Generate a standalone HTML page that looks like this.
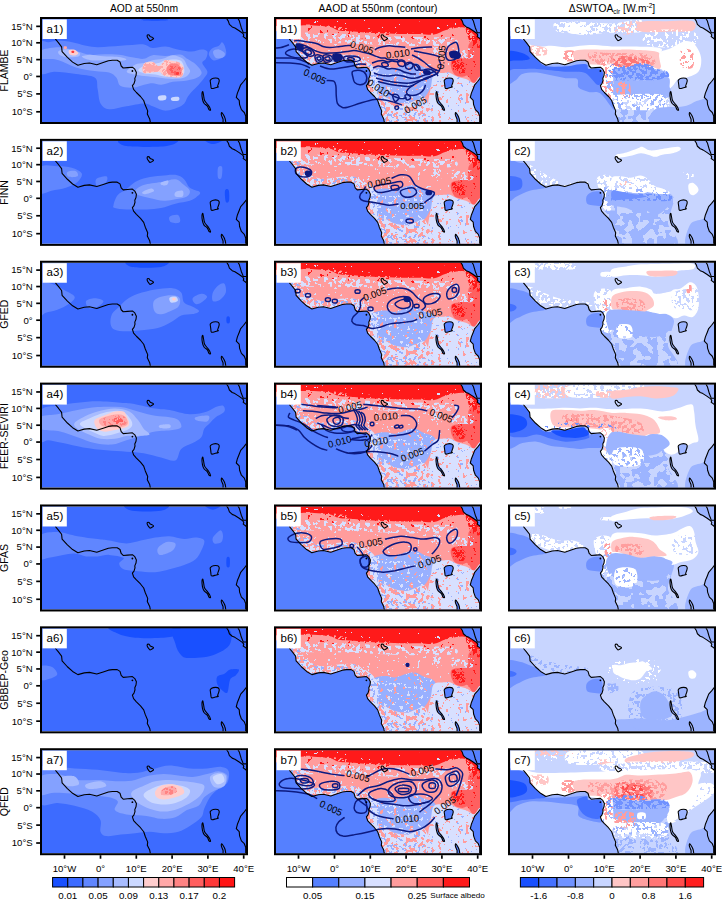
<!DOCTYPE html><html><head><meta charset="utf-8"><style>html,body{margin:0;padding:0;background:#fff;width:722px;height:899px;overflow:hidden}svg{display:block}text{font-family:"Liberation Sans",sans-serif}</style></head><body>
<svg width="722" height="899" viewBox="0 0 722 899">
<defs>
<clipPath id="cp"><rect x="2" y="2" width="204" height="103"/></clipPath>
<g id="coast"><path d="M15.3 21.9 L18.4 25.6 L21.6 29.8 L22.1 34.6 L27.4 40.4 L32.6 45.1 L37.9 48.3 L44.2 46.5 L49.5 46.0 L56.8 47.7 L63.2 45.6 L68.4 43.8 L72.4 43.3 L77.2 43.3 L80.0 45.0 L81.2 49.0 L83.2 51.0 L87.6 50.6 L92.4 50.2 L94.8 52.2 L96.4 55.4 L96.0 58.6 L94.8 61.4 L95.0 63.4 L94.0 66.7 L92.4 68.7 L93.6 72.3 L96.4 75.5 L100.5 79.5 L103.7 83.5 L105.3 88.3 L107.7 93.9 L107.3 97.1 L109.7 101.9 L110.5 106.0" fill="none" stroke="#000" stroke-width="1.1" stroke-linejoin="round"/>
<path d="M186.3 1.0 L188.3 4.1 L189.4 7.4 L192.2 9.9 L194.9 11.0 L198.8 13.5 L202.7 16.3 L203.8 18.0 L203.2 19.6 L205.5 21.3 L207.0 22.6" fill="none" stroke="#000" stroke-width="1.1" stroke-linejoin="round"/>
<path d="M197.7 1.0 L199.4 4.1 L200.2 6.9 L201.3 10.7 L202.7 14.1 L203.2 15.7 L207.0 15.7" fill="none" stroke="#000" stroke-width="1.1" stroke-linejoin="round"/>
<path d="M207.0 60.6 L206.4 60.9 L203.6 64.5 L200.7 67.8 L199.2 71.7 L197.4 76.1 L196.3 80.4 L199.2 83.3 L199.6 87.6 L201.4 92.6 L204.3 95.5 L205.7 99.1 L205.7 106.0" fill="none" stroke="#000" stroke-width="1.1" stroke-linejoin="round"/>
<path d="M170.4 63.1 C170.9 62.5 172.1 61.6 173.3 61.3 C174.5 61.0 176.6 61.0 177.6 61.3 C178.6 61.6 179.0 62.3 179.2 63.1 C179.4 63.9 179.0 65.0 178.7 66.0 C178.4 67.0 177.7 68.5 177.6 69.2 C177.5 69.9 178.7 69.7 178.3 69.9 C178.0 70.2 176.6 70.5 175.5 70.7 C174.4 71.0 172.3 71.8 171.5 71.4 C170.7 71.0 171.0 69.1 170.8 68.1 C170.6 67.1 170.5 66.0 170.4 65.2 C170.3 64.4 169.9 63.8 170.4 63.1 Z" fill="none" stroke="#000" stroke-width="1.1" stroke-linejoin="round"/>
<path d="M162.8 74.6 C163.1 74.9 163.3 77.0 163.6 78.5 C163.9 80.0 163.9 82.0 164.6 83.5 C165.3 85.0 167.1 86.7 167.9 87.8 C168.7 88.9 169.2 89.4 169.6 90.3 C170.0 91.2 170.7 92.6 170.6 93.0 C170.5 93.4 169.5 93.2 169.0 92.6 C168.5 92.0 168.2 90.3 167.4 89.2 C166.6 88.1 164.8 87.4 164.0 86.2 C163.2 85.0 162.7 83.4 162.4 81.8 C162.1 80.2 161.9 77.7 162.0 76.5 C162.1 75.3 162.5 74.3 162.8 74.6 Z" fill="none" stroke="#000" stroke-width="1.1" stroke-linejoin="round"/>
<path d="M181.6 95.5 C181.9 95.5 182.9 96.9 183.4 97.7 C183.9 98.5 184.5 99.6 184.8 100.6 C185.2 101.5 185.4 102.5 185.5 103.4 C185.6 104.3 186.0 105.6 185.6 106.0 C185.2 106.4 183.6 106.7 183.2 106.0 C182.8 105.3 183.3 103.3 183.0 102.0 C182.7 100.7 181.6 99.1 181.4 98.0 C181.2 96.9 181.3 95.5 181.6 95.5 Z" fill="none" stroke="#000" stroke-width="1.1" stroke-linejoin="round"/>
<path d="M107.2 18.3 C107.4 17.9 108.5 17.8 109.0 18.0 C109.5 18.2 109.7 19.2 110.3 19.6 C110.9 20.0 111.9 20.1 112.4 20.4 C113.0 20.7 113.7 21.2 113.6 21.6 C113.5 22.0 112.2 22.7 111.6 23.0 C111.0 23.3 110.5 23.7 110.0 23.6 C109.5 23.5 109.2 22.7 108.8 22.2 C108.4 21.7 107.9 21.2 107.6 20.6 C107.3 20.0 107.0 18.7 107.2 18.3 Z" fill="none" stroke="#000" stroke-width="1.1" stroke-linejoin="round"/>
<circle cx="92.4" cy="54" r="0.9" fill="#000"/></g>
<path id="land" d="M1.0 1.0 L186.3 1.0 L188.3 4.1 L189.4 7.4 L192.2 9.9 L194.9 11.0 L198.8 13.5 L202.7 16.3 L203.8 18.0 L203.2 19.6 L205.5 21.3 L207.0 22.6 L207.0 60.6 L206.4 60.9 L203.6 64.5 L200.7 67.8 L199.2 71.7 L197.4 76.1 L196.3 80.4 L199.2 83.3 L199.6 87.6 L201.4 92.6 L204.3 95.5 L205.7 99.1 L205.7 106.0 L110.5 106.0 L109.7 101.9 L107.3 97.1 L107.7 93.9 L105.3 88.3 L103.7 83.5 L100.5 79.5 L96.4 75.5 L93.6 72.3 L92.4 68.7 L94.0 66.7 L95.0 63.4 L94.8 61.4 L96.0 58.6 L96.4 55.4 L94.8 52.2 L92.4 50.2 L87.6 50.6 L83.2 51.0 L81.2 49.0 L80.0 45.0 L77.2 43.3 L72.4 43.3 L68.4 43.8 L63.2 45.6 L56.8 47.7 L49.5 46.0 L44.2 46.5 L37.9 48.3 L32.6 45.1 L27.4 40.4 L22.1 34.6 L21.6 29.8 L18.4 25.6 L15.3 21.9 L8.0 16.0 L2.0 14.0 Z"/>
<path id="redsea" d="M186.3 1.0 L188.3 4.1 L189.4 7.4 L192.2 9.9 L194.9 11.0 L198.8 13.5 L202.7 16.3 L203.8 18.0 L203.2 19.6 L205.5 21.3 L207.0 22.6 L207.0 15.7 L207.0 15.7 L203.2 15.7 L202.7 14.1 L201.3 10.7 L200.2 6.9 L199.4 4.1 L197.7 1.0 Z"/>
<g id="lakes3"><path d="M170.4 63.1 C170.9 62.5 172.1 61.6 173.3 61.3 C174.5 61.0 176.6 61.0 177.6 61.3 C178.6 61.6 179.0 62.3 179.2 63.1 C179.4 63.9 179.0 65.0 178.7 66.0 C178.4 67.0 177.7 68.5 177.6 69.2 C177.5 69.9 178.7 69.7 178.3 69.9 C178.0 70.2 176.6 70.5 175.5 70.7 C174.4 71.0 172.3 71.8 171.5 71.4 C170.7 71.0 171.0 69.1 170.8 68.1 C170.6 67.1 170.5 66.0 170.4 65.2 C170.3 64.4 169.9 63.8 170.4 63.1 Z"/><path d="M162.8 74.6 C163.1 74.9 163.3 77.0 163.6 78.5 C163.9 80.0 163.9 82.0 164.6 83.5 C165.3 85.0 167.1 86.7 167.9 87.8 C168.7 88.9 169.2 89.4 169.6 90.3 C170.0 91.2 170.7 92.6 170.6 93.0 C170.5 93.4 169.5 93.2 169.0 92.6 C168.5 92.0 168.2 90.3 167.4 89.2 C166.6 88.1 164.8 87.4 164.0 86.2 C163.2 85.0 162.7 83.4 162.4 81.8 C162.1 80.2 161.9 77.7 162.0 76.5 C162.1 75.3 162.5 74.3 162.8 74.6 Z"/><path d="M181.6 95.5 C181.9 95.5 182.9 96.9 183.4 97.7 C183.9 98.5 184.5 99.6 184.8 100.6 C185.2 101.5 185.4 102.5 185.5 103.4 C185.6 104.3 186.0 105.6 185.6 106.0 C185.2 106.4 183.6 106.7 183.2 106.0 C182.8 105.3 183.3 103.3 183.0 102.0 C182.7 100.7 181.6 99.1 181.4 98.0 C181.2 96.9 181.3 95.5 181.6 95.5 Z"/></g>
<clipPath id="lc"><path d="M1.0 1.0 L186.3 1.0 L188.3 4.1 L189.4 7.4 L192.2 9.9 L194.9 11.0 L198.8 13.5 L202.7 16.3 L203.8 18.0 L203.2 19.6 L205.5 21.3 L207.0 22.6 L207.0 60.6 L206.4 60.9 L203.6 64.5 L200.7 67.8 L199.2 71.7 L197.4 76.1 L196.3 80.4 L199.2 83.3 L199.6 87.6 L201.4 92.6 L204.3 95.5 L205.7 99.1 L205.7 106.0 L110.5 106.0 L109.7 101.9 L107.3 97.1 L107.7 93.9 L105.3 88.3 L103.7 83.5 L100.5 79.5 L96.4 75.5 L93.6 72.3 L92.4 68.7 L94.0 66.7 L95.0 63.4 L94.8 61.4 L96.0 58.6 L96.4 55.4 L94.8 52.2 L92.4 50.2 L87.6 50.6 L83.2 51.0 L81.2 49.0 L80.0 45.0 L77.2 43.3 L72.4 43.3 L68.4 43.8 L63.2 45.6 L56.8 47.7 L49.5 46.0 L44.2 46.5 L37.9 48.3 L32.6 45.1 L27.4 40.4 L22.1 34.6 L21.6 29.8 L18.4 25.6 L15.3 21.9 L8.0 16.0 L2.0 14.0 Z"/></clipPath>
<g id="albedo"><rect x="0" y="0" width="208" height="107" fill="#5580ff"/>
<g clip-path="url(#lc)">
<rect x="0" y="0" width="208" height="107" fill="#ff9c9c"/>
<path d="M0.0 -3.0 C35.3 -4.9 176.7 -8.0 212.0 -3.0 C247.3 2.0 213.0 22.0 212.0 27.0 C211.0 32.0 208.0 28.5 206.0 27.0 C204.0 25.5 202.3 20.7 200.0 18.0 C197.7 15.3 194.5 12.2 192.0 11.0 C189.5 9.8 188.3 10.2 185.0 10.5 C181.7 10.8 176.2 11.8 172.0 13.0 C167.8 14.2 164.3 16.8 160.0 17.5 C155.7 18.2 151.0 17.1 146.0 17.0 C141.0 16.9 136.0 17.1 130.0 17.0 C124.0 16.9 116.5 16.8 110.0 16.5 C103.5 16.2 96.0 15.8 91.0 15.5 C86.0 15.2 84.3 14.8 80.0 14.5 C75.7 14.2 69.0 14.2 65.0 13.5 C61.0 12.8 60.2 10.8 56.0 10.0 C51.8 9.2 44.8 8.8 40.0 8.5 C35.2 8.2 33.7 8.5 27.0 8.5 C20.3 8.5 4.5 10.4 0.0 8.5 C-4.5 6.6 -35.3 -1.1 0.0 -3.0 Z" fill="#ff1a1a"/>
<path d="M27.0 7.5 C32.5 7.4 49.5 7.9 60.0 9.0 C70.5 10.1 78.3 12.9 90.0 14.0 C101.7 15.1 117.5 15.2 130.0 15.5 C142.5 15.8 157.5 16.8 165.0 16.0 C172.5 15.2 170.8 12.1 175.0 11.0 C179.2 9.9 187.2 9.3 190.0 9.5 C192.8 9.7 193.7 11.3 192.0 12.0 C190.3 12.7 184.5 12.4 180.0 13.5 C175.5 14.6 173.3 17.8 165.0 18.5 C156.7 19.2 142.5 18.2 130.0 18.0 C117.5 17.8 101.7 17.9 90.0 17.0 C78.3 16.1 70.5 13.8 60.0 12.5 C49.5 11.2 32.5 10.3 27.0 9.5 C21.5 8.7 21.5 7.6 27.0 7.5 Z" fill="#ff9c9c" filter="url(#f89)"/>
<path d="M27.0 3.0 C39.2 2.2 77.8 2.7 100.0 3.0 C122.2 3.3 143.3 4.8 160.0 5.0 C176.7 5.2 193.3 2.8 200.0 4.0 C206.7 5.2 206.7 10.5 200.0 12.0 C193.3 13.5 176.7 13.0 160.0 13.0 C143.3 13.0 122.2 12.8 100.0 12.0 C77.8 11.2 39.2 9.5 27.0 8.0 C14.8 6.5 14.8 3.8 27.0 3.0 Z" fill="#d8e0ff" filter="url(#f90)"/>
<path d="M27.0 8.0 C49.2 8.5 135.3 16.3 160.0 17.0 C184.7 17.7 172.5 11.2 175.0 12.0 C177.5 12.8 187.5 20.3 175.0 22.0 C162.5 23.7 124.7 23.3 100.0 22.0 C75.3 20.7 39.2 16.3 27.0 14.0 C14.8 11.7 4.8 7.5 27.0 8.0 Z" fill="#ff1a1a" filter="url(#f91)"/>
<path d="M20.0 16.0 C26.7 14.6 46.7 16.1 60.0 16.5 C73.3 16.9 86.7 17.9 100.0 18.5 C113.3 19.1 127.0 19.6 140.0 20.0 C153.0 20.4 171.3 19.7 178.0 21.0 C184.7 22.3 186.3 26.7 180.0 28.0 C173.7 29.3 153.3 29.1 140.0 29.0 C126.7 28.9 113.3 28.0 100.0 27.5 C86.7 27.0 73.3 26.4 60.0 26.0 C46.7 25.6 26.7 26.7 20.0 25.0 C13.3 23.3 13.3 17.4 20.0 16.0 Z" fill="#d8e0ff" filter="url(#f92)"/>
<path d="M20.0 25.0 C46.7 20.8 153.3 20.8 180.0 25.0 C206.7 29.2 206.7 45.8 180.0 50.0 C153.3 54.2 46.7 54.2 20.0 50.0 C-6.7 45.8 -6.7 29.2 20.0 25.0 Z" fill="#d8e0ff" filter="url(#f93)"/>
<path d="M12.0 20.0 C11.3 21.0 16.0 24.3 18.0 27.0 C20.0 29.7 21.7 33.2 24.0 36.0 C26.3 38.8 29.7 42.0 32.0 44.0 C34.3 46.0 36.0 47.6 38.0 48.0 C40.0 48.4 41.0 46.5 44.0 46.5 C47.0 46.5 52.0 48.2 56.0 47.7 C60.0 47.2 64.5 44.6 68.0 43.8 C71.5 43.0 74.8 42.1 77.0 43.0 C79.2 43.9 78.5 47.8 81.0 49.0 C83.5 50.2 89.5 49.0 92.0 50.0 C94.5 51.0 95.5 53.0 96.0 55.0 C96.5 57.0 94.2 60.8 95.0 62.0 C95.8 63.2 100.0 63.7 101.0 62.0 C102.0 60.3 102.5 55.0 101.0 52.0 C99.5 49.0 95.5 46.3 92.0 44.0 C88.5 41.7 84.3 39.0 80.0 38.0 C75.7 37.0 70.7 37.7 66.0 38.0 C61.3 38.3 56.3 40.0 52.0 40.0 C47.7 40.0 43.7 39.7 40.0 38.0 C36.3 36.3 33.0 32.8 30.0 30.0 C27.0 27.2 25.0 22.7 22.0 21.0 C19.0 19.3 12.7 19.0 12.0 20.0 Z" fill="#d8e0ff" filter="url(#f94)"/>
<path d="M12.0 20.0 C11.3 21.0 16.0 24.3 18.0 27.0 C20.0 29.7 21.7 33.2 24.0 36.0 C26.3 38.8 29.7 42.0 32.0 44.0 C34.3 46.0 36.0 47.6 38.0 48.0 C40.0 48.4 41.0 46.5 44.0 46.5 C47.0 46.5 52.0 48.2 56.0 47.7 C60.0 47.2 64.5 44.6 68.0 43.8 C71.5 43.0 74.8 42.1 77.0 43.0 C79.2 43.9 78.5 47.8 81.0 49.0 C83.5 50.2 89.5 49.0 92.0 50.0 C94.5 51.0 95.5 53.0 96.0 55.0 C96.5 57.0 94.2 60.8 95.0 62.0 C95.8 63.2 100.0 63.7 101.0 62.0 C102.0 60.3 102.5 55.0 101.0 52.0 C99.5 49.0 95.5 46.3 92.0 44.0 C88.5 41.7 84.3 39.0 80.0 38.0 C75.7 37.0 70.7 37.7 66.0 38.0 C61.3 38.3 56.3 40.0 52.0 40.0 C47.7 40.0 43.7 39.7 40.0 38.0 C36.3 36.3 33.0 32.8 30.0 30.0 C27.0 27.2 25.0 22.7 22.0 21.0 C19.0 19.3 12.7 19.0 12.0 20.0 Z" fill="#98b0ff" filter="url(#f95)"/>
<path d="M195.4 26.4 C197.6 24.0 205.1 16.7 207.0 24.0 C208.9 31.3 208.2 62.7 207.0 70.0 C205.8 77.3 201.9 69.5 200.0 68.0 C198.1 66.5 196.6 62.6 195.4 61.0 C194.2 59.4 193.8 58.6 192.7 58.4 C191.6 58.2 190.5 59.7 188.7 59.7 C186.9 59.7 183.7 59.3 182.0 58.4 C180.3 57.5 179.6 56.2 178.7 54.4 C177.8 52.6 176.7 49.6 176.7 47.7 C176.7 45.8 176.5 44.1 178.7 43.0 C180.9 41.9 187.4 41.8 190.0 41.0 C192.6 40.2 193.1 40.8 194.0 38.4 C194.9 36.0 193.2 28.8 195.4 26.4 Z" fill="#ff6060"/>
<path d="M178.5 44.0 C179.7 42.6 183.8 43.0 186.0 43.7 C188.2 44.4 190.7 46.0 191.4 48.0 C192.1 50.0 191.2 54.4 190.0 55.7 C188.8 57.0 185.8 56.6 184.0 56.0 C182.2 55.4 179.9 54.0 179.0 52.0 C178.1 50.0 177.3 45.4 178.5 44.0 Z" fill="#ff1a1a" filter="url(#f96)"/>
<path d="M192.0 11.0 C193.0 9.3 197.5 9.8 200.0 10.0 C202.5 10.2 205.8 8.7 207.0 12.0 C208.2 15.3 208.5 27.3 207.0 30.0 C205.5 32.7 200.2 29.7 198.0 28.0 C195.8 26.3 195.0 22.8 194.0 20.0 C193.0 17.2 191.0 12.7 192.0 11.0 Z" fill="#ff1a1a" filter="url(#f97)"/>
<path d="M195.4 26.4 C197.6 24.0 205.1 16.7 207.0 24.0 C208.9 31.3 208.2 62.7 207.0 70.0 C205.8 77.3 201.9 69.5 200.0 68.0 C198.1 66.5 196.6 62.6 195.4 61.0 C194.2 59.4 193.8 58.6 192.7 58.4 C191.6 58.2 190.5 59.7 188.7 59.7 C186.9 59.7 183.7 59.3 182.0 58.4 C180.3 57.5 179.6 56.2 178.7 54.4 C177.8 52.6 176.7 49.6 176.7 47.7 C176.7 45.8 176.5 44.1 178.7 43.0 C180.9 41.9 187.4 41.8 190.0 41.0 C192.6 40.2 193.1 40.8 194.0 38.4 C194.9 36.0 193.2 28.8 195.4 26.4 Z" fill="#ff1a1a" filter="url(#f98)"/>
<path d="M178.0 31.7 C180.0 30.2 186.4 30.8 190.0 31.0 C193.6 31.2 198.1 31.3 199.4 33.0 C200.7 34.7 200.4 39.7 198.0 41.0 C195.6 42.3 188.3 41.2 185.0 41.0 C181.7 40.8 179.2 41.5 178.0 40.0 C176.8 38.5 176.0 33.2 178.0 31.7 Z" fill="#d8e0ff" filter="url(#f99)"/>
<path d="M160.0 31.0 C161.2 29.6 166.1 29.6 167.3 31.0 C168.5 32.5 168.5 38.2 167.3 39.7 C166.1 41.2 161.2 41.2 160.0 39.7 C158.8 38.2 158.8 32.5 160.0 31.0 Z" fill="#d8e0ff" filter="url(#f100)"/>
<path d="M96.0 55.0 C97.0 51.7 101.2 51.3 104.0 50.4 C106.8 49.5 109.7 49.6 112.6 49.7 C115.5 49.8 117.9 51.5 121.3 51.1 C124.7 50.7 129.4 48.3 132.8 47.5 C136.2 46.7 138.6 45.6 141.5 46.1 C144.4 46.6 147.2 49.2 150.1 50.4 C153.0 51.6 156.8 52.1 158.7 53.3 C160.6 54.5 161.6 55.7 161.6 57.6 C161.6 59.5 159.6 62.4 158.7 64.8 C157.8 67.2 157.3 69.3 155.9 72.0 C154.5 74.7 152.5 78.8 150.1 80.7 C147.7 82.6 144.4 82.5 141.5 83.5 C138.6 84.5 136.2 86.2 132.8 86.4 C129.4 86.7 124.7 86.0 121.3 85.0 C117.9 84.0 115.5 81.9 112.6 80.7 C109.7 79.5 106.4 79.6 104.0 77.8 C101.6 76.0 99.3 73.8 98.0 70.0 C96.7 66.2 95.0 58.3 96.0 55.0 Z" fill="#98b0ff"/>
<path d="M96.0 55.0 C97.0 51.7 101.2 51.3 104.0 50.4 C106.8 49.5 109.7 49.6 112.6 49.7 C115.5 49.8 117.9 51.5 121.3 51.1 C124.7 50.7 129.4 48.3 132.8 47.5 C136.2 46.7 138.6 45.6 141.5 46.1 C144.4 46.6 147.2 49.2 150.1 50.4 C153.0 51.6 156.8 52.1 158.7 53.3 C160.6 54.5 161.6 55.7 161.6 57.6 C161.6 59.5 159.6 62.4 158.7 64.8 C157.8 67.2 157.3 69.3 155.9 72.0 C154.5 74.7 152.5 78.8 150.1 80.7 C147.7 82.6 144.4 82.5 141.5 83.5 C138.6 84.5 136.2 86.2 132.8 86.4 C129.4 86.7 124.7 86.0 121.3 85.0 C117.9 84.0 115.5 81.9 112.6 80.7 C109.7 79.5 106.4 79.6 104.0 77.8 C101.6 76.0 99.3 73.8 98.0 70.0 C96.7 66.2 95.0 58.3 96.0 55.0 Z" fill="#ff9c9c" filter="url(#f101)"/>
<path d="M96.0 55.0 C97.0 51.7 101.2 51.3 104.0 50.4 C106.8 49.5 109.7 49.6 112.6 49.7 C115.5 49.8 117.9 51.5 121.3 51.1 C124.7 50.7 129.4 48.3 132.8 47.5 C136.2 46.7 138.6 45.6 141.5 46.1 C144.4 46.6 147.2 49.2 150.1 50.4 C153.0 51.6 156.8 52.1 158.7 53.3 C160.6 54.5 161.6 55.7 161.6 57.6 C161.6 59.5 159.6 62.4 158.7 64.8 C157.8 67.2 157.3 69.3 155.9 72.0 C154.5 74.7 152.5 78.8 150.1 80.7 C147.7 82.6 144.4 82.5 141.5 83.5 C138.6 84.5 136.2 86.2 132.8 86.4 C129.4 86.7 124.7 86.0 121.3 85.0 C117.9 84.0 115.5 81.9 112.6 80.7 C109.7 79.5 106.4 79.6 104.0 77.8 C101.6 76.0 99.3 73.8 98.0 70.0 C96.7 66.2 95.0 58.3 96.0 55.0 Z" fill="#d8e0ff" filter="url(#f102)"/>
<path d="M160.0 57.6 C162.2 55.3 167.3 56.3 170.0 56.0 C172.7 55.7 173.7 55.3 176.0 56.0 C178.3 56.7 181.3 59.0 184.0 60.0 C186.7 61.0 189.3 61.0 192.0 62.0 C194.7 63.0 197.5 66.0 200.0 66.0 C202.5 66.0 205.8 55.0 207.0 62.0 C208.2 69.0 215.2 100.3 207.0 108.0 C198.8 115.7 166.8 111.0 158.0 108.0 C149.2 105.0 154.2 96.3 154.0 90.0 C153.8 83.7 156.0 75.4 157.0 70.0 C158.0 64.6 157.8 59.9 160.0 57.6 Z" fill="#d8e0ff"/>
<path d="M160.0 57.6 C162.2 55.3 167.3 56.3 170.0 56.0 C172.7 55.7 173.7 55.3 176.0 56.0 C178.3 56.7 181.3 59.0 184.0 60.0 C186.7 61.0 189.3 61.0 192.0 62.0 C194.7 63.0 197.5 66.0 200.0 66.0 C202.5 66.0 205.8 55.0 207.0 62.0 C208.2 69.0 215.2 100.3 207.0 108.0 C198.8 115.7 166.8 111.0 158.0 108.0 C149.2 105.0 154.2 96.3 154.0 90.0 C153.8 83.7 156.0 75.4 157.0 70.0 C158.0 64.6 157.8 59.9 160.0 57.6 Z" fill="#ff9c9c" filter="url(#f103)"/>
<path d="M160.0 57.6 C162.2 55.3 167.3 56.3 170.0 56.0 C172.7 55.7 173.7 55.3 176.0 56.0 C178.3 56.7 181.3 59.0 184.0 60.0 C186.7 61.0 189.3 61.0 192.0 62.0 C194.7 63.0 197.5 66.0 200.0 66.0 C202.5 66.0 205.8 55.0 207.0 62.0 C208.2 69.0 215.2 100.3 207.0 108.0 C198.8 115.7 166.8 111.0 158.0 108.0 C149.2 105.0 154.2 96.3 154.0 90.0 C153.8 83.7 156.0 75.4 157.0 70.0 C158.0 64.6 157.8 59.9 160.0 57.6 Z" fill="#98b0ff" filter="url(#f104)"/>
<path d="M98.0 72.0 C99.0 67.0 101.6 76.3 104.0 77.8 C106.4 79.2 109.7 79.5 112.6 80.7 C115.5 81.9 117.9 84.0 121.3 85.0 C124.7 86.0 129.4 86.7 132.8 86.4 C136.2 86.2 138.6 84.5 141.5 83.5 C144.4 82.5 147.8 79.6 150.1 80.7 C152.3 81.8 153.7 85.5 155.0 90.0 C156.3 94.5 167.5 105.0 158.0 108.0 C148.5 111.0 108.0 114.0 98.0 108.0 C88.0 102.0 97.0 77.0 98.0 72.0 Z" fill="#d8e0ff"/>
<path d="M98.0 72.0 C99.0 67.0 101.6 76.3 104.0 77.8 C106.4 79.2 109.7 79.5 112.6 80.7 C115.5 81.9 117.9 84.0 121.3 85.0 C124.7 86.0 129.4 86.7 132.8 86.4 C136.2 86.2 138.6 84.5 141.5 83.5 C144.4 82.5 147.8 79.6 150.1 80.7 C152.3 81.8 153.7 85.5 155.0 90.0 C156.3 94.5 167.5 105.0 158.0 108.0 C148.5 111.0 108.0 114.0 98.0 108.0 C88.0 102.0 97.0 77.0 98.0 72.0 Z" fill="#ff9c9c" filter="url(#f105)"/>
<path d="M98.0 72.0 C99.0 67.0 101.6 76.3 104.0 77.8 C106.4 79.2 109.7 79.5 112.6 80.7 C115.5 81.9 117.9 84.0 121.3 85.0 C124.7 86.0 129.4 86.7 132.8 86.4 C136.2 86.2 138.6 84.5 141.5 83.5 C144.4 82.5 147.8 79.6 150.1 80.7 C152.3 81.8 153.7 85.5 155.0 90.0 C156.3 94.5 167.5 105.0 158.0 108.0 C148.5 111.0 108.0 114.0 98.0 108.0 C88.0 102.0 97.0 77.0 98.0 72.0 Z" fill="#98b0ff" filter="url(#f106)"/>
<path d="M95.0 55.0 C95.8 45.7 98.5 51.2 100.0 52.0 C101.5 52.8 103.3 50.7 104.0 60.0 C104.7 69.3 105.5 100.0 104.0 108.0 C102.5 116.0 96.5 116.8 95.0 108.0 C93.5 99.2 94.2 64.3 95.0 55.0 Z" fill="#d8e0ff" filter="url(#f107)"/>
</g>
<use href="#lakes3" fill="#5580ff"/><use href="#redsea" fill="#5580ff"/></g>
<filter id="f0" x="0" y="0" width="1" height="1" color-interpolation-filters="sRGB"><feTurbulence type="fractalNoise" baseFrequency="0.3" numOctaves="2" seed="21" result="n"/><feColorMatrix in="n" type="matrix" values="0 0 0 0 0 0 0 0 0 0 0 0 0 0 0 20 0 0 0 -9.552" result="a"/><feComponentTransfer in="a" result="t"><feFuncA type="discrete" tableValues="0 1"/></feComponentTransfer><feComposite in="SourceGraphic" in2="t" operator="in"/></filter>
<filter id="f1" x="0" y="0" width="1" height="1" color-interpolation-filters="sRGB"><feTurbulence type="fractalNoise" baseFrequency="0.3" numOctaves="2" seed="22" result="n"/><feColorMatrix in="n" type="matrix" values="0 0 0 0 0 0 0 0 0 0 0 0 0 0 0 20 0 0 0 -10.763" result="a"/><feComponentTransfer in="a" result="t"><feFuncA type="discrete" tableValues="0 1"/></feComponentTransfer><feComposite in="SourceGraphic" in2="t" operator="in"/></filter>
<filter id="f2" x="0" y="0" width="1" height="1" color-interpolation-filters="sRGB"><feTurbulence type="fractalNoise" baseFrequency="0.12" numOctaves="2" seed="203" result="n"/><feColorMatrix in="n" type="matrix" values="0 0 0 0 0 0 0 0 0 0 0 0 0 0 0 20 0 0 0 -12.059" result="a"/><feComponentTransfer in="a" result="t"><feFuncA type="discrete" tableValues="0 1"/></feComponentTransfer><feComposite in="SourceGraphic" in2="t" operator="in"/></filter>
<filter id="f3" x="0" y="0" width="1" height="1" color-interpolation-filters="sRGB"><feTurbulence type="fractalNoise" baseFrequency="0.12" numOctaves="2" seed="204" result="n"/><feColorMatrix in="n" type="matrix" values="0 0 0 0 0 0 0 0 0 0 0 0 0 0 0 20 0 0 0 -10.126" result="a"/><feComponentTransfer in="a" result="t"><feFuncA type="discrete" tableValues="0 1"/></feComponentTransfer><feComposite in="SourceGraphic" in2="t" operator="in"/></filter>
<filter id="f4" x="0" y="0" width="1" height="1" color-interpolation-filters="sRGB"><feTurbulence type="fractalNoise" baseFrequency="0.28" numOctaves="2" seed="51" result="n"/><feColorMatrix in="n" type="matrix" values="0 0 0 0 0 0 0 0 0 0 0 0 0 0 0 20 0 0 0 -9.241" result="a"/><feComponentTransfer in="a" result="t"><feFuncA type="discrete" tableValues="0 1"/></feComponentTransfer><feComposite in="SourceGraphic" in2="t" operator="in"/></filter>
<filter id="f5" x="0" y="0" width="1" height="1" color-interpolation-filters="sRGB"><feTurbulence type="fractalNoise" baseFrequency="0.28" numOctaves="2" seed="52" result="n"/><feColorMatrix in="n" type="matrix" values="0 0 0 0 0 0 0 0 0 0 0 0 0 0 0 20 0 0 0 -7.500" result="a"/><feComponentTransfer in="a" result="t"><feFuncA type="discrete" tableValues="0 1"/></feComponentTransfer><feComposite in="SourceGraphic" in2="t" operator="in"/></filter>
<filter id="f6" x="0" y="0" width="1" height="1" color-interpolation-filters="sRGB"><feTurbulence type="fractalNoise" baseFrequency="0.28" numOctaves="2" seed="133" result="n"/><feColorMatrix in="n" type="matrix" values="0 0 0 0 0 0 0 0 0 0 0 0 0 0 0 20 0 0 0 -10.126" result="a"/><feComponentTransfer in="a" result="t"><feFuncA type="discrete" tableValues="0 1"/></feComponentTransfer><feComposite in="SourceGraphic" in2="t" operator="in"/></filter>
<filter id="f7" x="0" y="0" width="1" height="1" color-interpolation-filters="sRGB"><feTurbulence type="fractalNoise" baseFrequency="0.28" numOctaves="2" seed="53" result="n"/><feColorMatrix in="n" type="matrix" values="0 0 0 0 0 0 0 0 0 0 0 0 0 0 0 20 0 0 0 -11.139" result="a"/><feComponentTransfer in="a" result="t"><feFuncA type="discrete" tableValues="0 1"/></feComponentTransfer><feComposite in="SourceGraphic" in2="t" operator="in"/></filter>
<filter id="f8" x="0" y="0" width="1" height="1" color-interpolation-filters="sRGB"><feTurbulence type="fractalNoise" baseFrequency="0.28" numOctaves="2" seed="54" result="n"/><feColorMatrix in="n" type="matrix" values="0 0 0 0 0 0 0 0 0 0 0 0 0 0 0 20 0 0 0 -9.241" result="a"/><feComponentTransfer in="a" result="t"><feFuncA type="discrete" tableValues="0 1"/></feComponentTransfer><feComposite in="SourceGraphic" in2="t" operator="in"/></filter>
<filter id="f9" x="0" y="0" width="1" height="1" color-interpolation-filters="sRGB"><feTurbulence type="fractalNoise" baseFrequency="0.28" numOctaves="2" seed="55" result="n"/><feColorMatrix in="n" type="matrix" values="0 0 0 0 0 0 0 0 0 0 0 0 0 0 0 20 0 0 0 -8.924" result="a"/><feComponentTransfer in="a" result="t"><feFuncA type="discrete" tableValues="0 1"/></feComponentTransfer><feComposite in="SourceGraphic" in2="t" operator="in"/></filter>
<filter id="f10" x="0" y="0" width="1" height="1" color-interpolation-filters="sRGB"><feTurbulence type="fractalNoise" baseFrequency="0.28" numOctaves="2" seed="56" result="n"/><feColorMatrix in="n" type="matrix" values="0 0 0 0 0 0 0 0 0 0 0 0 0 0 0 20 0 0 0 -9.552" result="a"/><feComponentTransfer in="a" result="t"><feFuncA type="discrete" tableValues="0 1"/></feComponentTransfer><feComposite in="SourceGraphic" in2="t" operator="in"/></filter>
<filter id="f11" x="0" y="0" width="1" height="1" color-interpolation-filters="sRGB"><feTurbulence type="fractalNoise" baseFrequency="0.28" numOctaves="2" seed="57" result="n"/><feColorMatrix in="n" type="matrix" values="0 0 0 0 0 0 0 0 0 0 0 0 0 0 0 20 0 0 0 -9.241" result="a"/><feComponentTransfer in="a" result="t"><feFuncA type="discrete" tableValues="0 1"/></feComponentTransfer><feComposite in="SourceGraphic" in2="t" operator="in"/></filter>
<filter id="f12" x="0" y="0" width="1" height="1" color-interpolation-filters="sRGB"><feTurbulence type="fractalNoise" baseFrequency="0.28" numOctaves="2" seed="58" result="n"/><feColorMatrix in="n" type="matrix" values="0 0 0 0 0 0 0 0 0 0 0 0 0 0 0 20 0 0 0 -10.126" result="a"/><feComponentTransfer in="a" result="t"><feFuncA type="discrete" tableValues="0 1"/></feComponentTransfer><feComposite in="SourceGraphic" in2="t" operator="in"/></filter>
<filter id="f13" x="0" y="0" width="1" height="1" color-interpolation-filters="sRGB"><feTurbulence type="fractalNoise" baseFrequency="0.28" numOctaves="2" seed="59" result="n"/><feColorMatrix in="n" type="matrix" values="0 0 0 0 0 0 0 0 0 0 0 0 0 0 0 20 0 0 0 -10.414" result="a"/><feComponentTransfer in="a" result="t"><feFuncA type="discrete" tableValues="0 1"/></feComponentTransfer><feComposite in="SourceGraphic" in2="t" operator="in"/></filter>
<filter id="f14" x="0" y="0" width="1" height="1" color-interpolation-filters="sRGB"><feTurbulence type="fractalNoise" baseFrequency="0.28" numOctaves="2" seed="132" result="n"/><feColorMatrix in="n" type="matrix" values="0 0 0 0 0 0 0 0 0 0 0 0 0 0 0 20 0 0 0 -8.924" result="a"/><feComponentTransfer in="a" result="t"><feFuncA type="discrete" tableValues="0 1"/></feComponentTransfer><feComposite in="SourceGraphic" in2="t" operator="in"/></filter>
<filter id="f15" x="0" y="0" width="1" height="1" color-interpolation-filters="sRGB"><feTurbulence type="fractalNoise" baseFrequency="0.28" numOctaves="2" seed="60" result="n"/><feColorMatrix in="n" type="matrix" values="0 0 0 0 0 0 0 0 0 0 0 0 0 0 0 20 0 0 0 -9.552" result="a"/><feComponentTransfer in="a" result="t"><feFuncA type="discrete" tableValues="0 1"/></feComponentTransfer><feComposite in="SourceGraphic" in2="t" operator="in"/></filter>
<filter id="f16" x="0" y="0" width="1" height="1" color-interpolation-filters="sRGB"><feTurbulence type="fractalNoise" baseFrequency="0.28" numOctaves="2" seed="61" result="n"/><feColorMatrix in="n" type="matrix" values="0 0 0 0 0 0 0 0 0 0 0 0 0 0 0 20 0 0 0 -8.924" result="a"/><feComponentTransfer in="a" result="t"><feFuncA type="discrete" tableValues="0 1"/></feComponentTransfer><feComposite in="SourceGraphic" in2="t" operator="in"/></filter>
<filter id="f17" x="0" y="0" width="1" height="1" color-interpolation-filters="sRGB"><feTurbulence type="fractalNoise" baseFrequency="0.28" numOctaves="2" seed="62" result="n"/><feColorMatrix in="n" type="matrix" values="0 0 0 0 0 0 0 0 0 0 0 0 0 0 0 20 0 0 0 -9.241" result="a"/><feComponentTransfer in="a" result="t"><feFuncA type="discrete" tableValues="0 1"/></feComponentTransfer><feComposite in="SourceGraphic" in2="t" operator="in"/></filter>
<filter id="f18" x="0" y="0" width="1" height="1" color-interpolation-filters="sRGB"><feTurbulence type="fractalNoise" baseFrequency="0.28" numOctaves="2" seed="63" result="n"/><feColorMatrix in="n" type="matrix" values="0 0 0 0 0 0 0 0 0 0 0 0 0 0 0 20 0 0 0 -11.139" result="a"/><feComponentTransfer in="a" result="t"><feFuncA type="discrete" tableValues="0 1"/></feComponentTransfer><feComposite in="SourceGraphic" in2="t" operator="in"/></filter>
<filter id="f19" x="0" y="0" width="1" height="1" color-interpolation-filters="sRGB"><feTurbulence type="fractalNoise" baseFrequency="0.12" numOctaves="2" seed="206" result="n"/><feColorMatrix in="n" type="matrix" values="0 0 0 0 0 0 0 0 0 0 0 0 0 0 0 20 0 0 0 -12.059" result="a"/><feComponentTransfer in="a" result="t"><feFuncA type="discrete" tableValues="0 1"/></feComponentTransfer><feComposite in="SourceGraphic" in2="t" operator="in"/></filter>
<filter id="f20" x="0" y="0" width="1" height="1" color-interpolation-filters="sRGB"><feTurbulence type="fractalNoise" baseFrequency="0.12" numOctaves="2" seed="207" result="n"/><feColorMatrix in="n" type="matrix" values="0 0 0 0 0 0 0 0 0 0 0 0 0 0 0 20 0 0 0 -10.126" result="a"/><feComponentTransfer in="a" result="t"><feFuncA type="discrete" tableValues="0 1"/></feComponentTransfer><feComposite in="SourceGraphic" in2="t" operator="in"/></filter>
<filter id="f21" x="0" y="0" width="1" height="1" color-interpolation-filters="sRGB"><feTurbulence type="fractalNoise" baseFrequency="0.28" numOctaves="2" seed="64" result="n"/><feColorMatrix in="n" type="matrix" values="0 0 0 0 0 0 0 0 0 0 0 0 0 0 0 20 0 0 0 -10.763" result="a"/><feComponentTransfer in="a" result="t"><feFuncA type="discrete" tableValues="0 1"/></feComponentTransfer><feComposite in="SourceGraphic" in2="t" operator="in"/></filter>
<filter id="f22" x="0" y="0" width="1" height="1" color-interpolation-filters="sRGB"><feTurbulence type="fractalNoise" baseFrequency="0.28" numOctaves="2" seed="65" result="n"/><feColorMatrix in="n" type="matrix" values="0 0 0 0 0 0 0 0 0 0 0 0 0 0 0 20 0 0 0 -8.252" result="a"/><feComponentTransfer in="a" result="t"><feFuncA type="discrete" tableValues="0 1"/></feComponentTransfer><feComposite in="SourceGraphic" in2="t" operator="in"/></filter>
<filter id="f23" x="0" y="0" width="1" height="1" color-interpolation-filters="sRGB"><feTurbulence type="fractalNoise" baseFrequency="0.28" numOctaves="2" seed="66" result="n"/><feColorMatrix in="n" type="matrix" values="0 0 0 0 0 0 0 0 0 0 0 0 0 0 0 20 0 0 0 -7.876" result="a"/><feComponentTransfer in="a" result="t"><feFuncA type="discrete" tableValues="0 1"/></feComponentTransfer><feComposite in="SourceGraphic" in2="t" operator="in"/></filter>
<filter id="f24" x="0" y="0" width="1" height="1" color-interpolation-filters="sRGB"><feTurbulence type="fractalNoise" baseFrequency="0.28" numOctaves="2" seed="67" result="n"/><feColorMatrix in="n" type="matrix" values="0 0 0 0 0 0 0 0 0 0 0 0 0 0 0 20 0 0 0 -10.414" result="a"/><feComponentTransfer in="a" result="t"><feFuncA type="discrete" tableValues="0 1"/></feComponentTransfer><feComposite in="SourceGraphic" in2="t" operator="in"/></filter>
<filter id="f25" x="0" y="0" width="1" height="1" color-interpolation-filters="sRGB"><feTurbulence type="fractalNoise" baseFrequency="0.28" numOctaves="2" seed="134" result="n"/><feColorMatrix in="n" type="matrix" values="0 0 0 0 0 0 0 0 0 0 0 0 0 0 0 20 0 0 0 -10.414" result="a"/><feComponentTransfer in="a" result="t"><feFuncA type="discrete" tableValues="0 1"/></feComponentTransfer><feComposite in="SourceGraphic" in2="t" operator="in"/></filter>
<filter id="f26" x="0" y="0" width="1" height="1" color-interpolation-filters="sRGB"><feTurbulence type="fractalNoise" baseFrequency="0.28" numOctaves="2" seed="69" result="n"/><feColorMatrix in="n" type="matrix" values="0 0 0 0 0 0 0 0 0 0 0 0 0 0 0 20 0 0 0 -10.763" result="a"/><feComponentTransfer in="a" result="t"><feFuncA type="discrete" tableValues="0 1"/></feComponentTransfer><feComposite in="SourceGraphic" in2="t" operator="in"/></filter>
<filter id="f27" x="0" y="0" width="1" height="1" color-interpolation-filters="sRGB"><feTurbulence type="fractalNoise" baseFrequency="0.12" numOctaves="2" seed="209" result="n"/><feColorMatrix in="n" type="matrix" values="0 0 0 0 0 0 0 0 0 0 0 0 0 0 0 20 0 0 0 -12.059" result="a"/><feComponentTransfer in="a" result="t"><feFuncA type="discrete" tableValues="0 1"/></feComponentTransfer><feComposite in="SourceGraphic" in2="t" operator="in"/></filter>
<filter id="f28" x="0" y="0" width="1" height="1" color-interpolation-filters="sRGB"><feTurbulence type="fractalNoise" baseFrequency="0.12" numOctaves="2" seed="210" result="n"/><feColorMatrix in="n" type="matrix" values="0 0 0 0 0 0 0 0 0 0 0 0 0 0 0 20 0 0 0 -10.126" result="a"/><feComponentTransfer in="a" result="t"><feFuncA type="discrete" tableValues="0 1"/></feComponentTransfer><feComposite in="SourceGraphic" in2="t" operator="in"/></filter>
<filter id="f29" x="0" y="0" width="1" height="1" color-interpolation-filters="sRGB"><feTurbulence type="fractalNoise" baseFrequency="0.28" numOctaves="2" seed="71" result="n"/><feColorMatrix in="n" type="matrix" values="0 0 0 0 0 0 0 0 0 0 0 0 0 0 0 20 0 0 0 -9.241" result="a"/><feComponentTransfer in="a" result="t"><feFuncA type="discrete" tableValues="0 1"/></feComponentTransfer><feComposite in="SourceGraphic" in2="t" operator="in"/></filter>
<filter id="f30" x="0" y="0" width="1" height="1" color-interpolation-filters="sRGB"><feTurbulence type="fractalNoise" baseFrequency="0.28" numOctaves="2" seed="72" result="n"/><feColorMatrix in="n" type="matrix" values="0 0 0 0 0 0 0 0 0 0 0 0 0 0 0 20 0 0 0 -7.500" result="a"/><feComponentTransfer in="a" result="t"><feFuncA type="discrete" tableValues="0 1"/></feComponentTransfer><feComposite in="SourceGraphic" in2="t" operator="in"/></filter>
<filter id="f31" x="0" y="0" width="1" height="1" color-interpolation-filters="sRGB"><feTurbulence type="fractalNoise" baseFrequency="0.28" numOctaves="2" seed="73" result="n"/><feColorMatrix in="n" type="matrix" values="0 0 0 0 0 0 0 0 0 0 0 0 0 0 0 20 0 0 0 -10.414" result="a"/><feComponentTransfer in="a" result="t"><feFuncA type="discrete" tableValues="0 1"/></feComponentTransfer><feComposite in="SourceGraphic" in2="t" operator="in"/></filter>
<filter id="f32" x="0" y="0" width="1" height="1" color-interpolation-filters="sRGB"><feTurbulence type="fractalNoise" baseFrequency="0.28" numOctaves="2" seed="74" result="n"/><feColorMatrix in="n" type="matrix" values="0 0 0 0 0 0 0 0 0 0 0 0 0 0 0 20 0 0 0 -7.876" result="a"/><feComponentTransfer in="a" result="t"><feFuncA type="discrete" tableValues="0 1"/></feComponentTransfer><feComposite in="SourceGraphic" in2="t" operator="in"/></filter>
<filter id="f33" x="0" y="0" width="1" height="1" color-interpolation-filters="sRGB"><feTurbulence type="fractalNoise" baseFrequency="0.28" numOctaves="2" seed="75" result="n"/><feColorMatrix in="n" type="matrix" values="0 0 0 0 0 0 0 0 0 0 0 0 0 0 0 20 0 0 0 -10.763" result="a"/><feComponentTransfer in="a" result="t"><feFuncA type="discrete" tableValues="0 1"/></feComponentTransfer><feComposite in="SourceGraphic" in2="t" operator="in"/></filter>
<filter id="f34" x="0" y="0" width="1" height="1" color-interpolation-filters="sRGB"><feTurbulence type="fractalNoise" baseFrequency="0.28" numOctaves="2" seed="76" result="n"/><feColorMatrix in="n" type="matrix" values="0 0 0 0 0 0 0 0 0 0 0 0 0 0 0 20 0 0 0 -10.414" result="a"/><feComponentTransfer in="a" result="t"><feFuncA type="discrete" tableValues="0 1"/></feComponentTransfer><feComposite in="SourceGraphic" in2="t" operator="in"/></filter>
<filter id="f35" x="0" y="0" width="1" height="1" color-interpolation-filters="sRGB"><feTurbulence type="fractalNoise" baseFrequency="0.28" numOctaves="2" seed="77" result="n"/><feColorMatrix in="n" type="matrix" values="0 0 0 0 0 0 0 0 0 0 0 0 0 0 0 20 0 0 0 -9.552" result="a"/><feComponentTransfer in="a" result="t"><feFuncA type="discrete" tableValues="0 1"/></feComponentTransfer><feComposite in="SourceGraphic" in2="t" operator="in"/></filter>
<filter id="f36" x="0" y="0" width="1" height="1" color-interpolation-filters="sRGB"><feTurbulence type="fractalNoise" baseFrequency="0.28" numOctaves="2" seed="78" result="n"/><feColorMatrix in="n" type="matrix" values="0 0 0 0 0 0 0 0 0 0 0 0 0 0 0 20 0 0 0 -8.924" result="a"/><feComponentTransfer in="a" result="t"><feFuncA type="discrete" tableValues="0 1"/></feComponentTransfer><feComposite in="SourceGraphic" in2="t" operator="in"/></filter>
<filter id="f37" x="0" y="0" width="1" height="1" color-interpolation-filters="sRGB"><feTurbulence type="fractalNoise" baseFrequency="0.28" numOctaves="2" seed="79" result="n"/><feColorMatrix in="n" type="matrix" values="0 0 0 0 0 0 0 0 0 0 0 0 0 0 0 20 0 0 0 -7.500" result="a"/><feComponentTransfer in="a" result="t"><feFuncA type="discrete" tableValues="0 1"/></feComponentTransfer><feComposite in="SourceGraphic" in2="t" operator="in"/></filter>
<filter id="f38" x="0" y="0" width="1" height="1" color-interpolation-filters="sRGB"><feTurbulence type="fractalNoise" baseFrequency="0.3" numOctaves="2" seed="31" result="n"/><feColorMatrix in="n" type="matrix" values="0 0 0 0 0 0 0 0 0 0 0 0 0 0 0 20 0 0 0 -10.763" result="a"/><feComponentTransfer in="a" result="t"><feFuncA type="discrete" tableValues="0 1"/></feComponentTransfer><feComposite in="SourceGraphic" in2="t" operator="in"/></filter>
<filter id="f39" x="0" y="0" width="1" height="1" color-interpolation-filters="sRGB"><feTurbulence type="fractalNoise" baseFrequency="0.3" numOctaves="2" seed="32" result="n"/><feColorMatrix in="n" type="matrix" values="0 0 0 0 0 0 0 0 0 0 0 0 0 0 0 20 0 0 0 -9.552" result="a"/><feComponentTransfer in="a" result="t"><feFuncA type="discrete" tableValues="0 1"/></feComponentTransfer><feComposite in="SourceGraphic" in2="t" operator="in"/></filter>
<filter id="f40" x="0" y="0" width="1" height="1" color-interpolation-filters="sRGB"><feTurbulence type="fractalNoise" baseFrequency="0.12" numOctaves="2" seed="212" result="n"/><feColorMatrix in="n" type="matrix" values="0 0 0 0 0 0 0 0 0 0 0 0 0 0 0 20 0 0 0 -12.059" result="a"/><feComponentTransfer in="a" result="t"><feFuncA type="discrete" tableValues="0 1"/></feComponentTransfer><feComposite in="SourceGraphic" in2="t" operator="in"/></filter>
<filter id="f41" x="0" y="0" width="1" height="1" color-interpolation-filters="sRGB"><feTurbulence type="fractalNoise" baseFrequency="0.12" numOctaves="2" seed="213" result="n"/><feColorMatrix in="n" type="matrix" values="0 0 0 0 0 0 0 0 0 0 0 0 0 0 0 20 0 0 0 -10.126" result="a"/><feComponentTransfer in="a" result="t"><feFuncA type="discrete" tableValues="0 1"/></feComponentTransfer><feComposite in="SourceGraphic" in2="t" operator="in"/></filter>
<filter id="f42" x="0" y="0" width="1" height="1" color-interpolation-filters="sRGB"><feTurbulence type="fractalNoise" baseFrequency="0.28" numOctaves="2" seed="81" result="n"/><feColorMatrix in="n" type="matrix" values="0 0 0 0 0 0 0 0 0 0 0 0 0 0 0 20 0 0 0 -9.552" result="a"/><feComponentTransfer in="a" result="t"><feFuncA type="discrete" tableValues="0 1"/></feComponentTransfer><feComposite in="SourceGraphic" in2="t" operator="in"/></filter>
<filter id="f43" x="0" y="0" width="1" height="1" color-interpolation-filters="sRGB"><feTurbulence type="fractalNoise" baseFrequency="0.28" numOctaves="2" seed="82" result="n"/><feColorMatrix in="n" type="matrix" values="0 0 0 0 0 0 0 0 0 0 0 0 0 0 0 20 0 0 0 -11.139" result="a"/><feComponentTransfer in="a" result="t"><feFuncA type="discrete" tableValues="0 1"/></feComponentTransfer><feComposite in="SourceGraphic" in2="t" operator="in"/></filter>
<filter id="f44" x="0" y="0" width="1" height="1" color-interpolation-filters="sRGB"><feTurbulence type="fractalNoise" baseFrequency="0.28" numOctaves="2" seed="83" result="n"/><feColorMatrix in="n" type="matrix" values="0 0 0 0 0 0 0 0 0 0 0 0 0 0 0 20 0 0 0 -8.252" result="a"/><feComponentTransfer in="a" result="t"><feFuncA type="discrete" tableValues="0 1"/></feComponentTransfer><feComposite in="SourceGraphic" in2="t" operator="in"/></filter>
<filter id="f45" x="0" y="0" width="1" height="1" color-interpolation-filters="sRGB"><feTurbulence type="fractalNoise" baseFrequency="0.28" numOctaves="2" seed="84" result="n"/><feColorMatrix in="n" type="matrix" values="0 0 0 0 0 0 0 0 0 0 0 0 0 0 0 20 0 0 0 -8.924" result="a"/><feComponentTransfer in="a" result="t"><feFuncA type="discrete" tableValues="0 1"/></feComponentTransfer><feComposite in="SourceGraphic" in2="t" operator="in"/></filter>
<filter id="f46" x="0" y="0" width="1" height="1" color-interpolation-filters="sRGB"><feTurbulence type="fractalNoise" baseFrequency="0.28" numOctaves="2" seed="85" result="n"/><feColorMatrix in="n" type="matrix" values="0 0 0 0 0 0 0 0 0 0 0 0 0 0 0 20 0 0 0 -9.839" result="a"/><feComponentTransfer in="a" result="t"><feFuncA type="discrete" tableValues="0 1"/></feComponentTransfer><feComposite in="SourceGraphic" in2="t" operator="in"/></filter>
<filter id="f47" x="0" y="0" width="1" height="1" color-interpolation-filters="sRGB"><feTurbulence type="fractalNoise" baseFrequency="0.28" numOctaves="2" seed="86" result="n"/><feColorMatrix in="n" type="matrix" values="0 0 0 0 0 0 0 0 0 0 0 0 0 0 0 20 0 0 0 -11.522" result="a"/><feComponentTransfer in="a" result="t"><feFuncA type="discrete" tableValues="0 1"/></feComponentTransfer><feComposite in="SourceGraphic" in2="t" operator="in"/></filter>
<filter id="f48" x="0" y="0" width="1" height="1" color-interpolation-filters="sRGB"><feTurbulence type="fractalNoise" baseFrequency="0.28" numOctaves="2" seed="87" result="n"/><feColorMatrix in="n" type="matrix" values="0 0 0 0 0 0 0 0 0 0 0 0 0 0 0 20 0 0 0 -12.059" result="a"/><feComponentTransfer in="a" result="t"><feFuncA type="discrete" tableValues="0 1"/></feComponentTransfer><feComposite in="SourceGraphic" in2="t" operator="in"/></filter>
<filter id="f49" x="0" y="0" width="1" height="1" color-interpolation-filters="sRGB"><feTurbulence type="fractalNoise" baseFrequency="0.28" numOctaves="2" seed="88" result="n"/><feColorMatrix in="n" type="matrix" values="0 0 0 0 0 0 0 0 0 0 0 0 0 0 0 20 0 0 0 -8.924" result="a"/><feComponentTransfer in="a" result="t"><feFuncA type="discrete" tableValues="0 1"/></feComponentTransfer><feComposite in="SourceGraphic" in2="t" operator="in"/></filter>
<filter id="f50" x="0" y="0" width="1" height="1" color-interpolation-filters="sRGB"><feTurbulence type="fractalNoise" baseFrequency="0.28" numOctaves="2" seed="89" result="n"/><feColorMatrix in="n" type="matrix" values="0 0 0 0 0 0 0 0 0 0 0 0 0 0 0 20 0 0 0 -11.139" result="a"/><feComponentTransfer in="a" result="t"><feFuncA type="discrete" tableValues="0 1"/></feComponentTransfer><feComposite in="SourceGraphic" in2="t" operator="in"/></filter>
<filter id="f51" x="0" y="0" width="1" height="1" color-interpolation-filters="sRGB"><feTurbulence type="fractalNoise" baseFrequency="0.28" numOctaves="2" seed="90" result="n"/><feColorMatrix in="n" type="matrix" values="0 0 0 0 0 0 0 0 0 0 0 0 0 0 0 20 0 0 0 -8.608" result="a"/><feComponentTransfer in="a" result="t"><feFuncA type="discrete" tableValues="0 1"/></feComponentTransfer><feComposite in="SourceGraphic" in2="t" operator="in"/></filter>
<filter id="f52" x="0" y="0" width="1" height="1" color-interpolation-filters="sRGB"><feTurbulence type="fractalNoise" baseFrequency="0.12" numOctaves="2" seed="215" result="n"/><feColorMatrix in="n" type="matrix" values="0 0 0 0 0 0 0 0 0 0 0 0 0 0 0 20 0 0 0 -12.059" result="a"/><feComponentTransfer in="a" result="t"><feFuncA type="discrete" tableValues="0 1"/></feComponentTransfer><feComposite in="SourceGraphic" in2="t" operator="in"/></filter>
<filter id="f53" x="0" y="0" width="1" height="1" color-interpolation-filters="sRGB"><feTurbulence type="fractalNoise" baseFrequency="0.12" numOctaves="2" seed="216" result="n"/><feColorMatrix in="n" type="matrix" values="0 0 0 0 0 0 0 0 0 0 0 0 0 0 0 20 0 0 0 -10.126" result="a"/><feComponentTransfer in="a" result="t"><feFuncA type="discrete" tableValues="0 1"/></feComponentTransfer><feComposite in="SourceGraphic" in2="t" operator="in"/></filter>
<filter id="f54" x="0" y="0" width="1" height="1" color-interpolation-filters="sRGB"><feTurbulence type="fractalNoise" baseFrequency="0.28" numOctaves="2" seed="92" result="n"/><feColorMatrix in="n" type="matrix" values="0 0 0 0 0 0 0 0 0 0 0 0 0 0 0 20 0 0 0 -8.252" result="a"/><feComponentTransfer in="a" result="t"><feFuncA type="discrete" tableValues="0 1"/></feComponentTransfer><feComposite in="SourceGraphic" in2="t" operator="in"/></filter>
<filter id="f55" x="0" y="0" width="1" height="1" color-interpolation-filters="sRGB"><feTurbulence type="fractalNoise" baseFrequency="0.28" numOctaves="2" seed="93" result="n"/><feColorMatrix in="n" type="matrix" values="0 0 0 0 0 0 0 0 0 0 0 0 0 0 0 20 0 0 0 -7.500" result="a"/><feComponentTransfer in="a" result="t"><feFuncA type="discrete" tableValues="0 1"/></feComponentTransfer><feComposite in="SourceGraphic" in2="t" operator="in"/></filter>
<filter id="f56" x="0" y="0" width="1" height="1" color-interpolation-filters="sRGB"><feTurbulence type="fractalNoise" baseFrequency="0.28" numOctaves="2" seed="94" result="n"/><feColorMatrix in="n" type="matrix" values="0 0 0 0 0 0 0 0 0 0 0 0 0 0 0 20 0 0 0 -7.500" result="a"/><feComponentTransfer in="a" result="t"><feFuncA type="discrete" tableValues="0 1"/></feComponentTransfer><feComposite in="SourceGraphic" in2="t" operator="in"/></filter>
<filter id="f57" x="0" y="0" width="1" height="1" color-interpolation-filters="sRGB"><feTurbulence type="fractalNoise" baseFrequency="0.28" numOctaves="2" seed="95" result="n"/><feColorMatrix in="n" type="matrix" values="0 0 0 0 0 0 0 0 0 0 0 0 0 0 0 20 0 0 0 -8.252" result="a"/><feComponentTransfer in="a" result="t"><feFuncA type="discrete" tableValues="0 1"/></feComponentTransfer><feComposite in="SourceGraphic" in2="t" operator="in"/></filter>
<filter id="f58" x="0" y="0" width="1" height="1" color-interpolation-filters="sRGB"><feTurbulence type="fractalNoise" baseFrequency="0.28" numOctaves="2" seed="96" result="n"/><feColorMatrix in="n" type="matrix" values="0 0 0 0 0 0 0 0 0 0 0 0 0 0 0 20 0 0 0 -7.876" result="a"/><feComponentTransfer in="a" result="t"><feFuncA type="discrete" tableValues="0 1"/></feComponentTransfer><feComposite in="SourceGraphic" in2="t" operator="in"/></filter>
<filter id="f59" x="0" y="0" width="1" height="1" color-interpolation-filters="sRGB"><feTurbulence type="fractalNoise" baseFrequency="0.28" numOctaves="2" seed="97" result="n"/><feColorMatrix in="n" type="matrix" values="0 0 0 0 0 0 0 0 0 0 0 0 0 0 0 20 0 0 0 -10.414" result="a"/><feComponentTransfer in="a" result="t"><feFuncA type="discrete" tableValues="0 1"/></feComponentTransfer><feComposite in="SourceGraphic" in2="t" operator="in"/></filter>
<filter id="f60" x="0" y="0" width="1" height="1" color-interpolation-filters="sRGB"><feTurbulence type="fractalNoise" baseFrequency="0.28" numOctaves="2" seed="98" result="n"/><feColorMatrix in="n" type="matrix" values="0 0 0 0 0 0 0 0 0 0 0 0 0 0 0 20 0 0 0 -10.763" result="a"/><feComponentTransfer in="a" result="t"><feFuncA type="discrete" tableValues="0 1"/></feComponentTransfer><feComposite in="SourceGraphic" in2="t" operator="in"/></filter>
<filter id="f61" x="0" y="0" width="1" height="1" color-interpolation-filters="sRGB"><feTurbulence type="fractalNoise" baseFrequency="0.28" numOctaves="2" seed="99" result="n"/><feColorMatrix in="n" type="matrix" values="0 0 0 0 0 0 0 0 0 0 0 0 0 0 0 20 0 0 0 -9.552" result="a"/><feComponentTransfer in="a" result="t"><feFuncA type="discrete" tableValues="0 1"/></feComponentTransfer><feComposite in="SourceGraphic" in2="t" operator="in"/></filter>
<filter id="f62" x="0" y="0" width="1" height="1" color-interpolation-filters="sRGB"><feTurbulence type="fractalNoise" baseFrequency="0.28" numOctaves="2" seed="100" result="n"/><feColorMatrix in="n" type="matrix" values="0 0 0 0 0 0 0 0 0 0 0 0 0 0 0 20 0 0 0 -7.500" result="a"/><feComponentTransfer in="a" result="t"><feFuncA type="discrete" tableValues="0 1"/></feComponentTransfer><feComposite in="SourceGraphic" in2="t" operator="in"/></filter>
<filter id="f63" x="0" y="0" width="1" height="1" color-interpolation-filters="sRGB"><feTurbulence type="fractalNoise" baseFrequency="0.28" numOctaves="2" seed="102" result="n"/><feColorMatrix in="n" type="matrix" values="0 0 0 0 0 0 0 0 0 0 0 0 0 0 0 20 0 0 0 -10.763" result="a"/><feComponentTransfer in="a" result="t"><feFuncA type="discrete" tableValues="0 1"/></feComponentTransfer><feComposite in="SourceGraphic" in2="t" operator="in"/></filter>
<filter id="f64" x="0" y="0" width="1" height="1" color-interpolation-filters="sRGB"><feTurbulence type="fractalNoise" baseFrequency="0.28" numOctaves="2" seed="103" result="n"/><feColorMatrix in="n" type="matrix" values="0 0 0 0 0 0 0 0 0 0 0 0 0 0 0 20 0 0 0 -12.059" result="a"/><feComponentTransfer in="a" result="t"><feFuncA type="discrete" tableValues="0 1"/></feComponentTransfer><feComposite in="SourceGraphic" in2="t" operator="in"/></filter>
<filter id="f65" x="0" y="0" width="1" height="1" color-interpolation-filters="sRGB"><feTurbulence type="fractalNoise" baseFrequency="0.28" numOctaves="2" seed="104" result="n"/><feColorMatrix in="n" type="matrix" values="0 0 0 0 0 0 0 0 0 0 0 0 0 0 0 20 0 0 0 -10.414" result="a"/><feComponentTransfer in="a" result="t"><feFuncA type="discrete" tableValues="0 1"/></feComponentTransfer><feComposite in="SourceGraphic" in2="t" operator="in"/></filter>
<filter id="f66" x="0" y="0" width="1" height="1" color-interpolation-filters="sRGB"><feTurbulence type="fractalNoise" baseFrequency="0.28" numOctaves="2" seed="105" result="n"/><feColorMatrix in="n" type="matrix" values="0 0 0 0 0 0 0 0 0 0 0 0 0 0 0 20 0 0 0 -8.924" result="a"/><feComponentTransfer in="a" result="t"><feFuncA type="discrete" tableValues="0 1"/></feComponentTransfer><feComposite in="SourceGraphic" in2="t" operator="in"/></filter>
<filter id="f67" x="0" y="0" width="1" height="1" color-interpolation-filters="sRGB"><feTurbulence type="fractalNoise" baseFrequency="0.3" numOctaves="2" seed="41" result="n"/><feColorMatrix in="n" type="matrix" values="0 0 0 0 0 0 0 0 0 0 0 0 0 0 0 20 0 0 0 -10.126" result="a"/><feComponentTransfer in="a" result="t"><feFuncA type="discrete" tableValues="0 1"/></feComponentTransfer><feComposite in="SourceGraphic" in2="t" operator="in"/></filter>
<filter id="f68" x="0" y="0" width="1" height="1" color-interpolation-filters="sRGB"><feTurbulence type="fractalNoise" baseFrequency="0.12" numOctaves="2" seed="221" result="n"/><feColorMatrix in="n" type="matrix" values="0 0 0 0 0 0 0 0 0 0 0 0 0 0 0 20 0 0 0 -12.059" result="a"/><feComponentTransfer in="a" result="t"><feFuncA type="discrete" tableValues="0 1"/></feComponentTransfer><feComposite in="SourceGraphic" in2="t" operator="in"/></filter>
<filter id="f69" x="0" y="0" width="1" height="1" color-interpolation-filters="sRGB"><feTurbulence type="fractalNoise" baseFrequency="0.12" numOctaves="2" seed="222" result="n"/><feColorMatrix in="n" type="matrix" values="0 0 0 0 0 0 0 0 0 0 0 0 0 0 0 20 0 0 0 -10.126" result="a"/><feComponentTransfer in="a" result="t"><feFuncA type="discrete" tableValues="0 1"/></feComponentTransfer><feComposite in="SourceGraphic" in2="t" operator="in"/></filter>
<filter id="f70" x="0" y="0" width="1" height="1" color-interpolation-filters="sRGB"><feTurbulence type="fractalNoise" baseFrequency="0.28" numOctaves="2" seed="111" result="n"/><feColorMatrix in="n" type="matrix" values="0 0 0 0 0 0 0 0 0 0 0 0 0 0 0 20 0 0 0 -9.552" result="a"/><feComponentTransfer in="a" result="t"><feFuncA type="discrete" tableValues="0 1"/></feComponentTransfer><feComposite in="SourceGraphic" in2="t" operator="in"/></filter>
<filter id="f71" x="0" y="0" width="1" height="1" color-interpolation-filters="sRGB"><feTurbulence type="fractalNoise" baseFrequency="0.28" numOctaves="2" seed="112" result="n"/><feColorMatrix in="n" type="matrix" values="0 0 0 0 0 0 0 0 0 0 0 0 0 0 0 20 0 0 0 -12.992" result="a"/><feComponentTransfer in="a" result="t"><feFuncA type="discrete" tableValues="0 1"/></feComponentTransfer><feComposite in="SourceGraphic" in2="t" operator="in"/></filter>
<filter id="f72" x="0" y="0" width="1" height="1" color-interpolation-filters="sRGB"><feTurbulence type="fractalNoise" baseFrequency="0.28" numOctaves="2" seed="113" result="n"/><feColorMatrix in="n" type="matrix" values="0 0 0 0 0 0 0 0 0 0 0 0 0 0 0 20 0 0 0 -7.876" result="a"/><feComponentTransfer in="a" result="t"><feFuncA type="discrete" tableValues="0 1"/></feComponentTransfer><feComposite in="SourceGraphic" in2="t" operator="in"/></filter>
<filter id="f73" x="0" y="0" width="1" height="1" color-interpolation-filters="sRGB"><feTurbulence type="fractalNoise" baseFrequency="0.28" numOctaves="2" seed="114" result="n"/><feColorMatrix in="n" type="matrix" values="0 0 0 0 0 0 0 0 0 0 0 0 0 0 0 20 0 0 0 -9.552" result="a"/><feComponentTransfer in="a" result="t"><feFuncA type="discrete" tableValues="0 1"/></feComponentTransfer><feComposite in="SourceGraphic" in2="t" operator="in"/></filter>
<filter id="f74" x="0" y="0" width="1" height="1" color-interpolation-filters="sRGB"><feTurbulence type="fractalNoise" baseFrequency="0.28" numOctaves="2" seed="115" result="n"/><feColorMatrix in="n" type="matrix" values="0 0 0 0 0 0 0 0 0 0 0 0 0 0 0 20 0 0 0 -9.241" result="a"/><feComponentTransfer in="a" result="t"><feFuncA type="discrete" tableValues="0 1"/></feComponentTransfer><feComposite in="SourceGraphic" in2="t" operator="in"/></filter>
<filter id="f75" x="0" y="0" width="1" height="1" color-interpolation-filters="sRGB"><feTurbulence type="fractalNoise" baseFrequency="0.28" numOctaves="2" seed="116" result="n"/><feColorMatrix in="n" type="matrix" values="0 0 0 0 0 0 0 0 0 0 0 0 0 0 0 20 0 0 0 -8.924" result="a"/><feComponentTransfer in="a" result="t"><feFuncA type="discrete" tableValues="0 1"/></feComponentTransfer><feComposite in="SourceGraphic" in2="t" operator="in"/></filter>
<filter id="f76" x="0" y="0" width="1" height="1" color-interpolation-filters="sRGB"><feTurbulence type="fractalNoise" baseFrequency="0.28" numOctaves="2" seed="117" result="n"/><feColorMatrix in="n" type="matrix" values="0 0 0 0 0 0 0 0 0 0 0 0 0 0 0 20 0 0 0 -8.924" result="a"/><feComponentTransfer in="a" result="t"><feFuncA type="discrete" tableValues="0 1"/></feComponentTransfer><feComposite in="SourceGraphic" in2="t" operator="in"/></filter>
<filter id="f77" x="0" y="0" width="1" height="1" color-interpolation-filters="sRGB"><feTurbulence type="fractalNoise" baseFrequency="0.28" numOctaves="2" seed="118" result="n"/><feColorMatrix in="n" type="matrix" values="0 0 0 0 0 0 0 0 0 0 0 0 0 0 0 20 0 0 0 -9.839" result="a"/><feComponentTransfer in="a" result="t"><feFuncA type="discrete" tableValues="0 1"/></feComponentTransfer><feComposite in="SourceGraphic" in2="t" operator="in"/></filter>
<filter id="f78" x="0" y="0" width="1" height="1" color-interpolation-filters="sRGB"><feTurbulence type="fractalNoise" baseFrequency="0.28" numOctaves="2" seed="119" result="n"/><feColorMatrix in="n" type="matrix" values="0 0 0 0 0 0 0 0 0 0 0 0 0 0 0 20 0 0 0 -9.241" result="a"/><feComponentTransfer in="a" result="t"><feFuncA type="discrete" tableValues="0 1"/></feComponentTransfer><feComposite in="SourceGraphic" in2="t" operator="in"/></filter>
<filter id="f79" x="0" y="0" width="1" height="1" color-interpolation-filters="sRGB"><feTurbulence type="fractalNoise" baseFrequency="0.28" numOctaves="2" seed="120" result="n"/><feColorMatrix in="n" type="matrix" values="0 0 0 0 0 0 0 0 0 0 0 0 0 0 0 20 0 0 0 -10.763" result="a"/><feComponentTransfer in="a" result="t"><feFuncA type="discrete" tableValues="0 1"/></feComponentTransfer><feComposite in="SourceGraphic" in2="t" operator="in"/></filter>
<filter id="f80" x="0" y="0" width="1" height="1" color-interpolation-filters="sRGB"><feTurbulence type="fractalNoise" baseFrequency="0.28" numOctaves="2" seed="121" result="n"/><feColorMatrix in="n" type="matrix" values="0 0 0 0 0 0 0 0 0 0 0 0 0 0 0 20 0 0 0 -10.126" result="a"/><feComponentTransfer in="a" result="t"><feFuncA type="discrete" tableValues="0 1"/></feComponentTransfer><feComposite in="SourceGraphic" in2="t" operator="in"/></filter>
<filter id="f81" x="0" y="0" width="1" height="1" color-interpolation-filters="sRGB"><feTurbulence type="fractalNoise" baseFrequency="0.28" numOctaves="2" seed="122" result="n"/><feColorMatrix in="n" type="matrix" values="0 0 0 0 0 0 0 0 0 0 0 0 0 0 0 20 0 0 0 -7.500" result="a"/><feComponentTransfer in="a" result="t"><feFuncA type="discrete" tableValues="0 1"/></feComponentTransfer><feComposite in="SourceGraphic" in2="t" operator="in"/></filter>
<filter id="f82" x="0" y="0" width="1" height="1" color-interpolation-filters="sRGB"><feTurbulence type="fractalNoise" baseFrequency="0.28" numOctaves="2" seed="131" result="n"/><feColorMatrix in="n" type="matrix" values="0 0 0 0 0 0 0 0 0 0 0 0 0 0 0 20 0 0 0 -9.241" result="a"/><feComponentTransfer in="a" result="t"><feFuncA type="discrete" tableValues="0 1"/></feComponentTransfer><feComposite in="SourceGraphic" in2="t" operator="in"/></filter>
<filter id="f83" x="0" y="0" width="1" height="1" color-interpolation-filters="sRGB"><feTurbulence type="fractalNoise" baseFrequency="0.28" numOctaves="2" seed="123" result="n"/><feColorMatrix in="n" type="matrix" values="0 0 0 0 0 0 0 0 0 0 0 0 0 0 0 20 0 0 0 -9.241" result="a"/><feComponentTransfer in="a" result="t"><feFuncA type="discrete" tableValues="0 1"/></feComponentTransfer><feComposite in="SourceGraphic" in2="t" operator="in"/></filter>
<filter id="f84" x="0" y="0" width="1" height="1" color-interpolation-filters="sRGB"><feTurbulence type="fractalNoise" baseFrequency="0.28" numOctaves="2" seed="124" result="n"/><feColorMatrix in="n" type="matrix" values="0 0 0 0 0 0 0 0 0 0 0 0 0 0 0 20 0 0 0 -7.500" result="a"/><feComponentTransfer in="a" result="t"><feFuncA type="discrete" tableValues="0 1"/></feComponentTransfer><feComposite in="SourceGraphic" in2="t" operator="in"/></filter>
<filter id="f85" x="0" y="0" width="1" height="1" color-interpolation-filters="sRGB"><feTurbulence type="fractalNoise" baseFrequency="0.28" numOctaves="2" seed="125" result="n"/><feColorMatrix in="n" type="matrix" values="0 0 0 0 0 0 0 0 0 0 0 0 0 0 0 20 0 0 0 -8.924" result="a"/><feComponentTransfer in="a" result="t"><feFuncA type="discrete" tableValues="0 1"/></feComponentTransfer><feComposite in="SourceGraphic" in2="t" operator="in"/></filter>
<filter id="f86" x="0" y="0" width="1" height="1" color-interpolation-filters="sRGB"><feTurbulence type="fractalNoise" baseFrequency="0.28" numOctaves="2" seed="126" result="n"/><feColorMatrix in="n" type="matrix" values="0 0 0 0 0 0 0 0 0 0 0 0 0 0 0 20 0 0 0 -8.924" result="a"/><feComponentTransfer in="a" result="t"><feFuncA type="discrete" tableValues="0 1"/></feComponentTransfer><feComposite in="SourceGraphic" in2="t" operator="in"/></filter>
<filter id="f87" x="0" y="0" width="1" height="1" color-interpolation-filters="sRGB"><feTurbulence type="fractalNoise" baseFrequency="0.28" numOctaves="2" seed="127" result="n"/><feColorMatrix in="n" type="matrix" values="0 0 0 0 0 0 0 0 0 0 0 0 0 0 0 20 0 0 0 -10.763" result="a"/><feComponentTransfer in="a" result="t"><feFuncA type="discrete" tableValues="0 1"/></feComponentTransfer><feComposite in="SourceGraphic" in2="t" operator="in"/></filter>
<filter id="f88" x="0" y="0" width="1" height="1" color-interpolation-filters="sRGB"><feTurbulence type="fractalNoise" baseFrequency="0.28" numOctaves="2" seed="128" result="n"/><feColorMatrix in="n" type="matrix" values="0 0 0 0 0 0 0 0 0 0 0 0 0 0 0 20 0 0 0 -9.552" result="a"/><feComponentTransfer in="a" result="t"><feFuncA type="discrete" tableValues="0 1"/></feComponentTransfer><feComposite in="SourceGraphic" in2="t" operator="in"/></filter>
<filter id="f89" x="0" y="0" width="1" height="1" color-interpolation-filters="sRGB"><feTurbulence type="fractalNoise" baseFrequency="0.3" numOctaves="2" seed="2" result="n"/><feColorMatrix in="n" type="matrix" values="0 0 0 0 0 0 0 0 0 0 0 0 0 0 0 20 0 0 0 -11.365" result="a"/><feComponentTransfer in="a" result="t"><feFuncA type="discrete" tableValues="0 1"/></feComponentTransfer><feComposite in="SourceGraphic" in2="t" operator="in"/></filter>
<filter id="f90" x="0" y="0" width="1" height="1" color-interpolation-filters="sRGB"><feTurbulence type="fractalNoise" baseFrequency="0.3" numOctaves="2" seed="3" result="n"/><feColorMatrix in="n" type="matrix" values="0 0 0 0 0 0 0 0 0 0 0 0 0 0 0 20 0 0 0 -14.500" result="a"/><feComponentTransfer in="a" result="t"><feFuncA type="discrete" tableValues="0 1"/></feComponentTransfer><feComposite in="SourceGraphic" in2="t" operator="in"/></filter>
<filter id="f91" x="0" y="0" width="1" height="1" color-interpolation-filters="sRGB"><feTurbulence type="fractalNoise" baseFrequency="0.3" numOctaves="2" seed="4" result="n"/><feColorMatrix in="n" type="matrix" values="0 0 0 0 0 0 0 0 0 0 0 0 0 0 0 20 0 0 0 -12.992" result="a"/><feComponentTransfer in="a" result="t"><feFuncA type="discrete" tableValues="0 1"/></feComponentTransfer><feComposite in="SourceGraphic" in2="t" operator="in"/></filter>
<filter id="f92" x="0" y="0" width="1" height="1" color-interpolation-filters="sRGB"><feTurbulence type="fractalNoise" baseFrequency="0.22" numOctaves="2" seed="5" result="n"/><feColorMatrix in="n" type="matrix" values="0 0 0 0 0 0 0 0 0 0 0 0 0 0 0 20 0 0 0 -10.538" result="a"/><feComponentTransfer in="a" result="t"><feFuncA type="discrete" tableValues="0 1"/></feComponentTransfer><feComposite in="SourceGraphic" in2="t" operator="in"/></filter>
<filter id="f93" x="0" y="0" width="1" height="1" color-interpolation-filters="sRGB"><feTurbulence type="fractalNoise" baseFrequency="0.3" numOctaves="2" seed="6" result="n"/><feColorMatrix in="n" type="matrix" values="0 0 0 0 0 0 0 0 0 0 0 0 0 0 0 20 0 0 0 -13.786" result="a"/><feComponentTransfer in="a" result="t"><feFuncA type="discrete" tableValues="0 1"/></feComponentTransfer><feComposite in="SourceGraphic" in2="t" operator="in"/></filter>
<filter id="f94" x="0" y="0" width="1" height="1" color-interpolation-filters="sRGB"><feTurbulence type="fractalNoise" baseFrequency="0.3" numOctaves="2" seed="7" result="n"/><feColorMatrix in="n" type="matrix" values="0 0 0 0 0 0 0 0 0 0 0 0 0 0 0 20 0 0 0 -9.552" result="a"/><feComponentTransfer in="a" result="t"><feFuncA type="discrete" tableValues="0 1"/></feComponentTransfer><feComposite in="SourceGraphic" in2="t" operator="in"/></filter>
<filter id="f95" x="0" y="0" width="1" height="1" color-interpolation-filters="sRGB"><feTurbulence type="fractalNoise" baseFrequency="0.3" numOctaves="2" seed="8" result="n"/><feColorMatrix in="n" type="matrix" values="0 0 0 0 0 0 0 0 0 0 0 0 0 0 0 20 0 0 0 -12.382" result="a"/><feComponentTransfer in="a" result="t"><feFuncA type="discrete" tableValues="0 1"/></feComponentTransfer><feComposite in="SourceGraphic" in2="t" operator="in"/></filter>
<filter id="f96" x="0" y="0" width="1" height="1" color-interpolation-filters="sRGB"><feTurbulence type="fractalNoise" baseFrequency="0.3" numOctaves="2" seed="9" result="n"/><feColorMatrix in="n" type="matrix" values="0 0 0 0 0 0 0 0 0 0 0 0 0 0 0 20 0 0 0 -9.241" result="a"/><feComponentTransfer in="a" result="t"><feFuncA type="discrete" tableValues="0 1"/></feComponentTransfer><feComposite in="SourceGraphic" in2="t" operator="in"/></filter>
<filter id="f97" x="0" y="0" width="1" height="1" color-interpolation-filters="sRGB"><feTurbulence type="fractalNoise" baseFrequency="0.3" numOctaves="2" seed="10" result="n"/><feColorMatrix in="n" type="matrix" values="0 0 0 0 0 0 0 0 0 0 0 0 0 0 0 20 0 0 0 -9.241" result="a"/><feComponentTransfer in="a" result="t"><feFuncA type="discrete" tableValues="0 1"/></feComponentTransfer><feComposite in="SourceGraphic" in2="t" operator="in"/></filter>
<filter id="f98" x="0" y="0" width="1" height="1" color-interpolation-filters="sRGB"><feTurbulence type="fractalNoise" baseFrequency="0.3" numOctaves="2" seed="11" result="n"/><feColorMatrix in="n" type="matrix" values="0 0 0 0 0 0 0 0 0 0 0 0 0 0 0 20 0 0 0 -13.786" result="a"/><feComponentTransfer in="a" result="t"><feFuncA type="discrete" tableValues="0 1"/></feComponentTransfer><feComposite in="SourceGraphic" in2="t" operator="in"/></filter>
<filter id="f99" x="0" y="0" width="1" height="1" color-interpolation-filters="sRGB"><feTurbulence type="fractalNoise" baseFrequency="0.3" numOctaves="2" seed="12" result="n"/><feColorMatrix in="n" type="matrix" values="0 0 0 0 0 0 0 0 0 0 0 0 0 0 0 20 0 0 0 -10.763" result="a"/><feComponentTransfer in="a" result="t"><feFuncA type="discrete" tableValues="0 1"/></feComponentTransfer><feComposite in="SourceGraphic" in2="t" operator="in"/></filter>
<filter id="f100" x="0" y="0" width="1" height="1" color-interpolation-filters="sRGB"><feTurbulence type="fractalNoise" baseFrequency="0.3" numOctaves="2" seed="13" result="n"/><feColorMatrix in="n" type="matrix" values="0 0 0 0 0 0 0 0 0 0 0 0 0 0 0 20 0 0 0 -10.763" result="a"/><feComponentTransfer in="a" result="t"><feFuncA type="discrete" tableValues="0 1"/></feComponentTransfer><feComposite in="SourceGraphic" in2="t" operator="in"/></filter>
<filter id="f101" x="0" y="0" width="1" height="1" color-interpolation-filters="sRGB"><feTurbulence type="fractalNoise" baseFrequency="0.2" numOctaves="2" seed="14" result="n"/><feColorMatrix in="n" type="matrix" values="0 0 0 0 0 0 0 0 0 0 0 0 0 0 0 20 0 0 0 -12.992" result="a"/><feComponentTransfer in="a" result="t"><feFuncA type="discrete" tableValues="0 1"/></feComponentTransfer><feComposite in="SourceGraphic" in2="t" operator="in"/></filter>
<filter id="f102" x="0" y="0" width="1" height="1" color-interpolation-filters="sRGB"><feTurbulence type="fractalNoise" baseFrequency="0.3" numOctaves="2" seed="15" result="n"/><feColorMatrix in="n" type="matrix" values="0 0 0 0 0 0 0 0 0 0 0 0 0 0 0 20 0 0 0 -12.653" result="a"/><feComponentTransfer in="a" result="t"><feFuncA type="discrete" tableValues="0 1"/></feComponentTransfer><feComposite in="SourceGraphic" in2="t" operator="in"/></filter>
<filter id="f103" x="0" y="0" width="1" height="1" color-interpolation-filters="sRGB"><feTurbulence type="fractalNoise" baseFrequency="0.25" numOctaves="2" seed="16" result="n"/><feColorMatrix in="n" type="matrix" values="0 0 0 0 0 0 0 0 0 0 0 0 0 0 0 20 0 0 0 -12.992" result="a"/><feComponentTransfer in="a" result="t"><feFuncA type="discrete" tableValues="0 1"/></feComponentTransfer><feComposite in="SourceGraphic" in2="t" operator="in"/></filter>
<filter id="f104" x="0" y="0" width="1" height="1" color-interpolation-filters="sRGB"><feTurbulence type="fractalNoise" baseFrequency="0.3" numOctaves="2" seed="17" result="n"/><feColorMatrix in="n" type="matrix" values="0 0 0 0 0 0 0 0 0 0 0 0 0 0 0 20 0 0 0 -13.786" result="a"/><feComponentTransfer in="a" result="t"><feFuncA type="discrete" tableValues="0 1"/></feComponentTransfer><feComposite in="SourceGraphic" in2="t" operator="in"/></filter>
<filter id="f105" x="0" y="0" width="1" height="1" color-interpolation-filters="sRGB"><feTurbulence type="fractalNoise" baseFrequency="0.2" numOctaves="2" seed="18" result="n"/><feColorMatrix in="n" type="matrix" values="0 0 0 0 0 0 0 0 0 0 0 0 0 0 0 20 0 0 0 -10.538" result="a"/><feComponentTransfer in="a" result="t"><feFuncA type="discrete" tableValues="0 1"/></feComponentTransfer><feComposite in="SourceGraphic" in2="t" operator="in"/></filter>
<filter id="f106" x="0" y="0" width="1" height="1" color-interpolation-filters="sRGB"><feTurbulence type="fractalNoise" baseFrequency="0.3" numOctaves="2" seed="19" result="n"/><feColorMatrix in="n" type="matrix" values="0 0 0 0 0 0 0 0 0 0 0 0 0 0 0 20 0 0 0 -12.059" result="a"/><feComponentTransfer in="a" result="t"><feFuncA type="discrete" tableValues="0 1"/></feComponentTransfer><feComposite in="SourceGraphic" in2="t" operator="in"/></filter>
<filter id="f107" x="0" y="0" width="1" height="1" color-interpolation-filters="sRGB"><feTurbulence type="fractalNoise" baseFrequency="0.3" numOctaves="2" seed="20" result="n"/><feColorMatrix in="n" type="matrix" values="0 0 0 0 0 0 0 0 0 0 0 0 0 0 0 20 0 0 0 -9.241" result="a"/><feComponentTransfer in="a" result="t"><feFuncA type="discrete" tableValues="0 1"/></feComponentTransfer><feComposite in="SourceGraphic" in2="t" operator="in"/></filter>
</defs>
<text x="144" y="11.5" font-size="10.3" text-anchor="middle">AOD at 550nm</text>
<text x="378" y="11.5" font-size="10.3" text-anchor="middle">AAOD at 550nm (contour)</text>
<text x="612" y="11.5" font-size="10.3" text-anchor="middle">ΔSWTOA<tspan font-size="6.5" dy="2">clr</tspan><tspan dy="-2"> [W.m</tspan><tspan font-size="6.5" dy="-4">-2</tspan><tspan dy="4">]</tspan></text>
<text transform="translate(8.3 70.5) rotate(-90)" font-size="10.5" text-anchor="middle">FLAMBE</text>
<g transform="translate(40 17.00)">
<g clip-path="url(#cp)">
<rect x="0" y="0" width="208" height="107" fill="#3d6bff"/>
<path d="M0.0 26.6 C1.4 21.6 5.5 25.7 8.6 25.2 C11.8 24.7 15.4 23.9 18.7 23.8 C22.1 23.6 25.7 24.0 28.8 24.5 C31.9 25.0 34.6 25.9 37.5 26.6 C40.3 27.4 42.7 28.2 46.1 28.8 C49.5 29.4 53.8 30.1 57.6 30.3 C61.5 30.4 65.3 29.8 69.1 29.5 C73.0 29.3 76.8 29.1 80.7 28.8 C84.5 28.6 88.3 28.3 92.2 28.1 C96.1 27.8 100.6 26.9 104.0 27.4 C107.4 27.8 109.0 30.6 112.6 31.0 C116.2 31.3 121.1 29.2 125.6 29.5 C130.2 29.9 135.7 32.3 140.0 33.1 C144.3 34.0 147.9 34.7 151.5 34.6 C155.1 34.5 159.0 32.4 161.6 32.4 C164.3 32.4 166.7 33.0 167.4 34.6 C168.1 36.1 166.8 39.9 165.9 41.8 C165.1 43.7 162.1 43.9 162.3 46.1 C162.6 48.3 167.0 52.3 167.4 54.7 C167.7 57.1 165.9 58.3 164.5 60.5 C163.1 62.7 160.9 65.3 158.7 67.7 C156.6 70.1 153.5 72.7 151.5 74.9 C149.6 77.1 148.4 78.7 147.2 80.7 C146.0 82.6 146.0 84.7 144.3 86.4 C142.7 88.1 140.0 89.6 137.1 90.8 C134.3 92.0 129.9 93.4 127.1 93.6 C124.2 93.9 122.3 92.9 119.9 92.2 C117.4 91.5 115.3 90.3 112.6 89.3 C110.0 88.4 108.4 86.4 104.0 86.4 C99.6 86.4 92.2 88.4 86.4 89.3 C80.6 90.3 73.5 92.7 69.1 92.2 C64.8 91.7 62.4 89.8 60.5 86.4 C58.6 83.1 58.6 76.3 57.6 72.0 C56.7 67.7 58.3 63.0 54.7 60.5 C51.1 58.0 42.7 57.9 36.0 56.9 C29.3 55.9 20.4 55.0 14.4 54.7 C8.4 54.5 2.4 60.1 0.0 55.5 C-2.4 50.8 -1.4 31.7 0.0 26.6 Z" fill="#6086ff"/>
<path d="M168.8 37.5 C168.6 35.5 170.0 33.1 171.7 31.7 C173.4 30.3 177.2 29.9 178.9 28.8 C180.6 27.7 180.8 25.2 181.8 25.2 C182.7 25.2 183.9 26.8 184.7 28.8 C185.4 30.9 186.8 35.3 186.1 37.5 C185.4 39.6 182.5 40.8 180.3 41.8 C178.2 42.7 175.1 43.9 173.1 43.2 C171.2 42.5 169.1 39.4 168.8 37.5 Z" fill="#6086ff"/>
<path d="M0.0 33.9 C3.1 31.9 12.7 30.3 18.7 30.3 C24.7 30.3 30.7 32.6 36.0 33.9 C41.3 35.1 45.6 37.2 50.4 37.7 C55.2 38.3 60.0 37.2 64.8 37.2 C69.6 37.2 74.4 37.2 79.2 37.7 C84.0 38.3 89.5 40.0 93.6 40.6 C97.8 41.3 100.8 42.2 104.0 41.8 C107.2 41.4 109.0 38.7 112.6 38.2 C116.2 37.7 121.1 39.0 125.6 38.9 C130.2 38.8 136.4 37.0 140.0 37.5 C143.6 37.9 144.6 40.1 147.2 41.8 C149.9 43.5 153.5 45.3 155.9 47.5 C158.3 49.8 161.4 53.3 161.6 55.5 C161.9 57.6 159.7 59.2 157.3 60.5 C154.9 61.8 151.3 62.7 147.2 63.4 C143.1 64.1 137.1 64.1 132.8 64.8 C128.5 65.5 124.7 67.5 121.3 67.7 C117.9 67.9 115.5 66.3 112.6 66.3 C109.8 66.3 107.2 67.0 104.0 67.7 C100.8 68.4 97.5 70.3 93.6 70.6 C89.7 70.8 83.5 70.8 80.7 69.1 C77.8 67.5 78.3 62.8 76.3 60.5 C74.4 58.2 72.7 56.5 69.1 55.5 C65.5 54.4 60.3 54.9 54.7 54.0 C49.2 53.2 42.0 52.2 36.0 50.4 C30.0 48.6 24.0 44.6 18.7 43.2 C13.4 41.8 7.4 42.3 4.3 42.1 C1.2 41.9 0.7 43.4 0.0 42.1 C-0.7 40.7 -3.1 35.8 0.0 33.9 Z" fill="#84a1ff"/>
<path d="M173.1 34.6 C173.6 33.1 177.0 32.2 178.9 32.4 C180.8 32.7 183.9 34.7 184.7 36.0 C185.4 37.3 184.7 39.5 183.2 40.3 C181.8 41.2 177.7 42.0 176.0 41.1 C174.3 40.1 172.7 36.0 173.1 34.6 Z" fill="#84a1ff"/>
<path d="M18.7 33.9 C20.2 32.9 25.4 32.2 28.8 32.4 C32.2 32.7 37.2 34.2 38.9 35.3 C40.6 36.4 40.6 38.3 38.9 39.2 C37.2 40.0 31.9 40.5 28.8 40.3 C25.7 40.2 21.8 39.3 20.2 38.2 C18.5 37.1 17.3 34.8 18.7 33.9 Z" fill="#a8bcff"/>
<path d="M41.8 39.6 C41.8 38.7 47.3 37.9 50.4 37.7 C53.5 37.6 56.9 38.6 60.5 38.9 C64.1 39.2 68.7 39.4 72.0 39.6 C75.4 39.9 78.3 39.9 80.7 40.3 C83.1 40.8 86.7 41.9 86.4 42.5 C86.2 43.1 82.8 43.8 79.2 43.9 C75.6 44.1 69.6 43.3 64.8 43.2 C60.0 43.1 54.3 43.8 50.4 43.2 C46.6 42.6 41.8 40.5 41.8 39.6 Z" fill="#a8bcff"/>
<path d="M104.0 46.1 C106.9 45.4 109.5 43.9 112.6 43.2 C115.8 42.5 119.4 42.6 122.7 41.8 C126.1 40.9 129.4 38.2 132.8 38.2 C136.2 38.2 140.5 40.0 142.9 41.8 C145.3 43.6 146.0 46.8 147.2 49.0 C148.4 51.1 150.6 52.8 150.1 54.7 C149.6 56.7 147.2 59.3 144.3 60.5 C141.5 61.7 137.1 61.9 132.8 61.9 C128.5 61.9 123.2 61.0 118.4 60.5 C113.6 60.0 107.8 59.5 104.0 59.1 C100.2 58.6 98.2 58.3 95.4 57.6 C92.5 56.9 86.7 56.4 86.7 54.7 C86.7 53.1 92.5 49.0 95.4 47.5 C98.2 46.1 101.1 46.8 104.0 46.1 Z" fill="#a8bcff"/>
<path d="M104.0 49.0 C107.4 47.8 114.8 47.1 118.4 46.1 C122.0 45.1 122.0 43.7 125.6 43.2 C129.2 42.7 136.9 41.8 140.0 43.2 C143.1 44.7 144.1 49.2 144.3 51.9 C144.6 54.5 144.6 57.7 141.5 59.1 C138.3 60.4 129.9 60.0 125.6 59.8 C121.3 59.5 119.1 58.2 115.5 57.6 C111.9 57.0 106.9 56.9 104.0 56.2 C101.1 55.5 98.2 54.5 98.2 53.3 C98.2 52.1 100.6 50.2 104.0 49.0 Z" fill="#cbd8ff"/>
<path d="M104.0 46.8 C105.4 45.0 110.2 44.6 112.6 44.9 C115.0 45.3 116.7 48.8 118.4 49.0 C120.1 49.2 121.5 47.1 122.7 46.1 C123.9 45.1 123.2 43.5 125.6 43.2 C128.0 43.0 134.3 43.7 137.1 44.7 C140.0 45.6 141.9 46.8 142.9 49.0 C143.9 51.1 143.6 55.7 142.9 57.6 C142.2 59.5 141.5 60.3 138.6 60.5 C135.7 60.7 129.0 60.0 125.6 59.1 C122.2 58.1 122.0 55.3 118.4 54.7 C114.8 54.2 106.4 57.2 104.0 55.9 C101.6 54.6 102.6 48.6 104.0 46.8 Z" fill="#ffcdcd"/>
<path d="M104.0 46.8 C105.4 45.0 110.2 44.6 112.6 44.9 C115.0 45.3 116.7 48.8 118.4 49.0 C120.1 49.2 121.5 47.1 122.7 46.1 C123.9 45.1 123.2 43.5 125.6 43.2 C128.0 43.0 134.3 43.7 137.1 44.7 C140.0 45.6 141.9 46.8 142.9 49.0 C143.9 51.1 143.6 55.7 142.9 57.6 C142.2 59.5 141.5 60.3 138.6 60.5 C135.7 60.7 129.0 60.0 125.6 59.1 C122.2 58.1 122.0 55.3 118.4 54.7 C114.8 54.2 106.4 57.2 104.0 55.9 C101.6 54.6 102.6 48.6 104.0 46.8 Z" fill="#ffa8a8" filter="url(#f0)"/>
<path d="M128.5 48.3 C130.0 47.1 133.6 46.0 135.7 46.4 C137.8 46.7 140.3 48.6 141.2 50.4 C142.1 52.2 141.8 55.9 141.2 57.3 C140.5 58.7 139.1 58.7 137.1 58.8 C135.1 58.8 131.0 58.5 129.2 57.6 C127.4 56.7 126.4 54.9 126.3 53.3 C126.2 51.7 126.9 49.4 128.5 48.3 Z" fill="#ff8383"/>
<path d="M129.9 49.0 C131.6 48.0 138.3 49.0 140.0 50.4 C141.7 51.9 141.7 56.7 140.0 57.6 C138.3 58.6 131.6 57.6 129.9 56.2 C128.2 54.7 128.2 49.9 129.9 49.0 Z" fill="#ff5e5e" filter="url(#f1)"/>
<path d="M109.8 47.5 C111.8 47.4 116.0 48.6 117.0 49.7 C117.9 50.8 117.2 53.2 115.5 54.0 C113.8 54.8 108.7 55.1 106.9 54.5 C105.1 53.9 104.2 51.6 104.7 50.4 C105.2 49.3 107.7 47.7 109.8 47.5 Z" fill="#ffa8a8"/>
<path d="M136.0 55.5 C136.3 55.0 138.1 54.7 138.6 55.0 C139.1 55.4 139.2 57.1 138.9 57.6 C138.5 58.1 137.0 58.3 136.6 57.9 C136.1 57.5 135.6 55.9 136.0 55.5 Z" fill="#ff3939"/>
<path d="M28.8 33.4 C29.5 32.6 33.0 32.4 34.6 32.8 C36.1 33.3 37.9 35.1 38.2 36.0 C38.4 36.9 37.3 37.9 36.0 38.2 C34.7 38.5 31.5 38.5 30.3 37.7 C29.1 36.9 28.1 34.2 28.8 33.4 Z" fill="#ffcdcd"/>
<path d="M23.8 29.5 C24.2 29.1 26.2 29.2 26.6 29.5 C27.1 29.9 27.1 31.3 26.6 31.7 C26.2 32.1 24.7 32.3 24.2 32.0 C23.7 31.6 23.4 29.9 23.8 29.5 Z" fill="#ffa8a8"/>
<path d="M31.7 34.0 C32.1 33.7 33.6 33.7 34.0 34.0 C34.4 34.3 34.4 35.4 34.0 35.7 C33.6 36.0 32.1 36.0 31.7 35.7 C31.3 35.4 31.3 34.3 31.7 34.0 Z" fill="#ff3939"/>
<path d="M118.4 79.2 C119.5 78.4 124.4 77.9 125.6 78.5 C126.8 79.1 126.7 82.0 125.6 82.8 C124.5 83.6 120.3 83.9 119.1 83.3 C117.9 82.7 117.3 80.0 118.4 79.2 Z" fill="#cbd8ff"/>
<path d="M131.4 80.7 C132.5 80.0 137.4 79.5 138.6 79.9 C139.8 80.4 139.7 82.9 138.6 83.5 C137.5 84.2 133.3 84.3 132.1 83.8 C130.9 83.4 130.3 81.3 131.4 80.7 Z" fill="#cbd8ff"/>
<path d="M104.0 2.2 C107.6 1.9 122.0 1.9 125.6 2.2 C129.2 2.4 129.2 3.2 125.6 3.5 C122.0 3.7 107.6 3.7 104.0 3.5 C100.4 3.2 100.4 2.4 104.0 2.2 Z" fill="#1950ff"/>
<use href="#coast"/>
</g>
<rect x="2.6" y="2.4" width="24.2" height="19.6" fill="#fff"/>
<text x="6.6" y="15.7" font-size="11.5">a1)</text>
<rect x="1" y="1" width="206" height="105" fill="none" stroke="#000" stroke-width="2"/>
<line x1="-3.8" x2="0" y1="9.35" y2="9.35" stroke="#000" stroke-width="1.7"/>
<text x="-7.3" y="12.75" font-size="9.6" text-anchor="end">15°N</text>
<line x1="-3.8" x2="0" y1="25.80" y2="25.80" stroke="#000" stroke-width="1.7"/>
<text x="-7.3" y="29.20" font-size="9.6" text-anchor="end">10°N</text>
<line x1="-3.8" x2="0" y1="42.60" y2="42.60" stroke="#000" stroke-width="1.7"/>
<text x="-7.3" y="46.00" font-size="9.6" text-anchor="end">5°N</text>
<line x1="-3.8" x2="0" y1="59.45" y2="59.45" stroke="#000" stroke-width="1.7"/>
<text x="-7.3" y="62.85" font-size="9.6" text-anchor="end">0°</text>
<line x1="-3.8" x2="0" y1="76.90" y2="76.90" stroke="#000" stroke-width="1.7"/>
<text x="-7.3" y="80.30" font-size="9.6" text-anchor="end">5°S</text>
<line x1="-3.8" x2="0" y1="94.80" y2="94.80" stroke="#000" stroke-width="1.7"/>
<text x="-7.3" y="98.20" font-size="9.6" text-anchor="end">10°S</text>
</g>
<g transform="translate(274 17.00)">
<g clip-path="url(#cp)">
<use href="#albedo"/><path d="M2.0 41.0 C4.0 41.0 10.7 40.9 14.0 41.0 C17.3 41.1 19.0 40.8 22.0 41.5 C25.0 42.2 29.8 44.0 32.0 45.0 C34.2 46.0 34.5 47.1 35.0 47.5" fill="none" stroke="#0c1a80" stroke-width="1.50" stroke-linejoin="round"/>
<path d="M2.0 45.8 C4.3 45.8 12.0 45.8 16.0 46.0 C20.0 46.2 23.3 46.5 26.0 47.0 C28.7 47.5 30.3 48.3 32.0 49.0 C33.7 49.7 35.3 50.7 36.0 51.0" fill="none" stroke="#0c1a80" stroke-width="1.50" stroke-linejoin="round"/>
<path d="M46.0 49.0 C47.7 49.5 52.7 51.7 56.0 52.0 C59.3 52.3 62.3 51.5 66.0 51.0 C69.7 50.5 74.7 49.7 78.0 49.0 C81.3 48.3 83.7 47.2 86.0 47.0 C88.3 46.8 91.0 47.4 92.0 47.5" fill="none" stroke="#0c1a80" stroke-width="1.50" stroke-linejoin="round"/>
<path d="M2.0 31.0 C2.8 30.9 4.8 31.1 7.0 30.5 C9.2 29.9 13.7 28.2 15.0 27.7" fill="none" stroke="#0c1a80" stroke-width="1.50" stroke-linejoin="round"/>
<path d="M11.5 36.0 C11.5 34.8 14.8 32.9 17.0 32.4 C19.2 31.9 22.1 32.1 24.5 32.8 C26.9 33.5 30.3 35.5 31.7 36.7 C33.1 38.0 34.0 39.6 33.0 40.3 C32.0 41.0 28.7 41.1 26.0 41.0 C23.3 40.9 19.4 40.4 17.0 39.6 C14.6 38.8 11.5 37.2 11.5 36.0 Z" fill="none" stroke="#0c1a80" stroke-width="1.50" stroke-linejoin="round"/>
<path d="M52.6 63.4 C53.8 63.5 58.2 63.1 59.8 64.1 C61.3 65.0 61.5 66.8 61.9 69.1 C62.3 71.4 62.0 74.9 62.2 77.8 C62.5 80.7 62.4 84.3 63.4 86.4 C64.4 88.5 66.6 89.9 68.4 90.5 C70.2 91.1 71.2 90.8 74.3 90.1 C77.4 89.3 82.4 87.3 86.8 86.0 C91.2 84.7 96.6 83.0 100.6 82.5 C104.6 82.0 107.6 82.5 111.0 83.0 C114.4 83.5 118.2 84.7 121.0 85.5 C123.8 86.3 126.8 87.6 128.0 88.0" fill="none" stroke="#0c1a80" stroke-width="1.50" stroke-linejoin="round"/>
<path d="M78.5 54.5 C79.7 53.4 84.2 53.1 86.4 53.6 C88.7 54.1 91.1 55.7 92.0 57.6 C92.9 59.5 92.9 63.1 92.0 64.8 C91.1 66.5 88.3 67.6 86.4 67.7 C84.5 67.8 81.9 66.7 80.7 65.5 C79.5 64.3 79.4 62.3 79.0 60.5 C78.6 58.7 77.3 55.6 78.5 54.5 Z" fill="none" stroke="#0c1a80" stroke-width="1.50" stroke-linejoin="round"/>
<path d="M20.0 24.0 C20.7 23.9 22.2 23.4 24.0 23.5 C25.8 23.6 28.7 24.2 31.0 24.5 C33.3 24.8 35.8 25.1 38.0 25.5 C40.2 25.9 42.2 26.3 44.0 27.0 C45.8 27.7 47.0 28.9 49.0 29.5 C51.0 30.1 53.2 30.5 56.0 30.5 C58.8 30.5 63.0 29.8 66.0 29.5 C69.0 29.2 72.2 28.7 74.0 28.5 C75.8 28.3 76.5 28.5 77.0 28.5" fill="none" stroke="#0c1a80" stroke-width="1.50" stroke-linejoin="round"/>
<path d="M100.8 32.8 C101.3 32.5 102.5 31.6 104.0 31.0 C105.5 30.4 107.9 29.9 109.8 29.5 C111.7 29.1 113.3 28.8 115.5 28.8 C117.7 28.8 120.0 29.3 122.7 29.5 C125.4 29.7 130.0 30.1 131.4 30.2" fill="none" stroke="#0c1a80" stroke-width="1.50" stroke-linejoin="round"/>
<path d="M137.0 32.0 C138.7 31.8 143.5 30.8 147.0 30.5 C150.5 30.2 156.2 30.1 158.0 30.0" fill="none" stroke="#0c1a80" stroke-width="1.50" stroke-linejoin="round"/>
<path d="M22.0 27.0 C23.2 27.2 26.7 27.3 29.0 28.0 C31.3 28.7 33.8 30.0 36.0 31.0 C38.2 32.0 39.8 33.2 42.0 34.0 C44.2 34.8 46.3 35.7 49.0 36.0 C51.7 36.3 55.2 36.1 58.0 36.0 C60.8 35.9 63.3 35.8 66.0 35.5 C68.7 35.2 71.7 34.8 74.0 34.5 C76.3 34.2 77.7 33.4 80.0 33.5 C82.3 33.6 85.3 34.4 88.0 35.0 C90.7 35.6 94.0 36.4 96.0 37.0 C98.0 37.6 98.7 38.0 100.0 38.5 C101.3 39.0 102.8 39.6 104.0 40.0 C105.2 40.4 105.8 40.8 107.0 41.0 C108.2 41.2 109.8 40.8 111.0 41.0 C112.2 41.2 112.5 42.2 114.0 42.5 C115.5 42.8 118.3 43.0 120.0 43.0 C121.7 43.0 123.3 42.6 124.0 42.5" fill="none" stroke="#0c1a80" stroke-width="1.50" stroke-linejoin="round"/>
<path d="M22.0 28.0 C22.3 27.2 24.8 26.8 26.0 27.0 C27.2 27.2 28.7 28.2 29.0 29.0 C29.3 29.8 28.8 31.5 28.0 32.0 C27.2 32.5 25.0 32.7 24.0 32.0 C23.0 31.3 21.7 28.8 22.0 28.0 Z" fill="#0c1a80" stroke="#0c1a80" stroke-width="1.50" stroke-linejoin="round"/>
<path d="M29.0 32.0 C29.7 31.2 32.3 30.7 34.0 31.0 C35.7 31.3 38.0 32.8 39.0 34.0 C40.0 35.2 40.7 37.2 40.0 38.0 C39.3 38.8 36.7 39.3 35.0 39.0 C33.3 38.7 31.0 37.2 30.0 36.0 C29.0 34.8 28.3 32.8 29.0 32.0 Z" fill="none" stroke="#0c1a80" stroke-width="1.50" stroke-linejoin="round"/>
<path d="M31.0 33.5 C31.5 33.0 33.9 32.7 35.0 33.0 C36.1 33.3 37.3 34.8 37.5 35.5 C37.7 36.2 36.9 37.4 36.0 37.5 C35.1 37.6 32.8 36.7 32.0 36.0 C31.2 35.3 30.5 34.0 31.0 33.5 Z" fill="none" stroke="#0c1a80" stroke-width="1.50" stroke-linejoin="round"/>
<path d="M41.0 39.0 C41.3 37.8 43.7 37.8 45.0 38.0 C46.3 38.2 48.5 39.0 49.0 40.0 C49.5 41.0 49.0 43.2 48.0 44.0 C47.0 44.8 44.2 45.8 43.0 45.0 C41.8 44.2 40.7 40.2 41.0 39.0 Z" fill="none" stroke="#0c1a80" stroke-width="1.50" stroke-linejoin="round"/>
<path d="M43.0 40.5 C43.3 40.0 45.3 39.7 46.0 40.0 C46.7 40.3 47.3 42.0 47.0 42.5 C46.7 43.0 44.7 43.3 44.0 43.0 C43.3 42.7 42.7 41.0 43.0 40.5 Z" fill="none" stroke="#0c1a80" stroke-width="1.50" stroke-linejoin="round"/>
<path d="M49.0 39.0 C49.5 37.8 52.5 37.8 54.0 38.0 C55.5 38.2 57.5 39.0 58.0 40.0 C58.5 41.0 58.2 43.2 57.0 44.0 C55.8 44.8 52.3 45.8 51.0 45.0 C49.7 44.2 48.5 40.2 49.0 39.0 Z" fill="none" stroke="#0c1a80" stroke-width="1.50" stroke-linejoin="round"/>
<path d="M51.0 40.5 C51.5 40.0 54.2 39.6 55.0 40.0 C55.8 40.4 56.5 42.5 56.0 43.0 C55.5 43.5 52.8 43.4 52.0 43.0 C51.2 42.6 50.5 41.0 51.0 40.5 Z" fill="none" stroke="#0c1a80" stroke-width="1.50" stroke-linejoin="round"/>
<path d="M59.0 38.0 C59.5 36.8 62.5 36.8 64.0 37.0 C65.5 37.2 67.5 38.0 68.0 39.0 C68.5 40.0 68.2 42.2 67.0 43.0 C65.8 43.8 62.3 44.8 61.0 44.0 C59.7 43.2 58.5 39.2 59.0 38.0 Z" fill="#0c1a80" stroke="#0c1a80" stroke-width="1.50" stroke-linejoin="round"/>
<path d="M70.0 40.0 C70.8 39.2 73.7 39.0 76.0 39.0 C78.3 39.0 82.3 39.3 84.0 40.0 C85.7 40.7 87.0 42.2 86.0 43.0 C85.0 43.8 80.5 44.8 78.0 45.0 C75.5 45.2 72.3 44.8 71.0 44.0 C69.7 43.2 69.2 40.8 70.0 40.0 Z" fill="none" stroke="#0c1a80" stroke-width="1.50" stroke-linejoin="round"/>
<path d="M74.0 41.0 C74.7 40.7 78.0 40.7 79.0 41.0 C80.0 41.3 80.7 42.7 80.0 43.0 C79.3 43.3 76.0 43.3 75.0 43.0 C74.0 42.7 73.3 41.3 74.0 41.0 Z" fill="none" stroke="#0c1a80" stroke-width="1.50" stroke-linejoin="round"/>
<path d="M98.0 46.0 C99.0 45.7 102.2 44.4 104.0 44.0 C105.8 43.6 107.3 43.3 109.0 43.5 C110.7 43.7 112.5 44.9 114.0 45.0 C115.5 45.1 116.3 44.0 118.0 44.0 C119.7 44.0 122.5 45.0 124.0 45.0 C125.5 45.0 126.0 44.0 127.0 44.0 C128.0 44.0 129.2 44.3 130.0 45.0 C130.8 45.7 131.0 47.8 132.0 48.0 C133.0 48.2 134.8 46.2 136.0 46.0 C137.2 45.8 137.8 46.5 139.0 47.0 C140.2 47.5 141.8 48.0 143.0 49.0 C144.2 50.0 144.8 52.3 146.0 53.0 C147.2 53.7 148.7 53.2 150.0 53.0 C151.3 52.8 152.7 52.0 154.0 52.0 C155.3 52.0 156.7 52.3 158.0 53.0 C159.3 53.7 161.0 55.0 162.0 56.0 C163.0 57.0 163.7 58.5 164.0 59.0" fill="none" stroke="#0c1a80" stroke-width="1.50" stroke-linejoin="round"/>
<path d="M99.0 51.0 C99.8 50.7 102.3 49.2 104.0 49.0 C105.7 48.8 107.3 49.5 109.0 50.0 C110.7 50.5 112.5 51.8 114.0 52.0 C115.5 52.2 116.7 51.5 118.0 51.5 C119.3 51.5 120.7 51.8 122.0 52.0 C123.3 52.2 124.7 52.5 126.0 53.0 C127.3 53.5 128.7 54.5 130.0 55.0 C131.3 55.5 132.7 55.7 134.0 56.0 C135.3 56.3 136.7 56.8 138.0 57.0 C139.3 57.2 141.3 57.0 142.0 57.0" fill="none" stroke="#0c1a80" stroke-width="1.50" stroke-linejoin="round"/>
<path d="M100.0 56.0 C101.0 56.3 103.7 57.5 106.0 58.0 C108.3 58.5 111.3 59.0 114.0 59.0 C116.7 59.0 119.5 58.0 122.0 58.0 C124.5 58.0 126.7 58.5 129.0 59.0 C131.3 59.5 133.8 60.7 136.0 61.0 C138.2 61.3 140.0 61.3 142.0 61.0 C144.0 60.7 146.0 59.7 148.0 59.0 C150.0 58.3 152.2 57.7 154.0 57.0 C155.8 56.3 157.5 55.7 159.0 55.0 C160.5 54.3 162.3 53.3 163.0 53.0" fill="none" stroke="#0c1a80" stroke-width="1.50" stroke-linejoin="round"/>
<path d="M102.0 61.0 C103.2 61.3 106.2 62.3 109.0 63.0 C111.8 63.7 115.7 64.5 119.0 65.0 C122.3 65.5 126.2 65.8 129.0 66.0 C131.8 66.2 133.5 66.3 136.0 66.0 C138.5 65.7 141.3 64.7 144.0 64.0 C146.7 63.3 149.7 62.8 152.0 62.0 C154.3 61.2 156.0 60.0 158.0 59.0 C160.0 58.0 163.0 56.5 164.0 56.0" fill="none" stroke="#0c1a80" stroke-width="1.50" stroke-linejoin="round"/>
<path d="M104.0 64.5 C105.7 64.9 110.7 66.3 114.0 67.0 C117.3 67.7 120.7 68.1 124.0 68.5 C127.3 68.9 131.3 69.6 134.0 69.5 C136.7 69.4 139.0 68.2 140.0 68.0" fill="none" stroke="#0c1a80" stroke-width="1.50" stroke-linejoin="round"/>
<path d="M138.0 38.0 C139.0 38.5 142.0 39.8 144.0 41.0 C146.0 42.2 148.0 43.5 150.0 45.0 C152.0 46.5 154.0 48.7 156.0 50.0 C158.0 51.3 160.3 52.3 162.0 53.0 C163.7 53.7 165.3 53.8 166.0 54.0" fill="none" stroke="#0c1a80" stroke-width="1.50" stroke-linejoin="round"/>
<path d="M140.0 34.0 C141.7 34.3 146.7 35.3 150.0 36.0 C153.3 36.7 157.3 37.3 160.0 38.0 C162.7 38.7 165.0 39.7 166.0 40.0" fill="none" stroke="#0c1a80" stroke-width="1.50" stroke-linejoin="round"/>
<path d="M124.0 44.0 C124.7 43.3 126.8 42.8 128.0 43.0 C129.2 43.2 130.7 44.0 131.0 45.0 C131.3 46.0 130.8 48.3 130.0 49.0 C129.2 49.7 127.0 49.3 126.0 49.0 C125.0 48.7 124.3 47.8 124.0 47.0 C123.7 46.2 123.3 44.7 124.0 44.0 Z" fill="none" stroke="#0c1a80" stroke-width="1.50" stroke-linejoin="round"/>
<path d="M132.0 46.5 C132.8 45.6 135.8 45.1 137.0 45.5 C138.2 45.9 139.2 47.9 139.0 49.0 C138.8 50.1 137.2 51.7 136.0 52.0 C134.8 52.3 132.7 51.9 132.0 51.0 C131.3 50.1 131.2 47.4 132.0 46.5 Z" fill="none" stroke="#0c1a80" stroke-width="1.50" stroke-linejoin="round"/>
<path d="M140.0 48.0 C140.3 47.2 143.0 47.3 144.0 48.0 C145.0 48.7 146.3 51.2 146.0 52.0 C145.7 52.8 143.0 53.7 142.0 53.0 C141.0 52.3 139.7 48.8 140.0 48.0 Z" fill="none" stroke="#0c1a80" stroke-width="1.50" stroke-linejoin="round"/>
<path d="M108.0 46.0 C108.7 45.4 112.0 45.5 113.0 46.0 C114.0 46.5 114.7 48.4 114.0 49.0 C113.3 49.6 110.0 50.0 109.0 49.5 C108.0 49.0 107.3 46.6 108.0 46.0 Z" fill="none" stroke="#0c1a80" stroke-width="1.50" stroke-linejoin="round"/>
<path d="M150.0 54.0 C150.7 53.5 154.0 53.5 155.0 54.0 C156.0 54.5 156.7 56.5 156.0 57.0 C155.3 57.5 152.0 57.5 151.0 57.0 C150.0 56.5 149.3 54.5 150.0 54.0 Z" fill="#0c1a80" stroke="#0c1a80" stroke-width="1.50" stroke-linejoin="round"/>
<path d="M164.5 54.7 C164.0 55.2 163.5 56.6 161.6 57.6 C159.7 58.6 155.4 59.5 153.0 60.5 C150.6 61.5 149.4 62.2 147.2 63.4 C145.0 64.6 142.2 66.3 140.0 67.7 C137.8 69.1 135.4 70.6 134.2 72.0 C133.0 73.4 132.1 75.2 132.8 76.3 C133.5 77.4 136.4 78.5 138.6 78.5 C140.8 78.5 143.9 77.4 145.8 76.3 C147.7 75.2 149.1 73.4 150.0 72.0 C150.9 70.6 151.2 68.4 151.5 67.7" fill="none" stroke="#0c1a80" stroke-width="1.50" stroke-linejoin="round"/>
<path d="M114.5 76.0 C115.6 76.6 118.8 78.7 121.0 79.7 C123.2 80.7 126.1 81.7 128.0 81.8 C129.9 81.9 131.8 80.6 132.5 80.4" fill="none" stroke="#0c1a80" stroke-width="1.50" stroke-linejoin="round"/>
<path d="M118.6 78.0 C118.9 76.8 121.9 77.1 123.0 77.6 C124.1 78.1 125.3 79.8 125.0 81.0 C124.7 82.2 122.1 85.0 121.0 84.5 C119.9 84.0 118.3 79.2 118.6 78.0 Z" fill="none" stroke="#0c1a80" stroke-width="1.50" stroke-linejoin="round"/>
<path d="M131.0 78.5 C131.2 77.7 133.6 77.6 134.5 78.0 C135.4 78.4 136.8 80.2 136.6 81.0 C136.3 81.8 133.9 83.4 133.0 83.0 C132.1 82.6 130.8 79.3 131.0 78.5 Z" fill="none" stroke="#0c1a80" stroke-width="1.50" stroke-linejoin="round"/>
<path d="M121.3 89.6 C121.8 89.1 123.5 88.8 124.0 89.2 C124.5 89.6 124.5 91.5 124.0 92.0 C123.5 92.5 121.8 92.4 121.3 92.0 C120.8 91.6 120.8 90.1 121.3 89.6 Z" fill="none" stroke="#0c1a80" stroke-width="1.50" stroke-linejoin="round"/>
<path d="M173.0 31.7 C173.7 29.9 174.5 29.1 176.0 28.0 C177.5 26.9 180.5 25.1 181.8 25.2 C183.1 25.3 183.5 27.0 184.0 28.8 C184.5 30.6 185.1 33.8 184.7 36.0 C184.3 38.2 183.5 40.6 181.8 41.8 C180.1 43.0 176.3 43.7 174.6 43.2 C172.9 42.7 172.0 40.8 171.7 38.9 C171.4 37.0 172.3 33.5 173.0 31.7 Z" fill="none" stroke="#0c1a80" stroke-width="1.50" stroke-linejoin="round"/>
<path d="M176.0 35.3 C176.7 34.3 180.1 34.2 181.8 34.6 C183.5 35.0 185.5 36.4 186.0 37.5 C186.5 38.6 186.1 40.5 184.7 41.0 C183.3 41.5 178.9 41.2 177.5 40.3 C176.1 39.3 175.3 36.2 176.0 35.3 Z" fill="#0c1a80" stroke="#0c1a80" stroke-width="1.50" stroke-linejoin="round"/>
<path d="M165.0 43.0 C165.3 44.0 167.1 47.0 167.0 49.0 C166.9 51.0 164.9 53.8 164.5 54.7" fill="none" stroke="#0c1a80" stroke-width="1.50" stroke-linejoin="round"/>
<text x="88.0" y="30.5" font-size="9.6" text-anchor="middle" transform="rotate(18.0 88.0 30.5)" dy="3.4">0.005</text>
<text x="41.0" y="59.6" font-size="9.6" text-anchor="middle" transform="rotate(25.0 41.0 59.6)" dy="3.4">0.005</text>
<text x="124.0" y="36.8" font-size="9.6" text-anchor="middle" transform="rotate(-8.0 124.0 36.8)" dy="3.4">0.010</text>
<text x="167.4" y="40.3" font-size="9.6" text-anchor="middle" transform="rotate(-85.0 167.4 40.3)" dy="3.4">0.005</text>
<text x="104.5" y="71.0" font-size="9.6" text-anchor="middle" transform="rotate(33.0 104.5 71.0)" dy="3.4">0.010</text>
<text x="141.5" y="88.0" font-size="9.6" text-anchor="middle" transform="rotate(-30.0 141.5 88.0)" dy="3.4">0.005</text>
<use href="#coast"/>
</g>
<rect x="2.6" y="2.4" width="24.2" height="19.6" fill="#fff"/>
<text x="6.6" y="15.7" font-size="11.5">b1)</text>
<rect x="1" y="1" width="206" height="105" fill="none" stroke="#000" stroke-width="2"/>
</g>
<g transform="translate(508 17.00)">
<g clip-path="url(#cp)">
<rect x="0" y="0" width="208" height="107" fill="#9cb4ff"/>
<path d="M-1.4 21.6 C1.2 14.8 10.6 21.6 14.4 23.0 C18.2 24.5 19.2 27.1 21.6 30.3 C24.0 33.4 26.2 38.7 28.8 41.8 C31.5 44.9 32.7 47.8 37.5 49.0 C42.3 50.2 50.8 49.2 57.6 49.0 C64.5 48.7 74.7 47.1 78.5 47.5 C82.3 48.0 78.4 51.1 80.7 51.9 C82.9 52.6 89.8 50.4 92.2 51.9 C94.6 53.3 95.0 57.6 95.1 60.5 C95.2 63.4 92.0 65.8 92.9 69.1 C93.9 72.5 98.8 77.8 100.8 80.7 C102.9 83.5 104.4 84.5 105.2 86.4 C105.9 88.4 107.3 93.9 105.2 92.2 C103.0 90.5 96.3 79.2 92.2 76.3 C88.1 73.5 84.3 75.9 80.7 74.9 C77.1 73.9 72.5 72.7 70.6 70.6 C68.7 68.4 71.3 63.5 69.1 61.9 C67.0 60.4 61.9 61.8 57.6 61.2 C53.3 60.6 48.0 59.3 43.2 58.3 C38.4 57.4 33.6 55.7 28.8 55.5 C24.0 55.2 18.0 55.6 14.4 56.9 C10.8 58.2 9.8 62.2 7.2 63.4 C4.6 64.6 0.0 71.1 -1.4 64.1 C-2.9 57.1 -4.1 28.5 -1.4 21.6 Z" fill="#7092ff"/>
<path d="M-1.4 21.6 C1.2 16.8 10.6 21.6 14.4 23.0 C18.2 24.5 19.2 27.1 21.6 30.3 C24.0 33.4 26.2 38.7 28.8 41.8 C31.5 44.9 32.7 47.7 37.5 49.0 C42.3 50.3 52.3 49.9 57.6 49.7 C62.9 49.5 65.7 47.9 69.1 47.5 C72.6 47.2 76.6 46.8 78.5 47.5 C80.4 48.3 78.4 51.1 80.7 51.9 C82.9 52.6 89.8 50.9 92.2 51.9 C94.6 52.8 94.8 55.2 95.1 57.6 C95.3 60.0 94.6 64.6 93.6 66.3 C92.7 67.9 90.8 68.2 89.3 67.7 C87.9 67.2 86.9 65.3 85.0 63.4 C83.1 61.5 80.4 57.6 77.8 56.2 C75.1 54.7 72.5 55.0 69.1 54.7 C65.8 54.5 61.9 55.0 57.6 54.7 C53.3 54.5 48.0 53.8 43.2 53.3 C38.4 52.8 33.1 52.1 28.8 51.9 C24.5 51.6 21.1 51.9 17.3 51.9 C13.4 51.9 8.9 51.9 5.8 51.9 C2.6 51.9 -0.2 56.9 -1.4 51.9 C-2.6 46.8 -4.1 26.4 -1.4 21.6 Z" fill="#4571ff"/>
<path d="M-1.4 34.6 C0.2 33.0 5.3 34.0 8.6 34.6 C12.0 35.2 16.6 36.9 18.7 38.2 C20.9 39.4 22.3 41.2 21.6 42.1 C20.9 43.0 17.0 43.3 14.4 43.5 C11.8 43.7 8.4 43.4 5.8 43.5 C3.1 43.6 -0.2 45.4 -1.4 43.9 C-2.6 42.4 -3.1 36.1 -1.4 34.6 Z" fill="#1950ff"/>
<g clip-path="url(#lc)"><rect x="0" y="0" width="208" height="107" fill="#c8d5ff"/>
<path d="M90.0 52.0 C92.3 42.3 97.3 50.3 104.0 50.0 C110.7 49.7 122.3 49.7 130.0 50.0 C137.7 50.3 145.0 51.3 150.0 52.0 C155.0 52.7 157.3 52.7 160.0 54.0 C162.7 55.3 165.5 57.0 166.0 60.0 C166.5 63.0 164.0 67.8 163.0 72.0 C162.0 76.2 159.5 79.0 160.0 85.0 C160.5 91.0 177.7 104.2 166.0 108.0 C154.3 111.8 102.7 117.3 90.0 108.0 C77.3 98.7 87.7 61.7 90.0 52.0 Z" fill="#9cb4ff"/>
<path d="M90.0 50.0 C103.0 46.7 155.0 46.7 168.0 50.0 C181.0 53.3 181.0 66.7 168.0 70.0 C155.0 73.3 103.0 73.3 90.0 70.0 C77.0 66.7 77.0 53.3 90.0 50.0 Z" fill="#c8d5ff" filter="url(#f2)"/>
<path d="M90.0 68.0 C103.0 61.3 155.0 61.3 168.0 68.0 C181.0 74.7 181.0 101.3 168.0 108.0 C155.0 114.7 103.0 114.7 90.0 108.0 C77.0 101.3 77.0 74.7 90.0 68.0 Z" fill="#c8d5ff" filter="url(#f3)"/>
<path d="M47.5 5.8 C52.1 4.2 66.9 4.9 76.3 5.0 C85.8 5.2 94.6 6.8 104.0 6.5 C113.4 6.1 127.8 1.6 132.8 2.9 C137.9 4.2 139.6 12.2 134.3 14.4 C128.9 16.6 110.5 15.2 100.8 15.8 C91.2 16.4 83.1 18.0 76.3 18.0 C69.6 18.0 65.1 16.4 60.5 15.8 C55.9 15.2 51.1 16.1 49.0 14.4 C46.8 12.7 43.0 7.3 47.5 5.8 Z" fill="#ffffff" filter="url(#f4)"/>
<path d="M60.5 5.8 C63.1 4.1 73.7 4.1 76.3 5.8 C79.0 7.4 79.0 14.2 76.3 15.8 C73.7 17.5 63.1 17.5 60.5 15.8 C57.9 14.2 57.9 7.4 60.5 5.8 Z" fill="#ffffff" filter="url(#f5)"/>
<path d="M132.8 5.0 C137.1 3.4 150.1 4.4 158.7 4.3 C167.4 4.2 180.4 2.8 184.7 4.3 C189.0 5.9 188.5 12.0 184.7 13.7 C180.8 15.4 170.3 14.3 161.6 14.4 C153.0 14.5 137.6 16.0 132.8 14.4 C128.0 12.8 128.5 6.7 132.8 5.0 Z" fill="#ffc6c6"/>
<path d="M109.0 6.5 C113.0 4.6 128.9 3.5 132.8 5.0 C136.8 6.6 136.8 13.9 132.8 15.8 C128.9 17.8 113.0 18.1 109.0 16.6 C105.1 15.0 105.1 8.4 109.0 6.5 Z" fill="#ffc6c6" filter="url(#f6)"/>
<path d="M140.0 14.4 C147.5 12.0 177.2 12.0 184.7 14.4 C192.1 16.8 192.1 26.4 184.7 28.8 C177.2 31.2 147.5 31.2 140.0 28.8 C132.6 26.4 132.6 16.8 140.0 14.4 Z" fill="#ffffff" filter="url(#f7)"/>
<path d="M13.0 21.6 C14.2 20.2 18.5 26.0 21.6 27.4 C24.7 28.7 28.1 29.3 31.7 29.5 C35.3 29.8 38.9 28.7 43.2 28.8 C47.5 28.9 52.8 30.3 57.6 30.3 C62.4 30.3 67.2 29.2 72.0 28.8 C76.8 28.5 81.1 28.0 86.4 28.1 C91.8 28.2 97.5 29.3 104.0 29.5 C110.5 29.8 117.7 29.3 125.6 29.5 C133.5 29.8 147.0 29.7 151.5 31.0 C156.1 32.3 153.0 33.5 153.0 37.5 C153.0 41.4 159.7 51.4 151.5 54.7 C143.4 58.1 112.9 53.3 104.0 57.6 C95.1 61.9 100.9 80.7 98.0 80.7 C95.0 80.7 93.2 61.9 86.4 57.6 C79.7 53.3 67.2 56.2 57.6 54.7 C48.0 53.3 36.0 52.1 28.8 49.0 C21.6 45.9 17.0 40.6 14.4 36.0 C11.8 31.5 11.8 23.0 13.0 21.6 Z" fill="#ffffff"/>
<path d="M23.0 28.8 C25.4 27.7 34.9 29.5 37.5 31.0 C40.0 32.5 40.6 36.6 38.2 37.7 C35.8 38.9 25.6 39.2 23.0 37.7 C20.5 36.3 20.6 29.9 23.0 28.8 Z" fill="#ffc6c6" filter="url(#f8)"/>
<path d="M56.2 34.6 C57.9 33.0 64.5 32.8 66.3 34.3 C68.0 35.7 68.2 41.7 66.6 43.2 C64.9 44.8 57.9 44.9 56.2 43.5 C54.5 42.1 54.5 36.1 56.2 34.6 Z" fill="#ff9e9e" filter="url(#f9)"/>
<path d="M67.7 33.4 C73.5 31.5 95.6 33.0 104.0 32.8 C112.5 32.7 113.6 32.4 118.4 32.4 C123.2 32.5 127.5 32.7 132.8 33.1 C138.1 33.6 146.7 33.6 150.1 35.3 C153.5 37.0 152.7 40.5 153.0 43.2 C153.2 46.0 153.7 50.9 151.5 51.9 C149.4 52.8 144.3 48.7 140.0 49.0 C135.7 49.2 130.4 53.1 125.6 53.3 C120.8 53.5 114.8 51.4 111.2 50.4 C107.6 49.5 108.1 48.0 104.0 47.5 C99.9 47.1 92.2 48.0 86.4 47.5 C80.6 47.1 72.3 47.0 69.1 44.7 C66.0 42.3 61.9 35.4 67.7 33.4 Z" fill="#ffc6c6"/>
<path d="M80.7 36.0 C83.6 34.3 97.7 36.0 104.0 36.0 C110.3 36.0 112.4 35.8 118.4 36.0 C124.4 36.3 135.2 35.8 140.0 37.5 C144.8 39.1 148.4 43.7 147.2 46.1 C146.0 48.5 140.0 51.4 132.8 51.9 C125.6 52.3 111.7 49.9 104.0 49.0 C96.3 48.0 90.3 48.3 86.4 46.1 C82.5 43.9 77.7 37.7 80.7 36.0 Z" fill="#ff9e9e" filter="url(#f10)"/>
<path d="M104.0 40.3 C105.4 38.9 109.0 38.9 112.6 38.9 C116.2 38.9 121.1 39.6 125.6 40.3 C130.2 41.1 137.4 41.8 140.0 43.2 C142.7 44.7 143.9 47.5 141.5 49.0 C139.1 50.4 130.7 51.7 125.6 51.9 C120.6 52.0 114.8 50.4 111.2 49.7 C107.6 49.0 105.2 49.1 104.0 47.5 C102.8 46.0 102.6 41.8 104.0 40.3 Z" fill="#ff7676" filter="url(#f11)"/>
<path d="M104.0 47.5 C106.4 46.8 113.6 49.2 118.4 49.0 C123.2 48.7 128.5 46.1 132.8 46.1 C137.1 46.1 141.9 47.8 144.3 49.0 C146.7 50.2 150.3 52.3 147.2 53.3 C144.1 54.3 132.8 54.7 125.6 54.7 C118.4 54.7 107.6 54.5 104.0 53.3 C100.4 52.1 101.6 48.3 104.0 47.5 Z" fill="#7092ff" filter="url(#f12)"/>
<path d="M151.5 36.0 C153.0 33.1 157.5 33.6 161.6 31.7 C165.7 29.8 172.2 25.4 176.0 24.5 C179.9 23.5 182.3 24.5 184.7 25.9 C187.1 27.4 189.0 30.3 190.4 33.1 C191.9 36.0 193.3 39.6 193.3 43.2 C193.3 46.8 192.8 51.9 190.4 54.7 C188.0 57.6 182.3 59.3 178.9 60.5 C175.5 61.7 172.7 60.5 170.3 61.9 C167.9 63.4 166.4 67.0 164.5 69.1 C162.6 71.3 160.4 74.9 158.7 74.9 C157.1 74.9 154.9 71.5 154.4 69.1 C153.9 66.7 156.1 63.9 155.9 60.5 C155.6 57.1 153.7 53.1 153.0 49.0 C152.3 44.9 150.1 38.9 151.5 36.0 Z" fill="#ffffff"/>
<path d="M173.1 33.1 C175.1 30.7 182.8 31.7 184.7 34.6 C186.6 37.5 186.6 48.0 184.7 50.4 C182.8 52.8 175.1 51.9 173.1 49.0 C171.2 46.1 171.2 35.5 173.1 33.1 Z" fill="#ff9e9e" filter="url(#f13)"/>
<path d="M104.0 52.6 C107.4 51.7 113.6 51.4 118.4 50.7 C123.2 50.0 128.0 48.0 132.8 48.3 C137.6 48.5 142.9 51.0 147.2 52.1 C151.5 53.3 156.6 53.6 158.7 55.0 C160.9 56.4 162.1 59.1 160.2 60.5 C158.3 61.9 153.0 62.9 147.2 63.4 C141.5 63.9 132.8 63.3 125.6 63.4 C118.4 63.5 108.1 64.1 104.0 64.1 C99.9 64.1 101.8 64.7 100.8 63.4 C99.8 62.1 97.4 58.0 98.0 56.2 C98.5 54.4 100.6 53.5 104.0 52.6 Z" fill="#9cb4ff"/>
<path d="M104.0 51.9 C107.4 50.8 113.6 50.7 118.4 50.0 C123.2 49.3 128.0 47.3 132.8 47.5 C137.6 47.8 142.9 50.3 147.2 51.4 C151.5 52.6 156.6 52.8 158.7 54.3 C160.9 55.8 162.1 59.0 160.2 60.5 C158.3 62.0 153.0 62.9 147.2 63.4 C141.5 63.9 132.8 63.3 125.6 63.4 C118.4 63.5 108.1 64.1 104.0 64.1 C99.9 64.1 101.8 64.7 100.8 63.4 C99.8 62.1 97.4 58.1 98.0 56.2 C98.5 54.3 100.6 52.9 104.0 51.9 Z" fill="#7092ff" filter="url(#f14)"/>
<path d="M104.0 63.4 C108.6 63.4 118.4 63.4 125.6 63.4 C132.8 63.4 141.5 63.9 147.2 63.4 C153.0 62.9 157.8 59.5 160.2 60.5 C162.6 61.5 161.9 65.8 161.6 69.1 C161.4 72.5 168.3 78.7 158.7 80.7 C149.1 82.6 113.7 80.7 104.0 80.7 C94.4 80.7 101.8 83.5 100.8 80.7 C99.8 77.8 97.4 66.3 98.0 63.4 C98.5 60.5 99.4 63.4 104.0 63.4 Z" fill="#9cb4ff"/>
<path d="M109.8 66.3 C111.7 63.9 119.4 63.9 121.3 66.3 C123.2 68.7 123.2 78.3 121.3 80.7 C119.4 83.1 111.7 83.1 109.8 80.7 C107.8 78.3 107.8 68.7 109.8 66.3 Z" fill="#ff9e9e" filter="url(#f15)"/>
<path d="M104.0 77.8 C113.2 77.8 145.8 75.4 154.4 77.8 C163.1 80.2 164.3 89.8 155.9 92.2 C147.5 94.6 113.2 92.2 104.0 92.2 C94.8 92.2 101.6 94.6 100.8 92.2 C100.1 89.8 98.9 80.2 99.4 77.8 C99.9 75.4 94.8 77.8 104.0 77.8 Z" fill="#ffffff" filter="url(#f16)"/>
<path d="M92.2 49.0 C93.7 42.7 102.0 42.7 104.0 49.0 C106.0 55.2 105.5 80.2 104.0 86.4 C102.5 92.7 97.0 92.7 95.1 86.4 C93.1 80.2 90.7 55.2 92.2 49.0 Z" fill="#ffffff" filter="url(#f17)"/>
<path d="M92.2 49.0 C93.7 42.7 102.0 42.7 104.0 49.0 C106.0 55.2 105.5 80.2 104.0 86.4 C102.5 92.7 97.0 92.7 95.1 86.4 C93.1 80.2 90.7 55.2 92.2 49.0 Z" fill="#ff9e9e" filter="url(#f18)"/>
<path d="M147.2 92.2 C152.0 89.1 168.8 90.8 176.0 89.3 C183.2 87.9 184.9 85.0 190.4 83.5 C196.0 82.1 206.0 76.6 209.2 80.7 C212.3 84.7 219.5 103.5 209.2 108.0 C198.8 112.6 157.5 110.7 147.2 108.0 C136.9 105.4 142.4 95.3 147.2 92.2 Z" fill="#9cb4ff"/></g><use href="#lakes3" fill="#9cb4ff"/>
<use href="#coast"/>
</g>
<rect x="2.6" y="2.4" width="24.2" height="19.6" fill="#fff"/>
<text x="6.6" y="15.7" font-size="11.5">c1)</text>
<rect x="1" y="1" width="206" height="105" fill="none" stroke="#000" stroke-width="2"/>
</g>
<text transform="translate(8.3 192.4) rotate(-90)" font-size="10.5" text-anchor="middle">FINN</text>
<g transform="translate(40 138.87)">
<g clip-path="url(#cp)">
<rect x="0" y="0" width="208" height="107" fill="#3d6bff"/>
<path d="M82.1 0.0 C90.3 -1.2 128.0 -1.2 135.4 0.0 C142.9 1.2 134.9 6.0 126.8 7.2 C118.6 8.4 93.9 8.4 86.4 7.2 C79.0 6.0 73.9 1.2 82.1 0.0 Z" fill="#1950ff"/>
<path d="M164.2 0.0 C166.1 -0.9 182.9 -0.9 184.4 0.0 C185.8 0.9 176.2 5.2 172.9 5.2 C169.5 5.2 162.3 0.9 164.2 0.0 Z" fill="#1950ff"/>
<path d="M0.0 28.8 C2.9 24.5 12.0 27.4 17.3 27.4 C22.6 27.4 27.6 27.6 31.7 28.8 C35.8 30.0 40.8 32.2 41.8 34.6 C42.7 37.0 40.1 40.8 37.5 43.2 C34.8 45.6 30.3 47.5 25.9 49.0 C21.6 50.4 15.8 51.1 11.5 51.9 C7.2 52.6 1.9 57.1 0.0 53.3 C-1.9 49.5 -2.9 33.1 0.0 28.8 Z" fill="#6086ff"/>
<path d="M56.2 40.3 C57.6 38.7 64.6 37.0 66.3 37.5 C67.9 37.9 67.7 41.5 66.3 43.2 C64.8 44.9 59.3 48.0 57.6 47.5 C55.9 47.1 54.7 42.0 56.2 40.3 Z" fill="#6086ff"/>
<path d="M73.5 66.3 C73.9 64.1 75.6 58.8 77.8 56.2 C79.9 53.5 83.5 52.6 86.4 50.4 C89.3 48.3 91.7 45.1 95.1 43.2 C98.4 41.3 102.3 40.0 106.6 38.9 C110.9 37.8 116.2 37.4 121.0 36.9 C125.8 36.4 131.6 35.4 135.4 36.0 C139.2 36.6 141.6 38.2 144.1 40.3 C146.5 42.5 147.2 46.8 149.8 49.0 C152.5 51.1 158.7 51.9 159.9 53.3 C161.1 54.7 158.7 56.2 157.0 57.6 C155.3 59.1 153.4 60.7 149.8 61.9 C146.2 63.1 140.2 63.6 135.4 64.8 C130.6 66.0 125.8 68.2 121.0 69.1 C116.2 70.1 112.4 70.3 106.6 70.6 C100.8 70.8 91.7 70.8 86.4 70.6 C81.1 70.3 77.1 69.9 74.9 69.1 C72.7 68.4 73.0 68.4 73.5 66.3 Z" fill="#6086ff"/>
<path d="M129.6 77.8 C130.8 76.6 136.6 75.4 138.3 76.3 C140.0 77.3 140.9 82.3 139.7 83.5 C138.5 84.7 132.8 84.5 131.1 83.5 C129.4 82.6 128.4 79.0 129.6 77.8 Z" fill="#6086ff"/>
<path d="M178.0 28.8 C178.7 27.0 181.5 26.6 182.1 28.2 C182.7 29.9 182.2 37.1 181.5 38.9 C180.8 40.7 178.6 40.6 178.0 38.9 C177.5 37.2 177.4 30.6 178.0 28.8 Z" fill="#6086ff"/>
<path d="M95.1 51.9 C96.0 50.2 99.4 47.5 103.7 46.1 C108.0 44.7 115.7 44.2 121.0 43.2 C126.3 42.3 131.6 39.9 135.4 40.3 C139.2 40.8 141.6 44.2 144.1 46.1 C146.5 48.0 149.3 49.9 149.8 51.9 C150.3 53.8 149.3 56.2 146.9 57.6 C144.5 59.1 139.2 59.8 135.4 60.5 C131.6 61.2 128.2 62.2 123.9 61.9 C119.6 61.7 113.8 60.0 109.5 59.1 C105.2 58.1 100.4 57.4 98.0 56.2 C95.6 55.0 94.1 53.5 95.1 51.9 Z" fill="#84a1ff"/>
<path d="M102.3 53.3 C103.2 52.3 109.0 49.7 110.9 49.6 C112.8 49.4 114.8 51.5 113.8 52.4 C112.8 53.4 107.1 55.2 105.2 55.3 C103.2 55.5 101.3 54.3 102.3 53.3 Z" fill="#a8bcff"/>
<path d="M121.0 43.8 C122.1 43.1 127.2 41.4 128.2 41.8 C129.2 42.2 127.9 45.4 126.8 46.1 C125.7 46.8 122.5 46.5 121.6 46.1 C120.6 45.7 119.9 44.5 121.0 43.8 Z" fill="#a8bcff"/>
<path d="M135.4 53.3 C136.6 52.3 141.4 51.1 142.6 51.9 C143.8 52.6 143.8 56.7 142.6 57.6 C141.4 58.6 136.6 58.3 135.4 57.6 C134.2 56.9 134.2 54.3 135.4 53.3 Z" fill="#a8bcff"/>
<path d="M27.4 33.1 C28.6 32.2 34.3 31.5 36.0 32.3 C37.7 33.0 38.7 36.5 37.5 37.5 C36.3 38.4 30.5 38.7 28.8 38.0 C27.1 37.3 26.2 34.1 27.4 33.1 Z" fill="#84a1ff"/>
<path d="M185.0 51.9 C185.4 49.9 188.0 49.6 188.7 51.3 C189.4 53.0 189.5 60.0 189.0 61.9 C188.5 63.9 186.5 64.5 185.8 62.8 C185.2 61.1 184.5 53.8 185.0 51.9 Z" fill="#1950ff"/>
<use href="#coast"/>
</g>
<rect x="2.6" y="2.4" width="24.2" height="19.6" fill="#fff"/>
<text x="6.6" y="15.7" font-size="11.5">a2)</text>
<rect x="1" y="1" width="206" height="105" fill="none" stroke="#000" stroke-width="2"/>
<line x1="-3.8" x2="0" y1="9.35" y2="9.35" stroke="#000" stroke-width="1.7"/>
<text x="-7.3" y="12.75" font-size="9.6" text-anchor="end">15°N</text>
<line x1="-3.8" x2="0" y1="25.80" y2="25.80" stroke="#000" stroke-width="1.7"/>
<text x="-7.3" y="29.20" font-size="9.6" text-anchor="end">10°N</text>
<line x1="-3.8" x2="0" y1="42.60" y2="42.60" stroke="#000" stroke-width="1.7"/>
<text x="-7.3" y="46.00" font-size="9.6" text-anchor="end">5°N</text>
<line x1="-3.8" x2="0" y1="59.45" y2="59.45" stroke="#000" stroke-width="1.7"/>
<text x="-7.3" y="62.85" font-size="9.6" text-anchor="end">0°</text>
<line x1="-3.8" x2="0" y1="76.90" y2="76.90" stroke="#000" stroke-width="1.7"/>
<text x="-7.3" y="80.30" font-size="9.6" text-anchor="end">5°S</text>
<line x1="-3.8" x2="0" y1="94.80" y2="94.80" stroke="#000" stroke-width="1.7"/>
<text x="-7.3" y="98.20" font-size="9.6" text-anchor="end">10°S</text>
</g>
<g transform="translate(274 138.87)">
<g clip-path="url(#cp)">
<use href="#albedo"/><path d="M21.6 30.3 C22.2 29.1 24.0 28.4 25.9 28.2 C27.8 28.1 31.2 28.7 33.1 29.4 C35.1 30.1 37.0 31.0 37.5 32.3 C37.9 33.5 37.5 35.9 36.0 36.9 C34.6 37.8 31.1 38.3 28.8 38.0 C26.6 37.7 23.7 36.4 22.5 35.1 C21.3 33.9 21.0 31.4 21.6 30.3 Z" fill="none" stroke="#0c1a80" stroke-width="1.50" stroke-linejoin="round"/>
<path d="M31.7 33.1 C32.3 32.5 35.1 32.1 36.0 32.6 C36.9 33.0 37.5 35.1 36.9 35.7 C36.3 36.3 33.1 36.7 32.3 36.3 C31.4 35.9 31.1 33.8 31.7 33.1 Z" fill="#0c1a80" stroke="#0c1a80" stroke-width="1.50" stroke-linejoin="round"/>
<path d="M91.6 47.5 C91.2 48.3 90.2 50.6 89.3 51.9 C88.4 53.2 87.0 54.1 86.4 55.3 C85.9 56.5 85.4 58.0 85.9 59.1 C86.3 60.2 87.3 61.2 89.3 61.9 C91.3 62.7 95.1 62.9 98.0 63.4 C100.8 63.9 103.7 64.3 106.6 64.8 C109.5 65.3 112.3 66.2 115.2 66.3 C118.2 66.3 122.9 65.3 124.5 65.1" fill="none" stroke="#0c1a80" stroke-width="1.50" stroke-linejoin="round"/>
<path d="M117.5 39.5 C119.1 38.9 123.8 36.3 126.8 36.0 C129.7 35.7 133.0 35.8 135.4 37.5 C137.8 39.1 138.8 43.9 141.2 46.1 C143.6 48.3 146.7 49.2 149.8 50.4 C152.9 51.6 158.5 52.1 159.9 53.3 C161.3 54.5 159.7 56.2 158.5 57.6 C157.3 59.1 154.0 60.9 152.7 61.9 C151.3 63.0 150.8 63.6 150.4 64.0" fill="none" stroke="#0c1a80" stroke-width="1.50" stroke-linejoin="round"/>
<path d="M100.8 47.5 C103.0 46.2 110.9 45.5 115.2 44.7 C119.6 43.8 124.6 42.2 126.8 42.6 C128.9 43.1 129.2 46.2 128.2 47.5 C127.2 48.8 124.1 49.5 121.0 50.4 C117.9 51.4 112.6 52.9 109.5 53.3 C106.4 53.7 103.7 53.7 102.3 52.7 C100.8 51.8 98.7 48.9 100.8 47.5 Z" fill="none" stroke="#0c1a80" stroke-width="1.50" stroke-linejoin="round"/>
<path d="M126.8 51.9 C128.2 50.4 135.6 48.7 138.3 49.0 C140.9 49.2 142.6 51.9 142.6 53.3 C142.6 54.7 140.4 56.9 138.3 57.6 C136.1 58.3 131.6 58.6 129.6 57.6 C127.7 56.7 125.3 53.3 126.8 51.9 Z" fill="none" stroke="#0c1a80" stroke-width="1.50" stroke-linejoin="round"/>
<path d="M117.5 47.0 C118.5 46.3 122.7 46.0 123.9 46.7 C125.0 47.3 125.4 50.0 124.5 50.7 C123.5 51.4 119.3 51.3 118.1 50.7 C117.0 50.1 116.6 47.6 117.5 47.0 Z" fill="none" stroke="#0c1a80" stroke-width="1.50" stroke-linejoin="round"/>
<path d="M152.7 52.4 C153.4 52.0 156.3 52.0 157.0 52.4 C157.7 52.9 157.7 54.8 157.0 55.3 C156.3 55.8 153.4 55.8 152.7 55.3 C152.0 54.8 152.0 52.9 152.7 52.4 Z" fill="#0c1a80" stroke="#0c1a80" stroke-width="1.50" stroke-linejoin="round"/>
<path d="M132.5 80.7 C133.4 80.1 137.2 79.9 138.3 80.4 C139.3 80.9 139.7 83.0 138.9 83.5 C138.0 84.1 134.2 84.3 133.1 83.8 C132.0 83.4 131.7 81.2 132.5 80.7 Z" fill="none" stroke="#0c1a80" stroke-width="1.50" stroke-linejoin="round"/>
<text x="105.2" y="43.8" font-size="9.6" text-anchor="middle" transform="rotate(-12.0 105.2 43.8)" dy="3.4">0.005</text>
<text x="138.3" y="67.1" font-size="9.6" text-anchor="middle" transform="rotate(0.0 138.3 67.1)" dy="3.4">0.005</text>
<use href="#coast"/>
</g>
<rect x="2.6" y="2.4" width="24.2" height="19.6" fill="#fff"/>
<text x="6.6" y="15.7" font-size="11.5">b2)</text>
<rect x="1" y="1" width="206" height="105" fill="none" stroke="#000" stroke-width="2"/>
</g>
<g transform="translate(508 138.87)">
<g clip-path="url(#cp)">
<rect x="0" y="0" width="208" height="107" fill="#9cb4ff"/>
<path d="M-1.4 24.5 C0.7 18.2 7.7 23.3 11.5 23.8 C15.4 24.2 18.2 24.1 21.6 27.4 C25.0 30.6 29.0 39.7 31.7 43.2 C34.4 46.8 39.4 47.2 37.7 48.7 C36.1 50.1 26.5 50.4 21.6 51.9 C16.8 53.3 12.5 56.1 8.6 57.6 C4.8 59.2 0.2 66.7 -1.4 61.2 C-3.1 55.7 -3.6 30.7 -1.4 24.5 Z" fill="#7092ff"/>
<path d="M78.5 57.6 C79.2 55.7 81.3 54.1 83.5 53.3 C85.8 52.5 90.4 51.9 92.2 52.6 C94.0 53.3 94.1 55.3 94.4 57.6 C94.6 59.9 95.0 64.8 93.6 66.3 C92.3 67.8 88.8 66.8 86.4 66.6 C84.0 66.3 80.5 66.3 79.2 64.8 C77.9 63.3 77.8 59.5 78.5 57.6 Z" fill="#7092ff"/>
<path d="M-1.4 38.2 C0.7 36.1 8.9 37.8 11.5 38.9 C14.2 40.0 14.4 42.7 14.4 44.7 C14.4 46.6 14.2 49.6 11.5 50.7 C8.9 51.8 0.7 53.2 -1.4 51.1 C-3.6 49.0 -3.6 40.2 -1.4 38.2 Z" fill="#4571ff"/>
<g clip-path="url(#lc)"><rect x="0" y="0" width="208" height="107" fill="#c8d5ff"/>
<path d="M90.0 52.0 C92.3 42.3 97.3 50.3 104.0 50.0 C110.7 49.7 122.3 49.7 130.0 50.0 C137.7 50.3 145.0 51.3 150.0 52.0 C155.0 52.7 157.3 52.7 160.0 54.0 C162.7 55.3 165.5 57.0 166.0 60.0 C166.5 63.0 164.0 67.8 163.0 72.0 C162.0 76.2 159.5 79.0 160.0 85.0 C160.5 91.0 177.7 104.2 166.0 108.0 C154.3 111.8 102.7 117.3 90.0 108.0 C77.3 98.7 87.7 61.7 90.0 52.0 Z" fill="#9cb4ff"/>
<path d="M90.0 50.0 C103.0 46.7 155.0 46.7 168.0 50.0 C181.0 53.3 181.0 66.7 168.0 70.0 C155.0 73.3 103.0 73.3 90.0 70.0 C77.0 66.7 77.0 53.3 90.0 50.0 Z" fill="#c8d5ff" filter="url(#f19)"/>
<path d="M90.0 68.0 C103.0 61.3 155.0 61.3 168.0 68.0 C181.0 74.7 181.0 101.3 168.0 108.0 C155.0 114.7 103.0 114.7 90.0 108.0 C77.0 101.3 77.0 74.7 90.0 68.0 Z" fill="#c8d5ff" filter="url(#f20)"/>
<path d="M18.7 24.5 C21.8 25.4 30.0 31.5 36.0 34.6 C42.0 37.7 48.7 42.0 54.7 43.2 C60.7 44.4 67.7 41.8 72.0 41.8 C76.3 41.8 80.7 42.5 80.7 43.2 C80.7 43.9 76.3 45.4 72.0 46.1 C67.7 46.8 60.5 47.3 54.7 47.5 C49.0 47.8 42.3 48.7 37.5 47.5 C32.7 46.3 29.3 43.5 25.9 40.3 C22.6 37.2 18.5 31.5 17.3 28.8 C16.1 26.2 15.6 23.5 18.7 24.5 Z" fill="#ffffff" filter="url(#f21)"/>
<path d="M89.3 38.9 C91.3 36.3 101.6 33.9 104.0 38.9 C106.5 43.9 105.5 64.1 104.0 69.1 C102.5 74.2 97.0 71.5 95.1 69.1 C93.1 66.7 93.2 59.8 92.2 54.7 C91.2 49.7 87.3 41.5 89.3 38.9 Z" fill="#ffffff" filter="url(#f22)"/>
<path d="M108.3 15.8 C110.0 15.0 114.8 14.8 118.4 13.7 C122.0 12.6 127.3 10.3 129.9 9.4 C132.6 8.4 132.3 7.6 134.3 7.9 C136.2 8.3 138.8 11.0 141.5 11.5 C144.1 12.0 147.2 11.2 150.1 10.8 C153.0 10.4 155.4 9.8 158.7 9.4 C162.1 8.9 168.0 7.7 170.3 7.9 C172.5 8.2 173.4 9.7 172.4 10.8 C171.5 11.9 167.5 13.6 164.5 14.4 C161.5 15.2 157.3 15.2 154.4 15.8 C151.5 16.4 149.6 18.0 147.2 18.0 C144.8 18.0 142.4 16.4 140.0 15.8 C137.6 15.2 135.5 14.3 132.8 14.4 C130.2 14.5 127.5 15.8 124.2 16.6 C120.8 17.3 115.3 18.4 112.6 18.7 C110.0 19.1 109.0 19.2 108.3 18.7 C107.6 18.2 106.6 16.7 108.3 15.8 Z" fill="#ffffff"/>
<path d="M104.0 38.9 C105.4 36.4 109.5 37.5 112.6 37.5 C115.8 37.5 119.4 39.0 122.7 38.9 C126.1 38.8 129.9 36.5 132.8 36.7 C135.7 37.0 137.6 38.5 140.0 40.3 C142.4 42.1 144.8 46.0 147.2 47.5 C149.6 49.1 152.0 48.7 154.4 49.7 C156.8 50.7 160.9 52.3 161.6 53.3 C162.3 54.3 161.1 55.7 158.7 55.9 C156.3 56.1 150.3 55.2 147.2 54.7 C144.1 54.3 142.4 53.2 140.0 53.3 C137.6 53.4 135.2 55.0 132.8 55.5 C130.4 55.9 128.0 56.4 125.6 56.2 C123.2 55.9 120.8 54.5 118.4 54.0 C116.0 53.5 113.6 53.5 111.2 53.3 C108.8 53.1 105.2 55.0 104.0 52.6 C102.8 50.2 102.6 41.4 104.0 38.9 Z" fill="#ffffff" filter="url(#f23)"/>
<path d="M112.6 40.3 C114.3 39.6 121.1 40.8 122.7 41.8 C124.4 42.7 124.4 45.4 122.7 46.1 C121.1 46.8 114.3 47.1 112.6 46.1 C111.0 45.1 111.0 41.1 112.6 40.3 Z" fill="#ffc6c6" filter="url(#f24)"/>
<path d="M104.0 52.6 C107.4 52.3 113.6 52.9 118.4 53.3 C123.2 53.7 128.0 54.4 132.8 54.7 C137.6 55.1 142.4 55.2 147.2 55.5 C152.0 55.7 158.7 54.9 161.6 56.2 C164.5 57.5 165.0 61.2 164.5 63.4 C164.0 65.5 160.9 67.2 158.7 69.1 C156.6 71.1 153.9 73.7 151.5 74.9 C149.1 76.1 146.5 76.8 144.3 76.3 C142.2 75.9 141.7 72.7 138.6 72.0 C135.5 71.3 129.0 72.5 125.6 72.0 C122.3 71.5 121.1 69.9 118.4 69.1 C115.8 68.4 112.2 68.2 109.8 67.7 C107.4 67.2 105.5 66.5 104.0 66.3 C102.5 66.0 101.8 68.2 100.8 66.3 C99.8 64.3 97.4 57.0 98.0 54.7 C98.5 52.5 100.6 52.8 104.0 52.6 Z" fill="#9cb4ff"/>
<path d="M104.0 51.9 C105.4 50.5 109.8 52.1 112.6 52.6 C115.5 53.1 117.0 53.9 121.3 54.7 C125.6 55.6 139.1 56.7 138.6 57.6 C138.1 58.6 123.2 59.9 118.4 60.5 C113.6 61.1 112.2 61.2 109.8 61.2 C107.4 61.2 105.0 62.1 104.0 60.5 C103.0 58.9 102.6 53.2 104.0 51.9 Z" fill="#7092ff"/>
<path d="M104.0 53.3 C108.8 52.1 123.2 54.3 132.8 54.7 C142.4 55.2 156.8 55.0 161.6 56.2 C166.4 57.4 166.4 61.0 161.6 61.9 C156.8 62.9 142.4 61.9 132.8 61.9 C123.2 61.9 108.8 63.4 104.0 61.9 C99.2 60.5 99.2 54.5 104.0 53.3 Z" fill="#7092ff" filter="url(#f25)"/>
<path d="M180.4 46.1 C180.8 44.3 183.2 43.7 184.7 43.9 C186.1 44.2 188.0 46.2 189.0 47.5 C190.0 48.9 190.9 50.4 190.4 51.9 C190.0 53.3 187.6 55.7 186.1 56.2 C184.7 56.7 182.8 56.4 181.8 54.7 C180.8 53.1 179.9 47.9 180.4 46.1 Z" fill="#ffffff"/>
<path d="M176.0 33.1 C177.5 31.9 183.2 31.9 184.7 33.1 C186.1 34.3 186.1 39.1 184.7 40.3 C183.2 41.5 177.5 41.5 176.0 40.3 C174.6 39.1 174.6 34.3 176.0 33.1 Z" fill="#ffffff" filter="url(#f26)"/>
<path d="M181.8 86.4 C184.2 81.9 188.8 82.1 193.3 80.7 C197.9 79.2 206.5 73.2 209.2 77.8 C211.8 82.3 214.2 103.0 209.2 108.0 C204.1 113.1 183.5 111.6 178.9 108.0 C174.3 104.4 179.4 91.0 181.8 86.4 Z" fill="#9cb4ff"/></g><use href="#lakes3" fill="#9cb4ff"/>
<use href="#coast"/>
</g>
<rect x="2.6" y="2.4" width="24.2" height="19.6" fill="#fff"/>
<text x="6.6" y="15.7" font-size="11.5">c2)</text>
<rect x="1" y="1" width="206" height="105" fill="none" stroke="#000" stroke-width="2"/>
</g>
<text transform="translate(8.3 314.2) rotate(-90)" font-size="10.5" text-anchor="middle">GFED</text>
<g transform="translate(40 260.74)">
<g clip-path="url(#cp)">
<rect x="0" y="0" width="208" height="107" fill="#3d6bff"/>
<path d="M87.9 0.0 C93.6 -1.1 121.2 -1.1 126.8 0.0 C132.3 1.1 126.8 5.3 121.0 6.3 C115.2 7.4 97.7 7.4 92.2 6.3 C86.7 5.3 82.1 1.1 87.9 0.0 Z" fill="#1950ff"/>
<path d="M0.0 24.5 C1.9 19.4 7.7 22.3 11.5 23.0 C15.4 23.8 19.2 26.6 23.0 28.8 C26.9 31.0 33.6 33.6 34.6 36.0 C35.5 38.4 31.7 41.1 28.8 43.2 C25.9 45.4 21.1 47.5 17.3 49.0 C13.4 50.4 8.6 51.1 5.8 51.9 C2.9 52.6 1.0 57.9 0.0 53.3 C-1.0 48.7 -1.9 29.5 0.0 24.5 Z" fill="#6086ff"/>
<path d="M46.1 40.3 C47.1 38.7 51.9 37.5 54.7 37.5 C57.6 37.5 62.9 38.9 63.4 40.3 C63.9 41.8 60.0 44.9 57.6 46.1 C55.2 47.3 50.9 48.5 49.0 47.5 C47.1 46.6 45.1 42.0 46.1 40.3 Z" fill="#6086ff"/>
<path d="M70.6 63.4 C70.1 60.7 70.6 56.2 72.0 53.3 C73.5 50.4 76.8 48.5 79.2 46.1 C81.6 43.7 83.3 41.1 86.4 38.9 C89.6 36.7 93.2 34.8 98.0 33.1 C102.8 31.5 109.5 29.8 115.2 28.8 C121.0 27.8 128.2 26.9 132.5 27.4 C136.8 27.8 139.2 29.3 141.2 31.7 C143.1 34.1 142.1 39.4 144.1 41.8 C146.0 44.2 150.2 44.7 152.7 46.1 C155.2 47.5 159.0 49.2 159.0 50.4 C159.0 51.6 155.7 52.6 152.7 53.3 C149.7 54.0 144.5 53.5 141.2 54.7 C137.8 55.9 135.9 58.6 132.5 60.5 C129.2 62.4 125.3 64.8 121.0 66.3 C116.7 67.7 112.4 68.4 106.6 69.1 C100.8 69.9 91.7 70.6 86.4 70.6 C81.1 70.6 77.5 70.3 74.9 69.1 C72.3 67.9 71.1 66.0 70.6 63.4 Z" fill="#6086ff"/>
<path d="M152.7 37.5 C153.7 35.8 158.9 33.4 161.3 33.1 C163.7 32.9 167.1 34.6 167.1 36.0 C167.1 37.5 163.3 40.6 161.3 41.8 C159.4 43.0 157.0 43.9 155.6 43.2 C154.1 42.5 151.7 39.1 152.7 37.5 Z" fill="#6086ff"/>
<path d="M172.9 31.7 C173.8 29.1 176.7 25.9 178.6 24.5 C180.5 23.0 183.2 21.8 184.4 23.0 C185.6 24.2 186.5 29.1 185.8 31.7 C185.1 34.3 182.2 37.5 180.1 38.9 C177.9 40.3 174.1 41.5 172.9 40.3 C171.7 39.1 171.9 34.3 172.9 31.7 Z" fill="#6086ff"/>
<path d="M113.8 40.3 C115.0 38.2 117.9 37.0 121.0 36.0 C124.1 35.1 129.4 34.3 132.5 34.6 C135.6 34.8 138.8 35.5 139.7 37.5 C140.7 39.4 140.4 43.7 138.3 46.1 C136.1 48.5 130.1 50.7 126.8 51.9 C123.4 53.1 120.3 53.8 118.1 53.3 C116.0 52.8 114.5 51.1 113.8 49.0 C113.1 46.8 112.6 42.5 113.8 40.3 Z" fill="#84a1ff"/>
<path d="M129.6 36.9 C130.5 35.9 134.6 35.4 136.0 36.0 C137.3 36.6 138.5 39.4 137.7 40.3 C136.9 41.3 132.4 42.4 131.1 41.8 C129.7 41.2 128.8 37.8 129.6 36.9 Z" fill="#cbd8ff"/>
<path d="M132.5 37.2 C133.0 36.8 134.9 36.8 135.4 37.2 C135.9 37.5 135.9 39.1 135.4 39.5 C134.9 39.9 133.0 39.9 132.5 39.5 C132.0 39.1 132.0 37.5 132.5 37.2 Z" fill="#ffcdcd"/>
<path d="M186.7 56.2 C187.2 55.2 189.1 55.2 189.6 56.2 C190.1 57.1 190.1 61.0 189.6 61.9 C189.1 62.9 187.2 62.9 186.7 61.9 C186.2 61.0 186.2 57.1 186.7 56.2 Z" fill="#1950ff"/>
<use href="#coast"/>
</g>
<rect x="2.6" y="2.4" width="24.2" height="19.6" fill="#fff"/>
<text x="6.6" y="15.7" font-size="11.5">a3)</text>
<rect x="1" y="1" width="206" height="105" fill="none" stroke="#000" stroke-width="2"/>
<line x1="-3.8" x2="0" y1="9.35" y2="9.35" stroke="#000" stroke-width="1.7"/>
<text x="-7.3" y="12.75" font-size="9.6" text-anchor="end">15°N</text>
<line x1="-3.8" x2="0" y1="25.80" y2="25.80" stroke="#000" stroke-width="1.7"/>
<text x="-7.3" y="29.20" font-size="9.6" text-anchor="end">10°N</text>
<line x1="-3.8" x2="0" y1="42.60" y2="42.60" stroke="#000" stroke-width="1.7"/>
<text x="-7.3" y="46.00" font-size="9.6" text-anchor="end">5°N</text>
<line x1="-3.8" x2="0" y1="59.45" y2="59.45" stroke="#000" stroke-width="1.7"/>
<text x="-7.3" y="62.85" font-size="9.6" text-anchor="end">0°</text>
<line x1="-3.8" x2="0" y1="76.90" y2="76.90" stroke="#000" stroke-width="1.7"/>
<text x="-7.3" y="80.30" font-size="9.6" text-anchor="end">5°S</text>
<line x1="-3.8" x2="0" y1="94.80" y2="94.80" stroke="#000" stroke-width="1.7"/>
<text x="-7.3" y="98.20" font-size="9.6" text-anchor="end">10°S</text>
</g>
<g transform="translate(274 260.74)">
<g clip-path="url(#cp)">
<use href="#albedo"/><path d="M89.9 36.9 C89.3 37.5 87.0 38.8 86.4 40.3 C85.9 41.9 86.9 44.2 86.4 46.1 C86.0 48.0 84.7 50.2 83.5 51.9 C82.3 53.5 80.2 54.7 79.2 56.2 C78.3 57.6 77.3 59.2 77.8 60.5 C78.3 61.8 80.2 63.2 82.1 64.0 C84.0 64.7 86.7 64.2 89.3 64.8 C92.0 65.4 95.1 67.5 98.0 67.7 C100.8 67.9 103.7 67.0 106.6 66.3 C109.5 65.5 111.9 64.1 115.2 63.4 C118.6 62.7 122.9 62.4 126.8 61.9 C130.6 61.5 135.6 61.1 138.3 60.5 C141.0 59.9 142.4 58.8 143.2 58.5" fill="none" stroke="#0c1a80" stroke-width="1.50" stroke-linejoin="round"/>
<path d="M112.9 28.8 C114.3 28.6 117.7 27.5 121.0 27.4 C124.3 27.3 129.6 27.5 132.5 28.2 C135.4 29.0 136.4 30.2 138.3 31.7 C140.2 33.2 142.1 35.8 144.1 37.5 C146.0 39.1 148.6 40.3 149.8 41.8 C151.0 43.2 151.6 44.8 151.3 46.1 C150.9 47.4 148.1 49.0 147.5 49.6" fill="none" stroke="#0c1a80" stroke-width="1.50" stroke-linejoin="round"/>
<path d="M113.8 43.2 C114.8 41.1 117.9 38.7 121.0 37.5 C124.1 36.3 129.6 35.5 132.5 36.0 C135.4 36.5 137.3 38.4 138.3 40.3 C139.2 42.3 139.2 45.6 138.3 47.5 C137.3 49.5 135.4 50.9 132.5 51.9 C129.6 52.8 123.9 53.5 121.0 53.3 C118.1 53.1 116.4 52.1 115.2 50.4 C114.0 48.7 112.8 45.4 113.8 43.2 Z" fill="none" stroke="#0c1a80" stroke-width="1.50" stroke-linejoin="round"/>
<path d="M121.0 43.2 C121.2 41.8 125.8 39.4 128.2 38.9 C130.6 38.4 134.2 39.1 135.4 40.3 C136.6 41.5 136.8 44.9 135.4 46.1 C134.0 47.3 129.2 48.0 126.8 47.5 C124.4 47.1 120.8 44.7 121.0 43.2 Z" fill="none" stroke="#0c1a80" stroke-width="1.50" stroke-linejoin="round"/>
<path d="M130.5 36.6 C131.2 36.0 134.6 36.0 135.4 36.6 C136.2 37.2 136.1 39.7 135.4 40.3 C134.7 41.0 131.9 41.0 131.1 40.3 C130.3 39.7 129.8 37.2 130.5 36.6 Z" fill="#0c1a80" stroke="#0c1a80" stroke-width="1.50" stroke-linejoin="round"/>
<path d="M149.8 37.5 C151.0 35.9 155.8 33.7 158.5 33.1 C161.1 32.6 164.7 33.0 165.7 34.0 C166.6 35.0 165.4 37.5 164.2 38.9 C163.0 40.3 160.6 42.0 158.5 42.6 C156.3 43.3 152.7 43.5 151.3 42.6 C149.8 41.8 148.6 39.0 149.8 37.5 Z" fill="none" stroke="#0c1a80" stroke-width="1.50" stroke-linejoin="round"/>
<path d="M172.9 31.7 C173.3 29.7 175.5 27.3 177.2 25.9 C178.9 24.6 181.6 23.1 182.9 23.6 C184.2 24.1 185.2 26.7 185.0 28.8 C184.7 30.9 183.3 34.5 181.5 36.0 C179.7 37.5 175.7 38.7 174.3 38.0 C172.9 37.3 172.4 33.7 172.9 31.7 Z" fill="none" stroke="#0c1a80" stroke-width="1.50" stroke-linejoin="round"/>
<path d="M178.6 27.4 C179.2 26.7 181.5 26.7 182.1 27.4 C182.7 28.0 182.7 30.5 182.1 31.1 C181.5 31.7 179.2 31.7 178.6 31.1 C178.0 30.5 178.0 28.0 178.6 27.4 Z" fill="none" stroke="#0c1a80" stroke-width="1.50" stroke-linejoin="round"/>
<path d="M21.6 28.8 C22.3 28.3 25.0 28.3 25.6 28.8 C26.3 29.3 26.3 31.2 25.6 31.7 C25.0 32.2 22.3 32.2 21.6 31.7 C20.9 31.2 20.9 29.3 21.6 28.8 Z" fill="none" stroke="#0c1a80" stroke-width="1.50" stroke-linejoin="round"/>
<path d="M51.9 37.5 C52.5 37.0 55.2 37.0 55.9 37.5 C56.6 37.9 56.6 39.9 55.9 40.3 C55.2 40.8 52.5 40.8 51.9 40.3 C51.2 39.9 51.2 37.9 51.9 37.5 Z" fill="none" stroke="#0c1a80" stroke-width="1.50" stroke-linejoin="round"/>
<path d="M58.8 38.9 C59.4 38.4 62.1 38.4 62.8 38.9 C63.5 39.4 63.5 41.3 62.8 41.8 C62.1 42.3 59.4 42.3 58.8 41.8 C58.1 41.3 58.1 39.4 58.8 38.9 Z" fill="none" stroke="#0c1a80" stroke-width="1.50" stroke-linejoin="round"/>
<path d="M81.5 29.4 C82.2 28.9 84.9 28.9 85.6 29.4 C86.2 29.9 86.2 31.8 85.6 32.3 C84.9 32.7 82.2 32.7 81.5 32.3 C80.9 31.8 80.9 29.9 81.5 29.4 Z" fill="none" stroke="#0c1a80" stroke-width="1.50" stroke-linejoin="round"/>
<path d="M94.5 46.7 C95.2 46.2 97.9 46.2 98.5 46.7 C99.2 47.2 99.2 49.1 98.5 49.6 C97.9 50.0 95.2 50.0 94.5 49.6 C93.8 49.1 93.8 47.2 94.5 46.7 Z" fill="none" stroke="#0c1a80" stroke-width="1.50" stroke-linejoin="round"/>
<path d="M140.6 43.8 C141.3 43.3 144.0 43.3 144.6 43.8 C145.3 44.3 145.3 46.2 144.6 46.7 C144.0 47.2 141.3 47.2 140.6 46.7 C139.9 46.2 139.9 44.3 140.6 43.8 Z" fill="none" stroke="#0c1a80" stroke-width="1.50" stroke-linejoin="round"/>
<path d="M32.0 33.1 C32.7 32.7 35.3 32.7 36.0 33.1 C36.7 33.6 36.7 35.5 36.0 36.0 C35.3 36.5 32.7 36.5 32.0 36.0 C31.3 35.5 31.3 33.6 32.0 33.1 Z" fill="none" stroke="#0c1a80" stroke-width="1.50" stroke-linejoin="round"/>
<text x="100.8" y="33.1" font-size="9.6" text-anchor="middle" transform="rotate(-20.0 100.8 33.1)" dy="3.4">0.005</text>
<text x="156.4" y="52.7" font-size="9.6" text-anchor="middle" transform="rotate(-10.0 156.4 52.7)" dy="3.4">0.005</text>
<use href="#coast"/>
</g>
<rect x="2.6" y="2.4" width="24.2" height="19.6" fill="#fff"/>
<text x="6.6" y="15.7" font-size="11.5">b3)</text>
<rect x="1" y="1" width="206" height="105" fill="none" stroke="#000" stroke-width="2"/>
</g>
<g transform="translate(508 260.74)">
<g clip-path="url(#cp)">
<rect x="0" y="0" width="208" height="107" fill="#9cb4ff"/>
<path d="M-1.4 30.3 C0.7 25.0 7.7 29.1 11.5 29.5 C15.4 30.0 18.2 30.9 21.6 33.1 C25.0 35.4 29.0 40.6 31.7 43.2 C34.4 45.8 39.4 47.2 37.7 48.7 C36.1 50.1 26.5 50.4 21.6 51.9 C16.8 53.3 12.5 56.1 8.6 57.6 C4.8 59.2 0.2 65.8 -1.4 61.2 C-3.1 56.7 -3.6 35.5 -1.4 30.3 Z" fill="#7092ff"/>
<path d="M78.5 57.6 C79.2 55.7 81.3 54.1 83.5 53.3 C85.8 52.5 90.4 51.9 92.2 52.6 C94.0 53.3 94.1 55.3 94.4 57.6 C94.6 59.9 95.0 64.8 93.6 66.3 C92.3 67.8 88.8 66.8 86.4 66.6 C84.0 66.3 80.5 66.3 79.2 64.8 C77.9 63.3 77.8 59.5 78.5 57.6 Z" fill="#7092ff"/>
<path d="M-1.4 43.2 C-0.2 42.1 4.1 43.3 5.8 43.9 C7.4 44.5 8.6 45.8 8.6 46.8 C8.6 47.8 7.4 49.4 5.8 50.0 C4.1 50.6 -0.2 51.5 -1.4 50.4 C-2.6 49.3 -2.6 44.3 -1.4 43.2 Z" fill="#4571ff"/>
<g clip-path="url(#lc)"><rect x="0" y="0" width="208" height="107" fill="#c8d5ff"/>
<path d="M90.0 52.0 C92.3 42.3 97.3 50.3 104.0 50.0 C110.7 49.7 122.3 49.7 130.0 50.0 C137.7 50.3 145.0 51.3 150.0 52.0 C155.0 52.7 157.3 52.7 160.0 54.0 C162.7 55.3 165.5 57.0 166.0 60.0 C166.5 63.0 164.0 67.8 163.0 72.0 C162.0 76.2 159.5 79.0 160.0 85.0 C160.5 91.0 177.7 104.2 166.0 108.0 C154.3 111.8 102.7 117.3 90.0 108.0 C77.3 98.7 87.7 61.7 90.0 52.0 Z" fill="#9cb4ff"/>
<path d="M90.0 50.0 C103.0 46.7 155.0 46.7 168.0 50.0 C181.0 53.3 181.0 66.7 168.0 70.0 C155.0 73.3 103.0 73.3 90.0 70.0 C77.0 66.7 77.0 53.3 90.0 50.0 Z" fill="#c8d5ff" filter="url(#f27)"/>
<path d="M90.0 68.0 C103.0 61.3 155.0 61.3 168.0 68.0 C181.0 74.7 181.0 101.3 168.0 108.0 C155.0 114.7 103.0 114.7 90.0 108.0 C77.0 101.3 77.0 74.7 90.0 68.0 Z" fill="#c8d5ff" filter="url(#f28)"/>
<path d="M27.4 2.9 C33.9 1.9 59.8 1.9 66.3 2.9 C72.7 3.8 72.7 7.7 66.3 8.6 C59.8 9.6 33.9 9.6 27.4 8.6 C20.9 7.7 20.9 3.8 27.4 2.9 Z" fill="#ffffff" filter="url(#f29)"/>
<path d="M93.6 11.5 C95.4 10.8 102.3 10.8 104.0 11.5 C105.7 12.2 105.7 15.1 104.0 15.8 C102.3 16.6 95.4 16.6 93.6 15.8 C91.9 15.1 91.9 12.2 93.6 11.5 Z" fill="#ffffff" filter="url(#f30)"/>
<path d="M21.6 25.9 C26.4 26.6 40.6 34.8 50.4 37.5 C60.3 40.1 75.6 40.3 80.7 41.8 C85.7 43.2 85.7 45.4 80.7 46.1 C75.6 46.8 59.1 46.8 50.4 46.1 C41.8 45.4 33.6 43.9 28.8 41.8 C24.0 39.6 22.8 35.8 21.6 33.1 C20.4 30.5 16.8 25.2 21.6 25.9 Z" fill="#ffffff" filter="url(#f31)"/>
<path d="M86.4 31.7 C88.9 27.8 101.1 25.4 104.0 31.7 C106.9 37.9 105.7 62.9 104.0 69.1 C102.3 75.4 96.1 71.5 93.6 69.1 C91.2 66.7 90.5 61.0 89.3 54.7 C88.1 48.5 84.0 35.5 86.4 31.7 Z" fill="#ffffff" filter="url(#f32)"/>
<path d="M95.1 40.3 C96.3 38.4 102.5 38.4 104.0 40.3 C105.5 42.3 105.3 49.9 104.0 51.9 C102.8 53.8 98.0 53.8 96.5 51.9 C95.0 49.9 93.8 42.3 95.1 40.3 Z" fill="#ff9e9e" filter="url(#f33)"/>
<path d="M104.0 8.6 C106.4 7.0 113.6 6.6 118.4 5.8 C123.2 4.9 125.6 4.1 132.8 3.6 C140.0 3.1 153.0 3.0 161.6 2.9 C170.3 2.8 180.8 1.9 184.7 2.9 C188.5 3.8 187.1 7.4 184.7 8.6 C182.3 9.8 174.1 9.1 170.3 10.1 C166.4 11.0 165.5 13.4 161.6 14.4 C157.8 15.4 152.0 15.8 147.2 15.8 C142.4 15.8 137.6 14.6 132.8 14.4 C128.0 14.2 123.2 14.2 118.4 14.4 C113.6 14.6 106.4 16.8 104.0 15.8 C101.6 14.9 101.6 10.3 104.0 8.6 Z" fill="#ffffff"/>
<path d="M138.6 10.8 C139.5 10.0 142.4 10.2 147.2 10.1 C152.0 10.0 164.0 9.4 167.4 10.1 C170.7 10.8 170.0 13.4 167.4 14.4 C164.7 15.4 155.9 15.7 151.5 15.8 C147.2 16.0 143.6 16.0 141.5 15.1 C139.3 14.3 137.6 11.6 138.6 10.8 Z" fill="#ffc6c6"/>
<path d="M104.0 30.3 C106.4 26.6 113.6 28.1 118.4 27.4 C123.2 26.6 128.7 25.7 132.8 25.9 C136.9 26.2 140.5 27.6 142.9 28.8 C145.3 30.0 144.1 32.8 147.2 33.1 C150.3 33.5 158.5 31.7 161.6 31.0 C164.7 30.3 164.0 29.4 165.9 28.8 C167.9 28.2 170.5 28.6 173.1 27.4 C175.8 26.2 179.4 22.1 181.8 21.6 C184.2 21.1 186.1 22.6 187.6 24.5 C189.0 26.4 190.0 29.3 190.4 33.1 C190.9 37.0 191.4 43.7 190.4 47.5 C189.5 51.4 187.1 55.0 184.7 56.2 C182.3 57.4 178.9 54.5 176.0 54.7 C173.1 55.0 170.3 57.9 167.4 57.6 C164.5 57.4 162.1 54.0 158.7 53.3 C155.4 52.6 150.3 53.8 147.2 53.3 C144.1 52.8 143.6 51.1 140.0 50.4 C136.4 49.7 130.4 49.1 125.6 49.0 C120.8 48.9 114.8 49.7 111.2 49.7 C107.6 49.7 105.2 52.2 104.0 49.0 C102.8 45.7 101.6 33.9 104.0 30.3 Z" fill="#ffffff"/>
<path d="M165.9 31.7 C169.8 28.6 186.4 26.2 190.4 28.8 C194.5 31.5 194.3 44.4 190.4 47.5 C186.6 50.7 171.5 50.2 167.4 47.5 C163.3 44.9 162.1 34.8 165.9 31.7 Z" fill="#c8d5ff" filter="url(#f34)"/>
<path d="M104.0 36.0 C105.4 33.4 109.0 32.7 112.6 31.7 C116.2 30.7 121.5 30.3 125.6 30.3 C129.7 30.3 134.0 30.5 137.1 31.7 C140.3 32.9 142.9 35.3 144.3 37.5 C145.8 39.6 146.5 42.7 145.8 44.7 C145.1 46.6 142.7 47.3 140.0 49.0 C137.4 50.7 133.5 54.3 129.9 54.7 C126.3 55.2 121.8 52.8 118.4 51.9 C115.0 50.9 112.2 49.7 109.8 49.0 C107.4 48.3 105.0 49.7 104.0 47.5 C103.0 45.4 102.6 38.7 104.0 36.0 Z" fill="#ffc6c6"/>
<path d="M109.8 38.9 C113.1 37.1 128.5 37.2 132.8 38.9 C137.1 40.6 139.1 47.2 135.7 49.0 C132.3 50.8 117.0 51.4 112.6 49.7 C108.3 48.0 106.4 40.7 109.8 38.9 Z" fill="#ff9e9e" filter="url(#f35)"/>
<path d="M178.9 24.5 C179.6 23.3 182.5 23.3 183.2 24.5 C184.0 25.7 184.0 30.5 183.2 31.7 C182.5 32.9 179.6 32.9 178.9 31.7 C178.2 30.5 178.2 25.7 178.9 24.5 Z" fill="#ff9e9e" filter="url(#f36)"/>
<path d="M104.0 49.0 C108.6 48.1 119.6 49.3 125.6 49.7 C131.6 50.1 135.7 50.5 140.0 51.1 C144.3 51.7 147.9 52.5 151.5 53.3 C155.1 54.1 159.7 54.5 161.6 56.2 C163.5 57.9 163.5 60.7 163.1 63.4 C162.6 66.0 161.4 69.9 158.7 72.0 C156.1 74.2 151.5 75.9 147.2 76.3 C142.9 76.8 137.6 75.6 132.8 74.9 C128.0 74.2 123.2 73.0 118.4 72.0 C113.6 71.1 106.9 69.6 104.0 69.1 C101.1 68.7 101.8 71.5 100.8 69.1 C99.8 66.7 97.4 58.1 98.0 54.7 C98.5 51.4 99.4 49.8 104.0 49.0 Z" fill="#9cb4ff"/>
<path d="M109.8 64.8 C111.9 62.9 120.5 62.9 122.7 64.8 C125.0 66.7 125.6 74.4 123.5 76.3 C121.3 78.3 112.0 78.3 109.8 76.3 C107.5 74.4 107.6 66.7 109.8 64.8 Z" fill="#ffffff" filter="url(#f37)"/>
<path d="M181.8 86.4 C184.2 81.9 188.8 82.1 193.3 80.7 C197.9 79.2 206.5 73.2 209.2 77.8 C211.8 82.3 214.2 103.0 209.2 108.0 C204.1 113.1 183.5 111.6 178.9 108.0 C174.3 104.4 179.4 91.0 181.8 86.4 Z" fill="#9cb4ff"/></g><use href="#lakes3" fill="#9cb4ff"/>
<use href="#coast"/>
</g>
<rect x="2.6" y="2.4" width="24.2" height="19.6" fill="#fff"/>
<text x="6.6" y="15.7" font-size="11.5">c3)</text>
<rect x="1" y="1" width="206" height="105" fill="none" stroke="#000" stroke-width="2"/>
</g>
<text transform="translate(8.3 436.1) rotate(-90)" font-size="10.5" text-anchor="middle">FEER-SEVIRI</text>
<g transform="translate(40 382.61)">
<g clip-path="url(#cp)">
<rect x="0" y="0" width="208" height="107" fill="#3d6bff"/>
<path d="M0.0 28.8 C2.9 23.0 11.0 24.5 17.3 23.0 C23.5 21.6 30.7 20.9 37.5 20.2 C44.2 19.4 50.4 18.7 57.6 18.7 C64.8 18.7 74.4 19.7 80.7 20.2 C86.9 20.6 89.3 20.6 95.1 21.6 C100.8 22.6 109.5 25.0 115.2 25.9 C121.0 26.9 123.9 26.4 129.6 27.4 C135.4 28.3 143.6 31.5 149.8 31.7 C156.1 31.9 162.8 30.0 167.1 28.8 C171.4 27.6 173.1 25.4 175.7 24.5 C178.4 23.5 181.5 22.3 182.9 23.0 C184.4 23.8 185.6 26.9 184.4 28.8 C183.2 30.7 178.1 32.7 175.7 34.6 C173.3 36.5 171.9 38.4 170.0 40.3 C168.1 42.3 165.7 43.7 164.2 46.1 C162.8 48.5 163.3 52.3 161.3 54.7 C159.4 57.1 156.1 58.6 152.7 60.5 C149.3 62.4 144.1 63.4 141.2 66.3 C138.3 69.1 138.8 76.3 135.4 77.8 C132.0 79.2 126.3 76.1 121.0 74.9 C115.7 73.7 109.5 71.5 103.7 70.6 C98.0 69.6 92.7 69.6 86.4 69.1 C80.2 68.7 73.5 68.4 66.3 67.7 C59.1 67.0 50.4 66.0 43.2 64.8 C36.0 63.6 28.8 61.7 23.0 60.5 C17.3 59.3 12.5 58.1 8.6 57.6 C4.8 57.1 1.4 62.4 0.0 57.6 C-1.4 52.8 -2.9 34.6 0.0 28.8 Z" fill="#6086ff"/>
<path d="M0.0 34.6 C2.9 32.2 11.0 32.9 17.3 31.7 C23.5 30.5 30.7 28.6 37.5 27.4 C44.2 26.2 50.4 25.0 57.6 24.5 C64.8 24.0 73.9 23.8 80.7 24.5 C87.4 25.2 92.2 27.4 98.0 28.8 C103.7 30.3 110.0 32.2 115.2 33.1 C120.5 34.1 125.8 33.9 129.6 34.6 C133.5 35.3 136.4 35.8 138.3 37.5 C140.2 39.1 142.1 43.0 141.2 44.7 C140.2 46.3 136.8 46.8 132.5 47.5 C128.2 48.3 120.5 48.0 115.2 49.0 C110.0 49.9 105.6 51.9 100.8 53.3 C96.0 54.7 91.2 56.2 86.4 57.6 C81.6 59.1 77.3 61.5 72.0 61.9 C66.7 62.4 60.5 61.7 54.7 60.5 C49.0 59.3 43.2 56.7 37.5 54.7 C31.7 52.8 26.4 50.4 20.2 49.0 C13.9 47.5 3.4 48.5 0.0 46.1 C-3.4 43.7 -2.9 37.0 0.0 34.6 Z" fill="#84a1ff"/>
<path d="M34.6 40.3 C36.0 38.2 42.3 35.1 46.1 33.1 C49.9 31.2 52.8 30.0 57.6 28.8 C62.4 27.6 69.6 25.9 74.9 25.9 C80.2 25.9 85.5 26.9 89.3 28.8 C93.2 30.7 95.6 34.6 98.0 37.5 C100.4 40.3 101.8 43.7 103.7 46.1 C105.6 48.5 110.4 50.7 109.5 51.9 C108.5 53.1 101.8 53.1 98.0 53.3 C94.1 53.5 90.3 52.8 86.4 53.3 C82.6 53.8 79.2 55.7 74.9 56.2 C70.6 56.7 64.8 56.9 60.5 56.2 C56.2 55.5 52.8 53.5 49.0 51.9 C45.1 50.2 39.9 48.0 37.5 46.1 C35.1 44.2 33.1 42.5 34.6 40.3 Z" fill="#a8bcff"/>
<path d="M40.3 40.3 C41.8 38.7 48.0 36.3 51.9 34.6 C55.7 32.9 59.1 31.3 63.4 30.3 C67.7 29.2 73.9 28.0 77.8 28.2 C81.6 28.5 84.0 29.7 86.4 31.7 C88.8 33.7 91.7 37.9 92.2 40.3 C92.7 42.7 91.7 44.4 89.3 46.1 C86.9 47.8 82.1 49.2 77.8 50.4 C73.5 51.6 67.7 53.5 63.4 53.3 C59.1 53.1 55.2 50.4 51.9 49.0 C48.5 47.5 45.1 46.1 43.2 44.7 C41.3 43.2 38.9 42.0 40.3 40.3 Z" fill="#cbd8ff"/>
<path d="M54.7 37.5 C55.9 35.5 60.0 34.6 63.4 33.1 C66.7 31.7 71.5 29.5 74.9 28.8 C78.3 28.1 81.6 28.1 83.5 28.8 C85.5 29.5 85.5 31.2 86.4 33.1 C87.4 35.1 89.3 38.4 89.3 40.3 C89.3 42.3 88.8 43.5 86.4 44.7 C84.0 45.9 78.7 46.8 74.9 47.5 C71.1 48.3 66.5 49.5 63.4 49.0 C60.3 48.5 57.6 46.6 56.2 44.7 C54.7 42.7 53.5 39.4 54.7 37.5 Z" fill="#ffcdcd"/>
<path d="M59.1 37.5 C59.8 35.9 63.1 35.0 66.3 34.0 C69.4 33.0 74.7 31.7 77.8 31.7 C80.9 31.7 83.3 32.6 85.0 34.0 C86.7 35.4 88.1 38.7 87.9 40.3 C87.6 42.0 86.2 43.1 83.5 43.8 C80.9 44.5 75.6 44.8 72.0 44.7 C68.4 44.6 64.1 44.4 61.9 43.2 C59.8 42.0 58.3 39.0 59.1 37.5 Z" fill="#ffa8a8"/>
<path d="M61.9 37.5 C62.4 36.1 63.6 35.4 66.3 34.6 C68.9 33.7 74.7 32.3 77.8 32.3 C80.9 32.3 83.5 33.2 85.0 34.6 C86.4 35.9 86.9 38.9 86.4 40.3 C86.0 41.8 84.5 42.6 82.1 43.2 C79.7 43.8 75.1 43.9 72.0 43.8 C68.9 43.7 65.1 43.7 63.4 42.6 C61.7 41.6 61.5 38.8 61.9 37.5 Z" fill="#ff8383" filter="url(#f38)"/>
<path d="M74.3 36.0 C75.2 35.1 78.6 34.7 80.1 35.1 C81.6 35.6 83.8 37.8 83.5 38.9 C83.3 40.0 79.8 41.5 78.4 41.8 C76.9 42.0 75.6 41.3 74.9 40.3 C74.2 39.4 73.5 36.9 74.3 36.0 Z" fill="#ff5e5e" filter="url(#f39)"/>
<path d="M119.6 42.6 C121.1 42.0 128.0 41.3 129.6 41.8 C131.3 42.3 131.2 44.9 129.6 45.5 C128.1 46.1 122.1 46.0 120.4 45.5 C118.7 45.0 118.0 43.3 119.6 42.6 Z" fill="#a8bcff"/>
<path d="M155.6 34.6 C157.5 33.8 166.6 32.4 168.5 33.1 C170.5 33.9 169.0 38.1 167.1 38.9 C165.2 39.7 158.9 38.7 157.0 38.0 C155.1 37.3 153.7 35.4 155.6 34.6 Z" fill="#84a1ff"/>
<use href="#coast"/>
</g>
<rect x="2.6" y="2.4" width="24.2" height="19.6" fill="#fff"/>
<text x="6.6" y="15.7" font-size="11.5">a4)</text>
<rect x="1" y="1" width="206" height="105" fill="none" stroke="#000" stroke-width="2"/>
<line x1="-3.8" x2="0" y1="9.35" y2="9.35" stroke="#000" stroke-width="1.7"/>
<text x="-7.3" y="12.75" font-size="9.6" text-anchor="end">15°N</text>
<line x1="-3.8" x2="0" y1="25.80" y2="25.80" stroke="#000" stroke-width="1.7"/>
<text x="-7.3" y="29.20" font-size="9.6" text-anchor="end">10°N</text>
<line x1="-3.8" x2="0" y1="42.60" y2="42.60" stroke="#000" stroke-width="1.7"/>
<text x="-7.3" y="46.00" font-size="9.6" text-anchor="end">5°N</text>
<line x1="-3.8" x2="0" y1="59.45" y2="59.45" stroke="#000" stroke-width="1.7"/>
<text x="-7.3" y="62.85" font-size="9.6" text-anchor="end">0°</text>
<line x1="-3.8" x2="0" y1="76.90" y2="76.90" stroke="#000" stroke-width="1.7"/>
<text x="-7.3" y="80.30" font-size="9.6" text-anchor="end">5°S</text>
<line x1="-3.8" x2="0" y1="94.80" y2="94.80" stroke="#000" stroke-width="1.7"/>
<text x="-7.3" y="98.20" font-size="9.6" text-anchor="end">10°S</text>
</g>
<g transform="translate(274 382.61)">
<g clip-path="url(#cp)">
<use href="#albedo"/><path d="M0.0 42.5 C2.4 42.6 10.3 42.4 14.4 43.2 C18.5 44.1 21.8 45.6 24.5 47.5 C27.1 49.5 28.1 52.6 30.3 54.7 C32.4 56.9 34.8 58.7 37.5 60.5 C40.1 62.3 43.5 64.3 46.1 65.5 C48.7 66.7 52.1 67.3 53.3 67.7" fill="none" stroke="#0c1a80" stroke-width="1.50" stroke-linejoin="round"/>
<path d="M76.3 56.9 C78.0 57.0 83.8 57.6 86.4 57.6 C89.1 57.6 91.2 57.0 92.2 56.9" fill="none" stroke="#0c1a80" stroke-width="1.50" stroke-linejoin="round"/>
<path d="M61.9 66.3 C64.1 67.0 70.8 69.9 74.9 70.6 C79.0 71.3 83.3 71.1 86.4 70.6 C89.6 70.1 91.7 68.9 93.6 67.7 C95.6 66.5 97.2 64.1 98.0 63.4" fill="none" stroke="#0c1a80" stroke-width="1.50" stroke-linejoin="round"/>
<path d="M15.8 30.3 C15.6 31.0 13.7 33.4 14.4 34.6 C15.1 35.8 18.0 36.5 20.2 37.5 C22.3 38.4 25.0 39.1 27.4 40.3 C29.8 41.5 32.4 43.2 34.6 44.7 C36.7 46.1 37.9 47.5 40.3 49.0 C42.7 50.4 46.7 52.3 49.0 53.3 C51.3 54.3 53.2 54.7 54.0 55.0" fill="none" stroke="#0c1a80" stroke-width="1.50" stroke-linejoin="round"/>
<path d="M27.4 21.6 C29.1 21.8 33.9 22.6 37.5 23.0 C41.1 23.5 45.1 24.1 49.0 24.5 C52.8 24.8 58.0 25.2 60.5 25.2 C63.0 25.2 63.5 24.6 64.1 24.5" fill="none" stroke="#0c1a80" stroke-width="1.50" stroke-linejoin="round"/>
<path d="M28.8 28.1 C30.7 28.2 36.7 28.5 40.3 28.8 C43.9 29.2 47.1 29.9 50.4 30.3 C53.8 30.6 57.4 31.0 60.5 31.0 C63.6 31.0 66.3 30.7 69.1 30.3 C72.0 29.8 74.9 28.7 77.8 28.1 C80.7 27.5 83.8 27.2 86.4 26.6 C89.1 26.0 92.4 24.8 93.6 24.5" fill="none" stroke="#0c1a80" stroke-width="1.50" stroke-linejoin="round"/>
<path d="M41.8 36.0 C42.7 35.5 45.4 33.7 47.5 33.1 C49.7 32.5 52.3 32.4 54.7 32.4 C57.1 32.4 59.8 32.8 61.9 33.1 C64.1 33.5 65.5 34.1 67.7 34.6 C69.9 35.1 73.7 35.8 74.9 36.0" fill="none" stroke="#0c1a80" stroke-width="1.50" stroke-linejoin="round"/>
<path d="M59.1 36.7 C59.5 35.7 62.2 34.6 63.4 34.6 C64.6 34.6 66.0 35.7 66.3 36.7 C66.5 37.8 65.8 40.3 64.8 41.1 C63.9 41.8 61.5 41.8 60.5 41.1 C59.5 40.3 58.6 37.8 59.1 36.7 Z" fill="none" stroke="#0c1a80" stroke-width="1.50" stroke-linejoin="round"/>
<path d="M53.3 36.0 C54.4 34.7 58.1 32.8 60.5 32.4 C62.9 32.1 66.3 32.8 67.7 33.9 C69.1 34.9 69.4 37.3 69.1 38.9 C68.9 40.5 68.2 42.5 66.3 43.2 C64.3 43.9 59.7 43.7 57.6 43.2 C55.6 42.7 54.7 41.5 54.0 40.3 C53.3 39.1 52.2 37.3 53.3 36.0 Z" fill="none" stroke="#0c1a80" stroke-width="1.50" stroke-linejoin="round"/>
<path d="M43.2 40.3 C44.4 40.8 48.0 42.3 50.4 43.2 C52.8 44.2 54.7 45.7 57.6 46.1 C60.5 46.5 64.8 45.9 67.7 45.4 C70.6 44.9 72.7 43.8 74.9 43.2 C77.1 42.6 78.7 41.8 80.7 41.8 C82.6 41.8 85.5 43.0 86.4 43.2" fill="none" stroke="#0c1a80" stroke-width="1.50" stroke-linejoin="round"/>
<path d="M67.7 44.7 C68.7 43.9 72.7 43.7 74.9 43.9 C77.1 44.2 80.2 45.3 80.7 46.1 C81.1 46.9 79.7 48.6 77.8 49.0 C75.9 49.3 70.8 49.0 69.1 48.3 C67.5 47.5 66.7 45.4 67.7 44.7 Z" fill="none" stroke="#0c1a80" stroke-width="1.50" stroke-linejoin="round"/>
<path d="M47.5 41.8 C48.3 42.7 49.7 46.1 51.9 47.5 C54.0 49.0 57.1 49.9 60.5 50.4 C63.9 50.9 68.9 50.7 72.0 50.4 C75.1 50.2 76.8 49.0 79.2 49.0 C81.6 49.0 84.3 49.9 86.4 50.4 C88.6 50.9 91.2 51.6 92.2 51.9" fill="none" stroke="#0c1a80" stroke-width="1.50" stroke-linejoin="round"/>
<path d="M79.2 26.5 C79.7 27.4 81.4 29.9 82.1 31.7 C82.8 33.5 83.5 35.5 83.5 37.5 C83.5 39.4 81.6 41.5 82.1 43.2 C82.6 44.9 85.7 46.8 86.4 47.5" fill="none" stroke="#0c1a80" stroke-width="1.50" stroke-linejoin="round"/>
<path d="M81.8 27.5 C82.3 28.2 84.0 30.0 84.7 31.7 C85.4 33.3 86.1 35.5 86.1 37.5 C86.1 39.4 84.2 41.5 84.7 43.2 C85.2 44.9 88.3 46.8 89.0 47.5" fill="none" stroke="#0c1a80" stroke-width="1.50" stroke-linejoin="round"/>
<path d="M84.4 28.6 C84.9 29.1 86.6 30.2 87.3 31.7 C88.0 33.2 88.7 35.5 88.7 37.5 C88.7 39.4 86.8 41.5 87.3 43.2 C87.8 44.9 90.9 46.8 91.6 47.5" fill="none" stroke="#0c1a80" stroke-width="1.50" stroke-linejoin="round"/>
<path d="M87.0 29.6 C87.5 30.0 89.2 30.4 89.9 31.7 C90.6 33.0 91.3 35.5 91.3 37.5 C91.3 39.4 89.4 41.5 89.9 43.2 C90.4 44.9 93.5 46.8 94.2 47.5" fill="none" stroke="#0c1a80" stroke-width="1.50" stroke-linejoin="round"/>
<path d="M89.3 21.6 C91.2 21.8 96.5 22.6 100.8 23.0 C105.2 23.5 110.4 24.0 115.2 24.5 C120.0 25.0 124.8 25.6 129.6 25.9 C134.4 26.3 140.1 26.1 144.1 26.5 C148.0 26.9 151.7 27.9 153.3 28.2" fill="none" stroke="#0c1a80" stroke-width="1.50" stroke-linejoin="round"/>
<path d="M43.2 23.0 L61.9 24.5" fill="none" stroke="#0c1a80" stroke-width="1.50" stroke-linejoin="round"/>
<path d="M178.0 35.1 C178.9 34.1 181.9 30.7 182.9 28.8 C184.0 26.9 184.9 24.7 184.4 23.6 C183.9 22.6 180.8 22.7 180.1 22.5" fill="none" stroke="#0c1a80" stroke-width="1.50" stroke-linejoin="round"/>
<path d="M77.8 56.2 C79.2 55.9 84.1 55.2 86.4 54.7 C88.7 54.3 90.8 53.8 91.6 53.6" fill="none" stroke="#0c1a80" stroke-width="1.50" stroke-linejoin="round"/>
<path d="M114.7 53.6 C117.2 53.3 125.7 52.6 129.6 51.9 C133.6 51.1 136.1 50.4 138.3 49.0 C140.4 47.5 142.1 45.1 142.6 43.2 C143.1 41.3 142.4 39.1 141.2 37.5 C140.0 35.8 137.8 33.9 135.4 33.1 C133.0 32.4 128.2 33.1 126.8 33.1" fill="none" stroke="#0c1a80" stroke-width="1.50" stroke-linejoin="round"/>
<path d="M98.0 51.9 C97.5 52.6 96.0 55.2 95.1 56.2 C94.1 57.1 92.7 57.4 92.2 57.6" fill="none" stroke="#0c1a80" stroke-width="1.50" stroke-linejoin="round"/>
<path d="M0.0 42.6 C1.9 42.7 7.7 42.4 11.5 43.2 C15.4 44.0 21.1 46.8 23.0 47.5" fill="none" stroke="#0c1a80" stroke-width="1.50" stroke-linejoin="round"/>
<path d="M74.9 70.6 C77.8 70.3 87.4 69.4 92.2 69.1 C97.0 68.9 99.9 68.9 103.7 69.1 C107.6 69.4 111.8 69.9 115.2 70.6 C118.7 71.3 122.9 73.0 124.5 73.5" fill="none" stroke="#0c1a80" stroke-width="1.50" stroke-linejoin="round"/>
<path d="M150.4 68.6 C151.7 67.5 156.2 63.8 158.5 61.9 C160.8 60.1 163.0 60.0 164.2 57.6 C165.4 55.2 165.4 49.2 165.7 47.5" fill="none" stroke="#0c1a80" stroke-width="1.50" stroke-linejoin="round"/>
<path d="M121.0 43.2 C121.6 42.8 123.9 42.4 124.5 42.6 C125.0 42.9 125.0 44.5 124.5 44.9 C123.9 45.4 121.6 45.5 121.0 45.2 C120.4 44.9 120.4 43.6 121.0 43.2 Z" fill="none" stroke="#0c1a80" stroke-width="1.50" stroke-linejoin="round"/>
<path d="M125.6 43.2 C126.1 42.8 128.0 42.6 128.5 42.9 C129.0 43.2 129.0 44.6 128.5 44.9 C128.0 45.3 126.1 45.5 125.6 45.2 C125.1 44.9 125.1 43.6 125.6 43.2 Z" fill="none" stroke="#0c1a80" stroke-width="1.50" stroke-linejoin="round"/>
<path d="M96.5 40.3 C96.9 39.8 98.9 39.4 99.4 39.8 C99.9 40.1 100.1 42.1 99.7 42.6 C99.3 43.2 97.3 43.3 96.8 42.9 C96.3 42.5 96.1 40.9 96.5 40.3 Z" fill="none" stroke="#0c1a80" stroke-width="1.50" stroke-linejoin="round"/>
<text x="76.1" y="24.5" font-size="9.6" text-anchor="middle" transform="rotate(-15.0 76.1 24.5)" dy="3.4">0.005</text>
<text x="111.8" y="34.0" font-size="9.6" text-anchor="middle" transform="rotate(-5.0 111.8 34.0)" dy="3.4">0.010</text>
<text x="167.1" y="33.1" font-size="9.6" text-anchor="middle" transform="rotate(20.0 167.1 33.1)" dy="3.4">0.005</text>
<text x="65.7" y="59.1" font-size="9.6" text-anchor="middle" transform="rotate(-15.0 65.7 59.1)" dy="3.4">0.010</text>
<text x="102.3" y="59.1" font-size="9.6" text-anchor="middle" transform="rotate(-10.0 102.3 59.1)" dy="3.4">0.010</text>
<text x="138.3" y="72.0" font-size="9.6" text-anchor="middle" transform="rotate(-20.0 138.3 72.0)" dy="3.4">0.005</text>
<use href="#coast"/>
</g>
<rect x="2.6" y="2.4" width="24.2" height="19.6" fill="#fff"/>
<text x="6.6" y="15.7" font-size="11.5">b4)</text>
<rect x="1" y="1" width="206" height="105" fill="none" stroke="#000" stroke-width="2"/>
</g>
<g transform="translate(508 382.61)">
<g clip-path="url(#cp)">
<rect x="0" y="0" width="208" height="107" fill="#9cb4ff"/>
<path d="M-1.4 23.0 C1.2 16.2 10.6 21.8 14.4 23.0 C18.2 24.2 19.2 27.1 21.6 30.3 C24.0 33.4 26.2 38.7 28.8 41.8 C31.5 44.9 32.7 47.8 37.5 49.0 C42.3 50.2 50.8 49.2 57.6 49.0 C64.5 48.7 74.7 47.1 78.5 47.5 C82.3 48.0 78.4 51.1 80.7 51.9 C82.9 52.6 89.8 50.4 92.2 51.9 C94.6 53.3 94.8 58.3 95.1 60.5 C95.3 62.7 96.0 64.0 93.6 64.8 C91.2 65.7 84.3 65.3 80.7 65.5 C77.1 65.8 75.9 66.4 72.0 66.3 C68.2 66.1 62.4 65.3 57.6 64.8 C52.8 64.3 48.0 64.3 43.2 63.4 C38.4 62.4 33.6 59.5 28.8 59.1 C24.0 58.6 19.4 59.7 14.4 60.5 C9.4 61.3 1.2 70.3 -1.4 64.1 C-4.1 57.9 -4.1 29.9 -1.4 23.0 Z" fill="#7092ff"/>
<path d="M-1.4 23.0 C1.2 18.5 10.6 21.8 14.4 23.0 C18.2 24.2 19.2 27.1 21.6 30.3 C24.0 33.4 26.2 38.7 28.8 41.8 C31.5 44.9 32.7 47.8 37.5 49.0 C42.3 50.2 50.8 49.2 57.6 49.0 C64.5 48.7 74.7 47.1 78.5 47.5 C82.3 48.0 80.3 50.5 80.7 51.9 C81.0 53.2 82.1 54.5 80.7 55.5 C79.2 56.4 75.9 57.0 72.0 57.6 C68.2 58.2 62.4 59.3 57.6 59.1 C52.8 58.8 48.0 57.4 43.2 56.2 C38.4 55.0 33.6 52.1 28.8 51.9 C24.0 51.6 19.4 55.0 14.4 54.7 C9.4 54.5 1.2 55.7 -1.4 50.4 C-4.1 45.1 -4.1 27.6 -1.4 23.0 Z" fill="#4571ff"/>
<path d="M-1.4 33.1 C0.2 30.4 5.5 31.9 8.6 32.4 C11.8 32.9 15.6 34.2 17.3 36.0 C19.0 37.8 19.7 41.2 18.7 43.2 C17.8 45.3 14.9 47.3 11.5 48.3 C8.2 49.2 0.7 51.5 -1.4 49.0 C-3.6 46.5 -3.1 35.9 -1.4 33.1 Z" fill="#1950ff"/>
<path d="M43.2 48.3 C44.2 47.2 54.0 47.9 57.6 47.5 C61.2 47.2 61.9 46.6 64.8 46.1 C67.7 45.6 72.6 44.4 74.9 44.7 C77.2 44.9 77.5 46.3 78.5 47.5 C79.5 48.7 81.7 50.6 80.7 51.9 C79.6 53.1 75.4 54.5 72.0 55.0 C68.7 55.6 63.9 55.3 60.5 55.0 C57.1 54.8 54.7 54.7 51.9 53.6 C49.0 52.5 42.3 49.3 43.2 48.3 Z" fill="#1950ff"/>
<g clip-path="url(#lc)"><rect x="0" y="0" width="208" height="107" fill="#c8d5ff"/>
<path d="M90.0 52.0 C92.3 42.3 97.3 50.3 104.0 50.0 C110.7 49.7 122.3 49.7 130.0 50.0 C137.7 50.3 145.0 51.3 150.0 52.0 C155.0 52.7 157.3 52.7 160.0 54.0 C162.7 55.3 165.5 57.0 166.0 60.0 C166.5 63.0 164.0 67.8 163.0 72.0 C162.0 76.2 159.5 79.0 160.0 85.0 C160.5 91.0 177.7 104.2 166.0 108.0 C154.3 111.8 102.7 117.3 90.0 108.0 C77.3 98.7 87.7 61.7 90.0 52.0 Z" fill="#9cb4ff"/>
<path d="M90.0 50.0 C103.0 46.7 155.0 46.7 168.0 50.0 C181.0 53.3 181.0 66.7 168.0 70.0 C155.0 73.3 103.0 73.3 90.0 70.0 C77.0 66.7 77.0 53.3 90.0 50.0 Z" fill="#c8d5ff" filter="url(#f40)"/>
<path d="M90.0 68.0 C103.0 61.3 155.0 61.3 168.0 68.0 C181.0 74.7 181.0 101.3 168.0 108.0 C155.0 114.7 103.0 114.7 90.0 108.0 C77.0 101.3 77.0 74.7 90.0 68.0 Z" fill="#c8d5ff" filter="url(#f41)"/>
<path d="M27.4 3.6 C33.1 1.8 56.2 1.8 61.9 3.6 C67.7 5.4 67.7 12.6 61.9 14.4 C56.2 16.2 33.1 16.2 27.4 14.4 C21.6 12.6 21.6 5.4 27.4 3.6 Z" fill="#ffc6c6" filter="url(#f42)"/>
<path d="M27.4 3.6 C33.1 1.8 56.2 1.8 61.9 3.6 C67.7 5.4 67.7 12.6 61.9 14.4 C56.2 16.2 33.1 16.2 27.4 14.4 C21.6 12.6 21.6 5.4 27.4 3.6 Z" fill="#ffffff" filter="url(#f43)"/>
<path d="M61.9 2.9 C69.0 1.0 92.2 3.1 104.0 2.9 C115.8 2.6 128.0 0.5 132.8 1.4 C137.6 2.4 137.6 6.5 132.8 8.6 C128.0 10.8 115.8 13.4 104.0 14.4 C92.2 15.4 69.0 16.3 61.9 14.4 C54.9 12.5 54.9 4.8 61.9 2.9 Z" fill="#ffffff" filter="url(#f44)"/>
<path d="M89.3 8.6 C91.8 7.7 101.6 7.7 104.0 8.6 C106.5 9.6 106.5 13.4 104.0 14.4 C101.6 15.4 91.8 15.4 89.3 14.4 C86.9 13.4 86.9 9.6 89.3 8.6 Z" fill="#ffc6c6" filter="url(#f45)"/>
<path d="M104.0 8.6 C106.4 7.2 113.6 7.9 118.4 7.2 C123.2 6.5 128.0 4.9 132.8 4.3 C137.6 3.7 142.4 3.6 147.2 3.6 C152.0 3.6 157.8 4.0 161.6 4.3 C165.5 4.7 169.3 4.6 170.3 5.8 C171.2 7.0 168.8 10.1 167.4 11.5 C165.9 13.0 165.0 13.7 161.6 14.4 C158.3 15.1 152.0 16.0 147.2 15.8 C142.4 15.7 137.6 13.9 132.8 13.7 C128.0 13.4 123.2 14.0 118.4 14.4 C113.6 14.8 106.4 16.8 104.0 15.8 C101.6 14.9 101.6 10.1 104.0 8.6 Z" fill="#ffc6c6"/>
<path d="M13.0 21.6 C13.2 19.9 16.6 25.2 21.6 25.9 C26.6 26.6 37.2 26.0 43.2 25.9 C49.2 25.8 52.8 25.2 57.6 25.2 C62.4 25.2 67.2 25.9 72.0 25.9 C76.8 25.9 81.1 25.1 86.4 25.2 C91.8 25.3 96.3 26.5 104.0 26.6 C111.7 26.8 124.4 25.6 132.8 25.9 C141.2 26.3 148.4 28.8 154.4 28.8 C160.4 28.8 164.0 27.1 168.8 25.9 C173.6 24.7 180.4 21.1 183.2 21.6 C186.1 22.1 185.4 25.2 186.1 28.8 C186.8 32.4 186.8 38.4 187.6 43.2 C188.3 48.0 190.9 54.7 190.4 57.6 C190.0 60.5 187.1 59.3 184.7 60.5 C182.3 61.7 179.4 62.9 176.0 64.8 C172.7 66.7 167.9 71.5 164.5 72.0 C161.1 72.5 157.5 70.1 155.9 67.7 C154.2 65.3 155.9 60.5 154.4 57.6 C153.0 54.7 150.8 50.9 147.2 50.4 C143.6 49.9 137.6 54.7 132.8 54.7 C128.0 54.7 123.2 51.4 118.4 50.4 C113.6 49.5 106.9 43.9 104.0 49.0 C101.1 54.0 102.8 80.2 100.8 80.7 C98.9 81.1 99.4 57.1 92.2 51.9 C85.0 46.6 67.0 49.5 57.6 49.0 C48.3 48.5 42.3 51.1 36.0 49.0 C29.8 46.8 24.0 40.6 20.2 36.0 C16.3 31.5 12.7 23.3 13.0 21.6 Z" fill="#ffffff"/>
<path d="M43.2 28.8 C45.1 26.2 52.8 27.5 57.6 27.4 C62.4 27.2 67.2 28.1 72.0 28.1 C76.8 28.1 81.1 27.0 86.4 27.4 C91.8 27.7 98.7 29.8 104.0 30.3 C109.3 30.7 113.6 30.0 118.4 30.3 C123.2 30.5 128.5 30.7 132.8 31.7 C137.1 32.7 141.5 34.1 144.3 36.0 C147.2 37.9 148.9 40.8 150.1 43.2 C151.3 45.6 153.2 49.0 151.5 50.4 C149.9 51.9 143.1 51.1 140.0 51.9 C136.9 52.6 135.9 54.7 132.8 54.7 C129.7 54.7 124.9 52.8 121.3 51.9 C117.7 50.9 114.1 49.5 111.2 49.0 C108.3 48.5 108.1 49.5 104.0 49.0 C99.9 48.5 93.0 46.8 86.4 46.1 C79.9 45.4 71.5 45.1 64.8 44.7 C58.1 44.2 49.7 45.9 46.1 43.2 C42.5 40.6 41.3 31.5 43.2 28.8 Z" fill="#ffc6c6"/>
<path d="M57.6 31.7 C64.9 30.0 91.5 31.7 104.0 33.1 C116.5 34.6 128.0 37.5 132.8 40.3 C137.6 43.2 137.6 48.9 132.8 50.4 C128.0 52.0 111.7 50.7 104.0 49.7 C96.3 48.7 93.7 45.7 86.4 44.7 C79.2 43.6 65.3 45.4 60.5 43.2 C55.7 41.1 50.4 33.4 57.6 31.7 Z" fill="#ff9e9e" filter="url(#f46)"/>
<path d="M59.1 34.6 C60.5 33.4 66.3 33.4 67.7 34.6 C69.1 35.8 69.1 40.6 67.7 41.8 C66.3 43.0 60.5 43.0 59.1 41.8 C57.6 40.6 57.6 35.8 59.1 34.6 Z" fill="#ff7676" filter="url(#f47)"/>
<path d="M43.2 40.3 C53.3 39.6 93.9 40.8 104.0 41.8 C114.1 42.7 114.1 45.4 104.0 46.1 C93.9 46.8 53.3 47.1 43.2 46.1 C33.1 45.1 33.1 41.1 43.2 40.3 Z" fill="#7092ff" filter="url(#f48)"/>
<path d="M150.1 34.6 C151.1 33.9 161.4 33.5 164.5 33.9 C167.6 34.2 169.8 36.1 168.8 36.7 C167.9 37.4 161.9 38.1 158.7 37.7 C155.6 37.4 149.1 35.2 150.1 34.6 Z" fill="#ffc6c6"/>
<path d="M92.2 49.0 C93.7 43.7 102.0 43.7 104.0 49.0 C106.0 54.3 105.5 75.4 104.0 80.7 C102.5 86.0 97.0 86.0 95.1 80.7 C93.1 75.4 90.7 54.3 92.2 49.0 Z" fill="#ffffff" filter="url(#f49)"/>
<path d="M92.2 49.0 C93.7 46.1 102.0 46.1 104.0 49.0 C106.0 51.9 105.5 63.4 104.0 66.3 C102.5 69.1 97.0 69.1 95.1 66.3 C93.1 63.4 90.7 51.9 92.2 49.0 Z" fill="#ffc6c6" filter="url(#f50)"/>
<path d="M104.0 49.7 C108.6 47.8 119.6 51.3 125.6 51.9 C131.6 52.5 135.7 53.3 140.0 53.3 C144.3 53.3 148.4 51.4 151.5 51.9 C154.7 52.3 157.1 54.5 158.7 56.2 C160.4 57.9 162.3 60.0 161.6 61.9 C160.9 63.9 156.8 66.0 154.4 67.7 C152.0 69.4 150.8 71.1 147.2 72.0 C143.6 73.0 137.6 73.5 132.8 73.5 C128.0 73.5 123.2 72.3 118.4 72.0 C113.6 71.8 106.9 72.0 104.0 72.0 C101.1 72.0 101.8 73.5 100.8 72.0 C99.8 70.6 97.4 67.1 98.0 63.4 C98.5 59.7 99.4 51.6 104.0 49.7 Z" fill="#9cb4ff"/>
<path d="M106.9 66.3 C111.2 63.6 128.5 63.6 132.8 66.3 C137.1 68.9 137.1 79.5 132.8 82.1 C128.5 84.7 111.2 84.7 106.9 82.1 C102.6 79.5 102.6 68.9 106.9 66.3 Z" fill="#ffffff" filter="url(#f51)"/>
<path d="M181.8 86.4 C184.2 81.9 188.8 82.1 193.3 80.7 C197.9 79.2 206.5 73.2 209.2 77.8 C211.8 82.3 214.2 103.0 209.2 108.0 C204.1 113.1 183.5 111.6 178.9 108.0 C174.3 104.4 179.4 91.0 181.8 86.4 Z" fill="#9cb4ff"/></g><use href="#lakes3" fill="#9cb4ff"/>
<use href="#coast"/>
</g>
<rect x="2.6" y="2.4" width="24.2" height="19.6" fill="#fff"/>
<text x="6.6" y="15.7" font-size="11.5">c4)</text>
<rect x="1" y="1" width="206" height="105" fill="none" stroke="#000" stroke-width="2"/>
</g>
<text transform="translate(8.3 558.0) rotate(-90)" font-size="10.5" text-anchor="middle">GFAS</text>
<g transform="translate(40 504.48)">
<g clip-path="url(#cp)">
<rect x="0" y="0" width="208" height="107" fill="#3d6bff"/>
<path d="M86.4 0.0 C92.2 -1.1 121.0 -1.1 126.8 0.0 C132.5 1.1 126.8 5.3 121.0 6.3 C115.2 7.4 98.0 7.4 92.2 6.3 C86.4 5.3 80.7 1.1 86.4 0.0 Z" fill="#1950ff"/>
<path d="M164.2 0.0 C165.7 -0.9 180.1 -0.9 181.5 0.0 C182.9 0.9 175.7 5.2 172.9 5.2 C170.0 5.2 162.8 0.9 164.2 0.0 Z" fill="#1950ff"/>
<path d="M0.0 31.7 C2.9 27.4 11.0 27.4 17.3 27.4 C23.5 27.4 30.7 30.5 37.5 31.7 C44.2 32.9 52.3 33.9 57.6 34.6 C62.9 35.3 64.3 35.3 69.1 36.0 C73.9 36.7 81.1 38.9 86.4 38.9 C91.7 38.9 96.0 37.0 100.8 36.0 C105.6 35.1 110.4 33.9 115.2 33.1 C120.0 32.4 124.8 31.5 129.6 31.7 C134.4 31.9 139.7 34.3 144.1 34.6 C148.4 34.8 152.2 32.9 155.6 33.1 C158.9 33.4 163.3 33.9 164.2 36.0 C165.2 38.2 162.8 43.0 161.3 46.1 C159.9 49.2 158.5 52.3 155.6 54.7 C152.7 57.1 148.4 58.8 144.1 60.5 C139.7 62.2 134.4 63.6 129.6 64.8 C124.8 66.0 120.5 67.4 115.2 67.7 C110.0 68.0 103.2 67.3 98.0 66.8 C92.7 66.4 86.7 66.1 83.5 64.8 C80.4 63.5 79.2 61.0 79.2 59.1 C79.2 57.1 85.2 54.7 83.5 53.3 C81.9 51.9 73.5 50.7 69.1 50.4 C64.8 50.2 61.5 51.6 57.6 51.9 C53.8 52.1 49.9 52.3 46.1 51.9 C42.3 51.4 38.4 49.2 34.6 49.0 C30.7 48.7 27.4 49.7 23.0 50.4 C18.7 51.1 12.5 52.8 8.6 53.3 C4.8 53.8 1.4 56.9 0.0 53.3 C-1.4 49.7 -2.9 36.0 0.0 31.7 Z" fill="#6086ff"/>
<path d="M172.9 33.1 C173.8 31.0 178.4 26.4 180.1 25.9 C181.7 25.4 182.7 28.3 182.9 30.3 C183.2 32.2 182.9 36.0 181.5 37.5 C180.1 38.9 175.7 39.6 174.3 38.9 C172.9 38.2 171.9 35.3 172.9 33.1 Z" fill="#6086ff"/>
<path d="M118.1 43.2 C119.6 41.3 123.9 38.2 126.8 37.5 C129.6 36.7 134.4 37.5 135.4 38.9 C136.4 40.3 134.7 44.2 132.5 46.1 C130.4 48.0 124.8 49.9 122.4 50.4 C120.0 50.9 118.8 50.2 118.1 49.0 C117.4 47.8 116.7 45.1 118.1 43.2 Z" fill="#84a1ff"/>
<path d="M186.7 53.3 C187.2 51.9 189.1 51.9 189.6 53.3 C190.1 54.7 190.1 60.5 189.6 61.9 C189.1 63.4 187.2 63.4 186.7 61.9 C186.2 60.5 186.2 54.7 186.7 53.3 Z" fill="#1950ff"/>
<use href="#coast"/>
</g>
<rect x="2.6" y="2.4" width="24.2" height="19.6" fill="#fff"/>
<text x="6.6" y="15.7" font-size="11.5">a5)</text>
<rect x="1" y="1" width="206" height="105" fill="none" stroke="#000" stroke-width="2"/>
<line x1="-3.8" x2="0" y1="9.35" y2="9.35" stroke="#000" stroke-width="1.7"/>
<text x="-7.3" y="12.75" font-size="9.6" text-anchor="end">15°N</text>
<line x1="-3.8" x2="0" y1="25.80" y2="25.80" stroke="#000" stroke-width="1.7"/>
<text x="-7.3" y="29.20" font-size="9.6" text-anchor="end">10°N</text>
<line x1="-3.8" x2="0" y1="42.60" y2="42.60" stroke="#000" stroke-width="1.7"/>
<text x="-7.3" y="46.00" font-size="9.6" text-anchor="end">5°N</text>
<line x1="-3.8" x2="0" y1="59.45" y2="59.45" stroke="#000" stroke-width="1.7"/>
<text x="-7.3" y="62.85" font-size="9.6" text-anchor="end">0°</text>
<line x1="-3.8" x2="0" y1="76.90" y2="76.90" stroke="#000" stroke-width="1.7"/>
<text x="-7.3" y="80.30" font-size="9.6" text-anchor="end">5°S</text>
<line x1="-3.8" x2="0" y1="94.80" y2="94.80" stroke="#000" stroke-width="1.7"/>
<text x="-7.3" y="98.20" font-size="9.6" text-anchor="end">10°S</text>
</g>
<g transform="translate(274 504.48)">
<g clip-path="url(#cp)">
<use href="#albedo"/><path d="M14.4 33.1 C15.6 31.8 20.2 29.5 23.0 28.8 C25.9 28.1 29.3 28.2 31.7 28.8 C34.1 29.4 37.0 30.8 37.5 32.3 C37.9 33.7 37.0 36.5 34.6 37.5 C32.2 38.4 26.2 38.1 23.0 38.0 C19.9 37.9 17.3 37.7 15.8 36.9 C14.4 36.1 13.2 34.5 14.4 33.1 Z" fill="none" stroke="#0c1a80" stroke-width="1.50" stroke-linejoin="round"/>
<path d="M46.1 37.5 C47.1 35.8 51.4 35.1 54.7 34.6 C58.1 34.1 64.1 33.6 66.3 34.6 C68.4 35.5 68.7 38.9 67.7 40.3 C66.7 41.8 63.6 42.5 60.5 43.2 C57.4 43.9 51.4 45.6 49.0 44.7 C46.6 43.7 45.1 39.1 46.1 37.5 Z" fill="none" stroke="#0c1a80" stroke-width="1.50" stroke-linejoin="round"/>
<path d="M76.3 40.3 C76.8 40.0 78.7 40.0 79.2 40.3 C79.7 40.7 79.7 42.3 79.2 42.6 C78.7 43.0 76.8 43.0 76.3 42.6 C75.9 42.3 75.9 40.7 76.3 40.3 Z" fill="none" stroke="#0c1a80" stroke-width="1.50" stroke-linejoin="round"/>
<path d="M83.0 42.4 C83.5 43.0 85.4 44.6 86.4 46.1 C87.5 47.6 89.3 49.8 89.3 51.3 C89.3 52.7 86.9 53.4 86.4 54.7 C86.0 56.0 86.0 57.6 86.4 59.1 C86.9 60.5 87.4 62.2 89.3 63.4 C91.2 64.6 94.6 65.5 98.0 66.3 C101.3 67.0 105.6 67.7 109.5 67.7 C113.3 67.7 117.2 67.0 121.0 66.3 C124.8 65.5 129.1 64.2 132.5 63.4 C136.0 62.6 140.2 61.7 141.7 61.4" fill="none" stroke="#0c1a80" stroke-width="1.50" stroke-linejoin="round"/>
<path d="M110.9 34.6 C113.6 34.1 122.2 31.9 126.8 31.7 C131.3 31.5 134.4 32.7 138.3 33.1 C142.1 33.6 146.0 34.6 149.8 34.6 C153.7 34.6 158.7 32.9 161.3 33.1 C164.0 33.4 165.2 34.6 165.7 36.0 C166.1 37.5 165.2 39.9 164.2 41.8 C163.3 43.7 161.0 46.2 159.9 47.5 C158.8 48.8 158.2 49.2 157.9 49.6" fill="none" stroke="#0c1a80" stroke-width="1.50" stroke-linejoin="round"/>
<path d="M109.5 46.1 C110.7 44.6 114.8 41.8 118.1 40.3 C121.5 38.9 126.5 37.5 129.6 37.5 C132.8 37.5 135.9 38.7 136.8 40.3 C137.8 42.0 137.1 45.9 135.4 47.5 C133.7 49.2 130.1 49.8 126.8 50.4 C123.4 51.0 117.9 51.4 115.2 51.3 C112.6 51.1 111.9 50.4 110.9 49.6 C110.0 48.7 108.3 47.6 109.5 46.1 Z" fill="none" stroke="#0c1a80" stroke-width="1.50" stroke-linejoin="round"/>
<path d="M140.0 43.5 C140.4 43.1 142.2 43.1 142.6 43.5 C143.0 43.9 143.0 45.7 142.6 46.1 C142.2 46.5 140.4 46.5 140.0 46.1 C139.6 45.7 139.6 43.9 140.0 43.5 Z" fill="none" stroke="#0c1a80" stroke-width="1.50" stroke-linejoin="round"/>
<path d="M172.9 31.7 C173.6 29.7 176.9 27.0 178.6 25.9 C180.3 24.9 182.2 24.4 182.9 25.4 C183.7 26.3 183.7 29.7 182.9 31.7 C182.2 33.7 180.1 36.4 178.6 37.5 C177.2 38.5 175.3 39.0 174.3 38.0 C173.3 37.1 172.1 33.7 172.9 31.7 Z" fill="none" stroke="#0c1a80" stroke-width="1.50" stroke-linejoin="round"/>
<path d="M86.4 54.7 C87.2 53.1 90.8 51.6 92.2 51.9 C93.6 52.1 94.8 54.5 95.1 56.2 C95.3 57.9 94.8 61.0 93.6 61.9 C92.4 62.9 89.1 63.1 87.9 61.9 C86.7 60.7 85.7 56.4 86.4 54.7 Z" fill="none" stroke="#0c1a80" stroke-width="1.50" stroke-linejoin="round"/>
<text x="96.8" y="38.3" font-size="9.6" text-anchor="middle" transform="rotate(-10.0 96.8 38.3)" dy="3.4">0.005</text>
<text x="155.6" y="57.0" font-size="9.6" text-anchor="middle" transform="rotate(-20.0 155.6 57.0)" dy="3.4">0.005</text>
<use href="#coast"/>
</g>
<rect x="2.6" y="2.4" width="24.2" height="19.6" fill="#fff"/>
<text x="6.6" y="15.7" font-size="11.5">b5)</text>
<rect x="1" y="1" width="206" height="105" fill="none" stroke="#000" stroke-width="2"/>
</g>
<g transform="translate(508 504.48)">
<g clip-path="url(#cp)">
<rect x="0" y="0" width="208" height="107" fill="#9cb4ff"/>
<path d="M-1.4 31.0 C0.7 25.8 7.7 29.8 11.5 30.3 C15.4 30.7 18.2 31.7 21.6 33.9 C25.0 36.0 29.0 40.7 31.7 43.2 C34.4 45.7 39.4 47.2 37.7 48.7 C36.1 50.1 26.5 50.4 21.6 51.9 C16.8 53.3 12.5 56.1 8.6 57.6 C4.8 59.2 0.2 65.7 -1.4 61.2 C-3.1 56.8 -3.6 36.1 -1.4 31.0 Z" fill="#7092ff"/>
<path d="M78.5 57.6 C79.2 55.7 81.3 54.1 83.5 53.3 C85.8 52.5 90.4 51.9 92.2 52.6 C94.0 53.3 94.1 55.3 94.4 57.6 C94.6 59.9 95.0 64.8 93.6 66.3 C92.3 67.8 88.8 66.8 86.4 66.6 C84.0 66.3 80.5 66.3 79.2 64.8 C77.9 63.3 77.8 59.5 78.5 57.6 Z" fill="#7092ff"/>
<path d="M-1.4 43.2 C-0.2 42.1 4.1 43.3 5.8 43.9 C7.4 44.5 8.6 45.8 8.6 46.8 C8.6 47.8 7.4 49.4 5.8 50.0 C4.1 50.6 -0.2 51.5 -1.4 50.4 C-2.6 49.3 -2.6 44.3 -1.4 43.2 Z" fill="#4571ff"/>
<g clip-path="url(#lc)"><rect x="0" y="0" width="208" height="107" fill="#c8d5ff"/>
<path d="M90.0 52.0 C92.3 42.3 97.3 50.3 104.0 50.0 C110.7 49.7 122.3 49.7 130.0 50.0 C137.7 50.3 145.0 51.3 150.0 52.0 C155.0 52.7 157.3 52.7 160.0 54.0 C162.7 55.3 165.5 57.0 166.0 60.0 C166.5 63.0 164.0 67.8 163.0 72.0 C162.0 76.2 159.5 79.0 160.0 85.0 C160.5 91.0 177.7 104.2 166.0 108.0 C154.3 111.8 102.7 117.3 90.0 108.0 C77.3 98.7 87.7 61.7 90.0 52.0 Z" fill="#9cb4ff"/>
<path d="M90.0 50.0 C103.0 46.7 155.0 46.7 168.0 50.0 C181.0 53.3 181.0 66.7 168.0 70.0 C155.0 73.3 103.0 73.3 90.0 70.0 C77.0 66.7 77.0 53.3 90.0 50.0 Z" fill="#c8d5ff" filter="url(#f52)"/>
<path d="M90.0 68.0 C103.0 61.3 155.0 61.3 168.0 68.0 C181.0 74.7 181.0 101.3 168.0 108.0 C155.0 114.7 103.0 114.7 90.0 108.0 C77.0 101.3 77.0 74.7 90.0 68.0 Z" fill="#c8d5ff" filter="url(#f53)"/>
<path d="M27.4 2.9 C28.8 1.9 34.6 1.9 36.0 2.9 C37.5 3.8 37.5 7.7 36.0 8.6 C34.6 9.6 28.8 9.6 27.4 8.6 C25.9 7.7 25.9 3.8 27.4 2.9 Z" fill="#ffffff" filter="url(#f54)"/>
<path d="M51.9 1.7 C53.5 1.3 60.3 1.3 61.9 1.7 C63.6 2.1 63.6 3.6 61.9 4.0 C60.3 4.4 53.5 4.4 51.9 4.0 C50.2 3.6 50.2 2.1 51.9 1.7 Z" fill="#ffffff" filter="url(#f55)"/>
<path d="M93.6 13.0 C95.4 12.5 102.3 12.5 104.0 13.0 C105.7 13.4 105.7 15.4 104.0 15.8 C102.3 16.3 95.4 16.3 93.6 15.8 C91.9 15.4 91.9 13.4 93.6 13.0 Z" fill="#ffffff" filter="url(#f56)"/>
<path d="M21.6 28.8 C24.0 28.2 31.2 29.8 36.0 31.0 C40.8 32.2 45.6 35.2 50.4 36.0 C55.2 36.9 60.7 35.3 64.8 36.0 C68.9 36.7 73.7 38.7 74.9 40.3 C76.1 42.0 74.9 44.9 72.0 46.1 C69.1 47.3 62.4 47.5 57.6 47.5 C52.8 47.5 48.0 47.3 43.2 46.1 C38.4 44.9 32.4 42.3 28.8 40.3 C25.2 38.4 22.8 36.5 21.6 34.6 C20.4 32.7 19.2 29.4 21.6 28.8 Z" fill="#ffffff" filter="url(#f57)"/>
<path d="M86.4 34.6 C88.9 31.2 101.1 28.8 104.0 34.6 C106.9 40.3 105.7 63.4 104.0 69.1 C102.3 74.9 96.1 71.5 93.6 69.1 C91.2 66.7 90.5 60.5 89.3 54.7 C88.1 49.0 84.0 37.9 86.4 34.6 Z" fill="#ffffff" filter="url(#f58)"/>
<path d="M96.5 40.3 C97.5 38.4 102.8 38.4 104.0 40.3 C105.3 42.3 105.0 49.9 104.0 51.9 C103.0 53.8 99.2 53.8 98.0 51.9 C96.7 49.9 95.5 42.3 96.5 40.3 Z" fill="#ff9e9e" filter="url(#f59)"/>
<path d="M104.0 11.5 C106.4 10.0 113.6 8.5 118.4 7.2 C123.2 5.9 128.0 4.3 132.8 3.6 C137.6 2.9 141.2 3.1 147.2 2.9 C153.2 2.6 163.3 2.0 168.8 2.2 C174.3 2.3 177.7 2.8 180.4 3.6 C183.0 4.4 185.4 5.9 184.7 7.2 C184.0 8.5 178.9 10.4 176.0 11.5 C173.1 12.6 171.0 13.1 167.4 13.7 C163.8 14.3 159.0 15.1 154.4 15.1 C149.9 15.1 144.8 13.8 140.0 13.7 C135.2 13.6 130.4 14.0 125.6 14.4 C120.8 14.8 114.8 15.5 111.2 15.8 C107.6 16.2 105.2 17.3 104.0 16.6 C102.8 15.8 101.6 13.1 104.0 11.5 Z" fill="#ffffff"/>
<path d="M141.5 13.0 C142.2 12.2 147.2 11.8 151.5 11.5 C155.9 11.3 165.2 11.0 167.4 11.5 C169.5 12.0 167.9 13.7 164.5 14.4 C161.1 15.1 151.1 16.1 147.2 15.8 C143.4 15.6 140.7 13.7 141.5 13.0 Z" fill="#ffc6c6"/>
<path d="M104.0 30.3 C106.4 26.8 113.6 28.3 118.4 28.1 C123.2 27.8 128.0 28.3 132.8 28.8 C137.6 29.3 141.9 31.0 147.2 31.0 C152.5 31.0 160.2 29.9 164.5 28.8 C168.8 27.7 170.3 25.7 173.1 24.5 C176.0 23.3 179.6 21.1 181.8 21.6 C184.0 22.1 185.2 24.7 186.1 27.4 C187.1 30.0 186.8 34.1 187.6 37.5 C188.3 40.8 190.9 44.7 190.4 47.5 C190.0 50.4 187.6 53.1 184.7 54.7 C181.8 56.4 176.5 56.7 173.1 57.6 C169.8 58.6 166.9 60.5 164.5 60.5 C162.1 60.5 160.2 58.8 158.7 57.6 C157.3 56.4 157.8 54.3 155.9 53.3 C153.9 52.3 151.1 51.9 147.2 51.9 C143.4 51.9 137.6 53.8 132.8 53.3 C128.0 52.8 123.2 49.7 118.4 49.0 C113.6 48.3 106.4 52.1 104.0 49.0 C101.6 45.9 101.6 33.7 104.0 30.3 Z" fill="#ffffff"/>
<path d="M165.9 33.1 C169.3 30.3 183.7 29.3 187.6 31.7 C191.4 34.1 192.4 44.7 189.0 47.5 C185.6 50.4 171.2 51.4 167.4 49.0 C163.5 46.6 162.6 36.0 165.9 33.1 Z" fill="#c8d5ff" filter="url(#f60)"/>
<path d="M104.0 37.5 C105.4 35.3 109.0 34.7 112.6 33.9 C116.2 33.0 121.1 32.3 125.6 32.4 C130.2 32.5 136.4 33.5 140.0 34.6 C143.6 35.7 145.3 37.2 147.2 38.9 C149.1 40.6 149.6 42.7 151.5 44.7 C153.5 46.6 158.7 49.2 158.7 50.4 C158.7 51.6 154.7 51.5 151.5 51.9 C148.4 52.2 143.6 52.2 140.0 52.6 C136.4 52.9 133.5 54.4 129.9 54.0 C126.3 53.7 121.8 51.5 118.4 50.4 C115.0 49.3 112.2 48.1 109.8 47.5 C107.4 46.9 105.0 48.5 104.0 46.8 C103.0 45.1 102.6 39.6 104.0 37.5 Z" fill="#ffc6c6"/>
<path d="M109.8 40.3 C113.6 38.9 129.0 38.7 132.8 40.3 C136.7 42.0 136.7 49.0 132.8 50.4 C129.0 51.9 113.6 50.7 109.8 49.0 C105.9 47.3 105.9 41.8 109.8 40.3 Z" fill="#ff9e9e" filter="url(#f61)"/>
<path d="M104.0 49.0 C107.4 47.7 113.6 49.0 118.4 49.7 C123.2 50.4 128.0 52.9 132.8 53.3 C137.6 53.7 142.9 51.6 147.2 51.9 C151.5 52.1 155.9 53.8 158.7 54.7 C161.6 55.7 164.0 56.2 164.5 57.6 C165.0 59.1 162.6 61.0 161.6 63.4 C160.7 65.8 161.1 69.9 158.7 72.0 C156.3 74.2 151.5 75.9 147.2 76.3 C142.9 76.8 137.6 75.6 132.8 74.9 C128.0 74.2 123.2 73.0 118.4 72.0 C113.6 71.1 106.9 69.6 104.0 69.1 C101.1 68.7 101.8 71.1 100.8 69.1 C99.8 67.2 97.4 61.0 98.0 57.6 C98.5 54.3 100.6 50.3 104.0 49.0 Z" fill="#9cb4ff"/>
<path d="M108.3 64.8 C111.4 62.2 123.9 62.2 127.1 64.8 C130.2 67.5 130.2 78.0 127.1 80.7 C123.9 83.3 111.4 83.3 108.3 80.7 C105.2 78.0 105.2 67.5 108.3 64.8 Z" fill="#ffffff" filter="url(#f62)"/>
<path d="M181.8 86.4 C184.2 81.9 188.8 82.1 193.3 80.7 C197.9 79.2 206.5 73.2 209.2 77.8 C211.8 82.3 214.2 103.0 209.2 108.0 C204.1 113.1 183.5 111.6 178.9 108.0 C174.3 104.4 179.4 91.0 181.8 86.4 Z" fill="#9cb4ff"/></g><use href="#lakes3" fill="#9cb4ff"/>
<use href="#coast"/>
</g>
<rect x="2.6" y="2.4" width="24.2" height="19.6" fill="#fff"/>
<text x="6.6" y="15.7" font-size="11.5">c5)</text>
<rect x="1" y="1" width="206" height="105" fill="none" stroke="#000" stroke-width="2"/>
</g>
<text transform="translate(8.3 679.9) rotate(-90)" font-size="10.5" text-anchor="middle">GBBEP-Geo</text>
<g transform="translate(40 626.35)">
<g clip-path="url(#cp)">
<rect x="0" y="0" width="208" height="107" fill="#3d6bff"/>
<path d="M72.0 0.0 C81.6 -1.2 124.8 -1.4 135.4 0.0 C146.0 1.4 137.8 6.7 135.4 8.6 C133.0 10.6 127.7 11.0 121.0 11.5 C114.3 12.0 102.3 12.2 95.1 11.5 C87.9 10.8 81.6 9.1 77.8 7.2 C73.9 5.3 62.4 1.2 72.0 0.0 Z" fill="#1950ff"/>
<path d="M135.4 0.0 C143.6 -2.9 175.3 -2.9 184.4 0.0 C193.5 2.9 192.1 12.5 190.1 17.3 C188.2 22.1 179.6 26.4 172.9 28.8 C166.1 31.2 155.1 31.7 149.8 31.7 C144.5 31.7 143.6 31.2 141.2 28.8 C138.8 26.4 136.4 22.1 135.4 17.3 C134.4 12.5 127.2 2.9 135.4 0.0 Z" fill="#1950ff"/>
<path d="M0.0 40.3 C1.9 38.2 8.6 39.1 11.5 40.3 C14.4 41.5 17.3 45.6 17.3 47.5 C17.3 49.5 14.4 50.9 11.5 51.9 C8.6 52.8 1.9 55.2 0.0 53.3 C-1.9 51.4 -1.9 42.5 0.0 40.3 Z" fill="#6086ff"/>
<path d="M177.2 50.4 C178.4 48.7 182.2 48.7 184.4 47.5 C186.5 46.3 187.7 43.9 190.1 43.2 C192.5 42.5 197.8 42.3 198.8 43.2 C199.8 44.2 197.3 47.3 195.9 49.0 C194.5 50.7 191.6 50.4 190.1 53.3 C188.7 56.2 188.7 64.6 187.3 66.3 C185.8 67.9 183.2 64.8 181.5 63.4 C179.8 61.9 177.9 59.8 177.2 57.6 C176.5 55.5 176.0 52.1 177.2 50.4 Z" fill="#1950ff"/>
<use href="#coast"/>
</g>
<rect x="2.6" y="2.4" width="24.2" height="19.6" fill="#fff"/>
<text x="6.6" y="15.7" font-size="11.5">a6)</text>
<rect x="1" y="1" width="206" height="105" fill="none" stroke="#000" stroke-width="2"/>
<line x1="-3.8" x2="0" y1="9.35" y2="9.35" stroke="#000" stroke-width="1.7"/>
<text x="-7.3" y="12.75" font-size="9.6" text-anchor="end">15°N</text>
<line x1="-3.8" x2="0" y1="25.80" y2="25.80" stroke="#000" stroke-width="1.7"/>
<text x="-7.3" y="29.20" font-size="9.6" text-anchor="end">10°N</text>
<line x1="-3.8" x2="0" y1="42.60" y2="42.60" stroke="#000" stroke-width="1.7"/>
<text x="-7.3" y="46.00" font-size="9.6" text-anchor="end">5°N</text>
<line x1="-3.8" x2="0" y1="59.45" y2="59.45" stroke="#000" stroke-width="1.7"/>
<text x="-7.3" y="62.85" font-size="9.6" text-anchor="end">0°</text>
<line x1="-3.8" x2="0" y1="76.90" y2="76.90" stroke="#000" stroke-width="1.7"/>
<text x="-7.3" y="80.30" font-size="9.6" text-anchor="end">5°S</text>
<line x1="-3.8" x2="0" y1="94.80" y2="94.80" stroke="#000" stroke-width="1.7"/>
<text x="-7.3" y="98.20" font-size="9.6" text-anchor="end">10°S</text>
</g>
<g transform="translate(274 626.35)">
<g clip-path="url(#cp)">
<use href="#albedo"/><path d="M132.5 37.5 C132.9 37.1 134.2 37.1 134.5 37.5 C134.9 37.8 134.9 39.1 134.5 39.5 C134.2 39.8 132.9 39.8 132.5 39.5 C132.2 39.1 132.2 37.8 132.5 37.5 Z" fill="#0c1a80" stroke="#0c1a80" stroke-width="1.50" stroke-linejoin="round"/>
<use href="#coast"/>
</g>
<rect x="2.6" y="2.4" width="24.2" height="19.6" fill="#fff"/>
<text x="6.6" y="15.7" font-size="11.5">b6)</text>
<rect x="1" y="1" width="206" height="105" fill="none" stroke="#000" stroke-width="2"/>
</g>
<g transform="translate(508 626.35)">
<g clip-path="url(#cp)">
<rect x="0" y="0" width="208" height="107" fill="#9cb4ff"/>
<path d="M-1.4 36.0 C0.7 31.7 7.7 34.8 11.5 35.3 C15.4 35.8 18.2 37.6 21.6 38.9 C25.0 40.2 29.0 41.6 31.7 43.2 C34.4 44.8 39.4 47.2 37.7 48.7 C36.1 50.1 26.5 50.4 21.6 51.9 C16.8 53.3 12.5 56.1 8.6 57.6 C4.8 59.2 0.2 64.8 -1.4 61.2 C-3.1 57.6 -3.6 40.3 -1.4 36.0 Z" fill="#7092ff"/>
<path d="M78.5 57.6 C79.2 55.7 81.3 54.1 83.5 53.3 C85.8 52.5 90.4 51.9 92.2 52.6 C94.0 53.3 94.1 55.3 94.4 57.6 C94.6 59.9 95.0 64.8 93.6 66.3 C92.3 67.8 88.8 66.8 86.4 66.6 C84.0 66.3 80.5 66.3 79.2 64.8 C77.9 63.3 77.8 59.5 78.5 57.6 Z" fill="#7092ff"/>
<path d="M-1.4 44.7 C-0.2 43.8 4.1 44.9 5.8 45.4 C7.4 45.9 8.6 46.8 8.6 47.5 C8.6 48.3 7.4 49.5 5.8 50.0 C4.1 50.5 -0.2 51.3 -1.4 50.4 C-2.6 49.5 -2.6 45.5 -1.4 44.7 Z" fill="#4571ff"/>
<g clip-path="url(#lc)"><rect x="0" y="0" width="208" height="107" fill="#c8d5ff"/>
<path d="M21.6 28.8 C26.4 29.5 40.8 35.3 50.4 37.5 C60.0 39.6 74.4 40.3 79.2 41.8 C84.0 43.2 84.0 45.4 79.2 46.1 C74.4 46.8 58.8 46.8 50.4 46.1 C42.0 45.4 33.6 43.9 28.8 41.8 C24.0 39.6 22.8 35.3 21.6 33.1 C20.4 31.0 16.8 28.1 21.6 28.8 Z" fill="#9cb4ff" filter="url(#f63)"/>
<path d="M105.4 38.9 C106.6 37.7 110.0 39.3 112.6 38.9 C115.3 38.5 118.4 37.2 121.3 36.7 C124.2 36.3 127.5 36.3 129.9 36.0 C132.3 35.8 133.3 34.2 135.7 35.3 C138.1 36.4 143.9 40.9 144.3 42.5 C144.8 44.1 140.5 43.1 138.6 44.7 C136.7 46.2 135.0 50.3 132.8 51.9 C130.7 53.4 128.5 54.0 125.6 54.0 C122.7 54.0 118.2 52.7 115.5 51.9 C112.9 51.0 111.4 49.9 109.8 49.0 C108.1 48.0 106.2 47.8 105.4 46.1 C104.7 44.4 104.2 40.1 105.4 38.9 Z" fill="#ffffff"/>
<path d="M104.0 36.0 C111.2 32.7 140.0 31.5 147.2 34.6 C154.4 37.7 154.4 51.4 147.2 54.7 C140.0 58.1 111.2 57.9 104.0 54.7 C96.8 51.6 96.8 39.4 104.0 36.0 Z" fill="#ffffff" filter="url(#f64)"/>
<path d="M180.4 45.4 C180.8 44.1 183.4 43.6 184.7 43.9 C186.0 44.3 187.9 46.2 188.3 47.5 C188.6 48.9 187.9 51.2 186.8 51.9 C185.8 52.5 182.9 52.7 181.8 51.6 C180.7 50.5 179.9 46.6 180.4 45.4 Z" fill="#ffffff"/>
<path d="M132.8 74.9 C134.0 71.8 137.6 69.4 140.0 67.7 C142.4 66.0 144.8 64.8 147.2 64.8 C149.6 64.8 152.3 66.0 154.4 67.7 C156.6 69.4 158.5 71.8 160.2 74.9 C161.9 78.0 164.7 83.5 164.5 86.4 C164.3 89.3 161.6 91.0 158.7 92.2 C155.9 93.4 150.8 93.6 147.2 93.6 C143.6 93.6 139.5 93.4 137.1 92.2 C134.7 91.0 133.5 89.3 132.8 86.4 C132.1 83.5 131.6 78.0 132.8 74.9 Z" fill="#9cb4ff"/>
<path d="M104.0 93.6 C109.6 93.4 123.2 92.2 132.8 92.2 C142.4 92.2 152.0 94.6 161.6 93.6 C171.2 92.7 182.5 88.6 190.4 86.4 C198.4 84.3 206.0 77.1 209.2 80.7 C212.3 84.3 226.7 103.5 209.2 108.0 C191.6 112.6 122.1 108.0 104.0 108.0 C86.0 108.0 101.6 110.4 100.8 108.0 C100.1 105.6 98.9 96.0 99.4 93.6 C99.9 91.2 98.4 93.9 104.0 93.6 Z" fill="#9cb4ff"/>
<path d="M125.6 64.8 C132.8 58.8 161.6 58.8 168.8 64.8 C176.0 70.8 176.0 94.8 168.8 100.8 C161.6 106.8 132.8 106.8 125.6 100.8 C118.4 94.8 118.4 70.8 125.6 64.8 Z" fill="#9cb4ff" filter="url(#f65)"/>
<path d="M104.0 57.6 C105.7 57.6 108.8 56.2 109.8 57.6 C110.7 59.1 110.7 64.8 109.8 66.3 C108.8 67.7 105.5 66.3 104.0 66.3 C102.5 66.3 101.6 67.7 100.8 66.3 C100.1 64.8 98.9 59.1 99.4 57.6 C99.9 56.2 102.3 57.6 104.0 57.6 Z" fill="#9cb4ff" filter="url(#f66)"/></g><use href="#lakes3" fill="#9cb4ff"/>
<use href="#coast"/>
</g>
<rect x="2.6" y="2.4" width="24.2" height="19.6" fill="#fff"/>
<text x="6.6" y="15.7" font-size="11.5">c6)</text>
<rect x="1" y="1" width="206" height="105" fill="none" stroke="#000" stroke-width="2"/>
</g>
<text transform="translate(8.3 801.7) rotate(-90)" font-size="10.5" text-anchor="middle">QFED</text>
<g transform="translate(40 748.22)">
<g clip-path="url(#cp)">
<rect x="0" y="0" width="208" height="107" fill="#3d6bff"/>
<path d="M0.0 20.2 C2.9 14.2 11.5 18.7 17.3 18.7 C23.0 18.7 27.8 19.7 34.6 20.2 C41.3 20.6 49.9 20.9 57.6 21.6 C65.3 22.3 73.9 24.0 80.7 24.5 C87.4 25.0 92.2 25.2 98.0 24.5 C103.7 23.8 110.0 21.4 115.2 20.2 C120.5 19.0 123.9 17.3 129.6 17.3 C135.4 17.3 143.6 19.7 149.8 20.2 C156.1 20.6 161.8 20.4 167.1 20.2 C172.4 19.9 177.9 18.2 181.5 18.7 C185.1 19.2 187.7 20.4 188.7 23.0 C189.7 25.7 188.9 31.7 187.3 34.6 C185.6 37.5 181.5 37.9 178.6 40.3 C175.7 42.7 172.4 45.6 170.0 49.0 C167.6 52.3 165.7 57.1 164.2 60.5 C162.8 63.9 163.7 66.3 161.3 69.1 C158.9 72.0 153.7 75.4 149.8 77.8 C146.0 80.2 142.6 82.3 138.3 83.5 C134.0 84.7 128.7 85.0 123.9 85.0 C119.1 85.0 114.3 83.5 109.5 83.5 C104.7 83.5 99.9 84.5 95.1 85.0 C90.3 85.5 85.5 86.0 80.7 86.4 C75.9 86.9 69.6 88.4 66.3 87.9 C62.9 87.4 61.5 86.2 60.5 83.5 C59.5 80.9 61.9 75.4 60.5 72.0 C59.1 68.7 56.2 65.8 51.9 63.4 C47.5 61.0 40.3 59.1 34.6 57.6 C28.8 56.2 23.0 55.2 17.3 54.7 C11.5 54.3 2.9 60.5 0.0 54.7 C-2.9 49.0 -2.9 26.2 0.0 20.2 Z" fill="#6086ff"/>
<path d="M0.0 28.8 C2.9 25.4 11.0 25.4 17.3 25.9 C23.5 26.4 30.7 30.7 37.5 31.7 C44.2 32.7 50.4 31.5 57.6 31.7 C64.8 31.9 74.4 33.1 80.7 33.1 C86.9 33.1 90.3 32.7 95.1 31.7 C99.9 30.7 104.7 28.3 109.5 27.4 C114.3 26.4 119.1 25.9 123.9 25.9 C128.7 25.9 133.5 26.9 138.3 27.4 C143.1 27.8 147.9 29.1 152.7 28.8 C157.5 28.6 162.8 26.9 167.1 25.9 C171.4 25.0 175.3 22.8 178.6 23.0 C182.0 23.3 186.3 25.0 187.3 27.4 C188.2 29.8 186.8 34.8 184.4 37.5 C182.0 40.1 176.2 41.3 172.9 43.2 C169.5 45.1 166.6 46.6 164.2 49.0 C161.8 51.4 161.3 55.5 158.5 57.6 C155.6 59.8 150.8 60.0 146.9 61.9 C143.1 63.9 139.7 67.7 135.4 69.1 C131.1 70.6 125.8 70.8 121.0 70.6 C116.2 70.3 112.4 68.4 106.6 67.7 C100.8 67.0 91.7 67.2 86.4 66.3 C81.1 65.3 76.3 64.1 74.9 61.9 C73.5 59.8 78.7 55.5 77.8 53.3 C76.8 51.1 73.0 49.9 69.1 49.0 C65.3 48.0 59.5 48.0 54.7 47.5 C49.9 47.1 45.6 46.6 40.3 46.1 C35.1 45.6 27.8 44.9 23.0 44.7 C18.2 44.4 15.4 44.4 11.5 44.7 C7.7 44.9 1.9 48.7 0.0 46.1 C-1.9 43.5 -2.9 32.2 0.0 28.8 Z" fill="#84a1ff"/>
<path d="M92.2 43.2 C94.1 41.3 99.9 39.1 103.7 37.5 C107.6 35.8 110.9 34.1 115.2 33.1 C119.6 32.2 124.8 31.7 129.6 31.7 C134.4 31.7 139.7 32.7 144.1 33.1 C148.4 33.6 152.2 33.9 155.6 34.6 C158.9 35.3 163.3 35.5 164.2 37.5 C165.2 39.4 163.3 43.5 161.3 46.1 C159.4 48.7 156.5 50.9 152.7 53.3 C148.9 55.7 143.1 58.8 138.3 60.5 C133.5 62.2 128.7 63.4 123.9 63.4 C119.1 63.4 113.8 61.9 109.5 60.5 C105.2 59.1 100.8 56.7 98.0 54.7 C95.1 52.8 93.2 50.9 92.2 49.0 C91.2 47.1 90.3 45.1 92.2 43.2 Z" fill="#a8bcff"/>
<path d="M170.0 28.8 C170.7 26.4 176.0 24.7 178.6 24.5 C181.3 24.2 184.9 25.2 185.8 27.4 C186.8 29.5 186.3 35.5 184.4 37.5 C182.5 39.4 176.7 40.3 174.3 38.9 C171.9 37.5 169.3 31.2 170.0 28.8 Z" fill="#a8bcff"/>
<path d="M21.6 28.8 C23.6 27.8 31.7 27.0 34.6 28.2 C37.5 29.4 39.9 34.4 38.9 36.0 C37.9 37.6 31.5 38.3 28.8 38.0 C26.1 37.8 23.7 36.1 22.5 34.6 C21.3 33.0 19.6 29.9 21.6 28.8 Z" fill="#a8bcff"/>
<path d="M46.1 36.0 C48.3 34.8 57.1 32.9 60.5 33.1 C63.9 33.4 66.7 36.3 66.3 37.5 C65.8 38.7 60.7 39.9 57.6 40.3 C54.5 40.8 49.5 41.1 47.5 40.3 C45.6 39.6 43.9 37.2 46.1 36.0 Z" fill="#a8bcff"/>
<path d="M103.7 46.1 C104.7 43.7 111.4 40.6 115.2 38.9 C119.1 37.2 122.4 36.3 126.8 36.0 C131.1 35.8 137.3 36.5 141.2 37.5 C145.0 38.4 148.9 39.9 149.8 41.8 C150.8 43.7 149.3 46.8 146.9 49.0 C144.5 51.1 139.7 53.5 135.4 54.7 C131.1 55.9 125.3 56.4 121.0 56.2 C116.7 55.9 112.4 55.0 109.5 53.3 C106.6 51.6 102.8 48.5 103.7 46.1 Z" fill="#cbd8ff"/>
<path d="M172.9 28.8 C173.6 27.1 179.6 25.2 181.5 25.9 C183.4 26.6 185.1 31.5 184.4 33.1 C183.7 34.8 179.1 36.7 177.2 36.0 C175.3 35.3 172.1 30.5 172.9 28.8 Z" fill="#cbd8ff"/>
<path d="M115.2 43.2 C116.0 41.3 118.1 38.7 121.0 37.5 C123.9 36.3 129.2 35.8 132.5 36.0 C135.9 36.3 139.2 37.5 141.2 38.9 C143.1 40.3 145.0 43.0 144.1 44.7 C143.1 46.3 138.8 47.9 135.4 49.0 C132.0 50.1 127.0 51.3 123.9 51.3 C120.8 51.3 118.1 50.3 116.7 49.0 C115.2 47.6 114.5 45.1 115.2 43.2 Z" fill="#ffcdcd"/>
<path d="M121.0 43.2 C121.7 41.9 124.6 39.7 126.8 38.9 C128.9 38.1 132.3 37.6 134.0 38.3 C135.6 39.0 137.6 41.8 136.8 43.2 C136.1 44.6 132.0 46.1 129.6 46.7 C127.2 47.2 123.9 47.2 122.4 46.7 C121.0 46.1 120.3 44.5 121.0 43.2 Z" fill="#ffa8a8"/>
<path d="M121.0 43.2 C121.7 41.9 124.6 39.7 126.8 38.9 C128.9 38.1 132.3 37.6 134.0 38.3 C135.6 39.0 137.6 41.8 136.8 43.2 C136.1 44.6 132.0 46.1 129.6 46.7 C127.2 47.2 123.9 47.2 122.4 46.7 C121.0 46.1 120.3 44.5 121.0 43.2 Z" fill="#ff8383" filter="url(#f67)"/>
<use href="#coast"/>
</g>
<rect x="2.6" y="2.4" width="24.2" height="19.6" fill="#fff"/>
<text x="6.6" y="15.7" font-size="11.5">a7)</text>
<rect x="1" y="1" width="206" height="105" fill="none" stroke="#000" stroke-width="2"/>
<line x1="-3.8" x2="0" y1="9.35" y2="9.35" stroke="#000" stroke-width="1.7"/>
<text x="-7.3" y="12.75" font-size="9.6" text-anchor="end">15°N</text>
<line x1="-3.8" x2="0" y1="25.80" y2="25.80" stroke="#000" stroke-width="1.7"/>
<text x="-7.3" y="29.20" font-size="9.6" text-anchor="end">10°N</text>
<line x1="-3.8" x2="0" y1="42.60" y2="42.60" stroke="#000" stroke-width="1.7"/>
<text x="-7.3" y="46.00" font-size="9.6" text-anchor="end">5°N</text>
<line x1="-3.8" x2="0" y1="59.45" y2="59.45" stroke="#000" stroke-width="1.7"/>
<text x="-7.3" y="62.85" font-size="9.6" text-anchor="end">0°</text>
<line x1="-3.8" x2="0" y1="76.90" y2="76.90" stroke="#000" stroke-width="1.7"/>
<text x="-7.3" y="80.30" font-size="9.6" text-anchor="end">5°S</text>
<line x1="-3.8" x2="0" y1="94.80" y2="94.80" stroke="#000" stroke-width="1.7"/>
<text x="-7.3" y="98.20" font-size="9.6" text-anchor="end">10°S</text>
<line x1="24.50" x2="24.50" y1="107" y2="110.5" stroke="#000" stroke-width="1.7"/>
<text x="24.50" y="124.18" font-size="9.6" text-anchor="middle">10°W</text>
<line x1="60.50" x2="60.50" y1="107" y2="110.5" stroke="#000" stroke-width="1.7"/>
<text x="60.50" y="124.18" font-size="9.6" text-anchor="middle">0°</text>
<line x1="96.30" x2="96.30" y1="107" y2="110.5" stroke="#000" stroke-width="1.7"/>
<text x="96.30" y="124.18" font-size="9.6" text-anchor="middle">10°E</text>
<line x1="132.10" x2="132.10" y1="107" y2="110.5" stroke="#000" stroke-width="1.7"/>
<text x="132.10" y="124.18" font-size="9.6" text-anchor="middle">20°E</text>
<line x1="167.90" x2="167.90" y1="107" y2="110.5" stroke="#000" stroke-width="1.7"/>
<text x="167.90" y="124.18" font-size="9.6" text-anchor="middle">30°E</text>
<line x1="203.70" x2="203.70" y1="107" y2="110.5" stroke="#000" stroke-width="1.7"/>
<text x="203.70" y="124.18" font-size="9.6" text-anchor="middle">40°E</text>
</g>
<g transform="translate(274 748.22)">
<g clip-path="url(#cp)">
<use href="#albedo"/><path d="M0.0 42.6 C2.9 42.7 11.5 42.6 17.3 43.2 C23.0 43.8 30.3 44.9 34.6 46.1 C38.9 47.3 41.8 49.7 43.2 50.4" fill="none" stroke="#0c1a80" stroke-width="1.50" stroke-linejoin="round"/>
<path d="M70.6 69.1 C69.6 69.9 66.3 71.8 64.8 73.5 C63.4 75.1 62.2 77.3 61.9 79.2 C61.7 81.1 62.2 83.5 63.4 85.0 C64.6 86.4 66.3 87.6 69.1 87.9 C72.0 88.1 76.3 87.2 80.7 86.4 C85.0 85.7 90.8 84.5 95.1 83.5 C99.4 82.6 102.3 81.1 106.6 80.7 C110.9 80.2 116.2 80.2 121.0 80.7 C125.8 81.1 131.1 83.5 135.4 83.5 C139.7 83.5 143.6 82.1 146.9 80.7 C150.3 79.2 153.3 76.8 155.6 74.9 C157.9 73.0 159.9 70.1 160.8 69.1" fill="none" stroke="#0c1a80" stroke-width="1.50" stroke-linejoin="round"/>
<path d="M182.1 47.5 C182.7 45.9 184.7 41.1 185.8 37.5 C186.9 33.9 188.7 28.6 188.7 25.9 C188.7 23.3 187.0 22.7 185.8 21.6 C184.6 20.6 183.7 19.6 181.5 19.6 C179.3 19.6 176.2 21.4 172.9 21.6 C169.5 21.8 163.3 20.9 161.3 20.7" fill="none" stroke="#0c1a80" stroke-width="1.50" stroke-linejoin="round"/>
<path d="M135.4 25.9 C133.5 25.2 127.2 22.6 123.9 21.6 C120.5 20.6 118.1 20.2 115.2 20.2 C112.4 20.2 109.5 20.6 106.6 21.6 C103.7 22.6 100.3 24.7 98.0 25.9 C95.6 27.1 93.6 28.3 92.8 28.8" fill="none" stroke="#0c1a80" stroke-width="1.50" stroke-linejoin="round"/>
<path d="M70.6 27.4 C68.4 27.1 62.2 26.6 57.6 25.9 C53.1 25.2 47.1 23.8 43.2 23.0 C39.4 22.3 37.9 22.0 34.6 21.6 C31.2 21.2 25.9 20.7 23.0 20.7 C20.2 20.7 18.2 21.5 17.3 21.6" fill="none" stroke="#0c1a80" stroke-width="1.50" stroke-linejoin="round"/>
<path d="M5.8 34.6 C7.0 33.1 10.6 30.7 14.4 30.3 C18.2 29.8 24.5 30.7 28.8 31.7 C33.1 32.7 39.4 34.6 40.3 36.0 C41.3 37.5 38.4 39.6 34.6 40.3 C30.7 41.1 21.8 40.6 17.3 40.3 C12.7 40.1 9.1 39.9 7.2 38.9 C5.3 37.9 4.6 36.0 5.8 34.6 Z" fill="none" stroke="#0c1a80" stroke-width="1.50" stroke-linejoin="round"/>
<path d="M21.6 28.8 C22.6 27.6 26.2 27.1 28.8 27.4 C31.5 27.6 35.8 28.8 37.5 30.3 C39.1 31.7 39.9 34.8 38.9 36.0 C37.9 37.2 34.3 37.7 31.7 37.5 C29.1 37.2 24.7 36.0 23.0 34.6 C21.4 33.1 20.6 30.0 21.6 28.8 Z" fill="none" stroke="#0c1a80" stroke-width="1.50" stroke-linejoin="round"/>
<path d="M26.5 31.1 C27.3 30.4 31.8 30.1 33.1 30.5 C34.5 31.0 35.4 33.3 34.6 34.0 C33.8 34.7 29.6 35.1 28.2 34.6 C26.9 34.1 25.7 31.8 26.5 31.1 Z" fill="none" stroke="#0c1a80" stroke-width="1.50" stroke-linejoin="round"/>
<path d="M46.1 36.0 C47.8 34.8 54.5 33.4 57.6 33.1 C60.7 32.9 63.6 33.4 64.8 34.6 C66.0 35.8 66.5 39.1 64.8 40.3 C63.1 41.5 57.6 41.8 54.7 41.8 C51.9 41.8 49.0 41.3 47.5 40.3 C46.1 39.4 44.4 37.2 46.1 36.0 Z" fill="none" stroke="#0c1a80" stroke-width="1.50" stroke-linejoin="round"/>
<path d="M59.1 36.0 C59.8 35.5 62.7 35.5 63.4 36.0 C64.1 36.5 64.1 38.4 63.4 38.9 C62.7 39.4 59.8 39.4 59.1 38.9 C58.3 38.4 58.3 36.5 59.1 36.0 Z" fill="none" stroke="#0c1a80" stroke-width="1.50" stroke-linejoin="round"/>
<path d="M80.7 56.2 C81.1 54.5 82.1 52.8 83.5 51.9 C85.0 50.9 87.9 49.9 89.3 50.4 C90.8 50.9 91.7 52.6 92.2 54.7 C92.7 56.9 93.4 61.7 92.2 63.4 C91.0 65.1 86.9 65.1 85.0 64.8 C83.1 64.6 81.4 63.4 80.7 61.9 C79.9 60.5 80.2 57.9 80.7 56.2 Z" fill="none" stroke="#0c1a80" stroke-width="1.50" stroke-linejoin="round"/>
<path d="M83.5 47.5 C85.0 46.3 88.8 42.0 92.2 40.3 C95.6 38.7 99.9 38.7 103.7 37.5 C107.6 36.3 111.4 34.3 115.2 33.1 C119.1 31.9 122.9 30.5 126.8 30.3 C130.6 30.0 134.4 31.5 138.3 31.7 C142.1 31.9 146.0 31.9 149.8 31.7 C153.7 31.5 158.5 29.8 161.3 30.3 C164.2 30.7 166.1 32.4 167.1 34.6 C168.1 36.7 168.1 40.6 167.1 43.2 C166.1 45.9 163.3 48.3 161.3 50.4 C159.4 52.6 157.5 54.5 155.6 56.2 C153.7 57.9 151.5 59.2 149.8 60.5 C148.1 61.8 146.2 63.4 145.5 64.0" fill="none" stroke="#0c1a80" stroke-width="1.50" stroke-linejoin="round"/>
<path d="M119.6 70.6 C117.9 70.3 112.6 69.9 109.5 69.1 C106.4 68.4 103.2 67.5 100.8 66.3 C98.4 65.1 96.5 63.4 95.1 61.9 C93.6 60.5 93.6 59.1 92.2 57.6 C90.8 56.2 87.9 54.5 86.4 53.3 C85.0 52.1 84.0 50.9 83.5 50.4" fill="none" stroke="#0c1a80" stroke-width="1.50" stroke-linejoin="round"/>
<path d="M115.2 40.3 C116.7 38.4 120.5 35.8 123.9 34.6 C127.2 33.4 132.5 32.7 135.4 33.1 C138.3 33.6 140.2 35.5 141.2 37.5 C142.1 39.4 142.6 42.7 141.2 44.7 C139.7 46.6 135.9 48.3 132.5 49.0 C129.2 49.7 123.9 49.5 121.0 49.0 C118.1 48.5 116.2 47.5 115.2 46.1 C114.3 44.7 113.8 42.3 115.2 40.3 Z" fill="none" stroke="#0c1a80" stroke-width="1.50" stroke-linejoin="round"/>
<path d="M121.0 40.3 C121.2 38.8 125.6 37.1 128.2 36.9 C130.8 36.6 135.6 37.6 136.8 38.9 C138.0 40.2 137.1 43.5 135.4 44.7 C133.7 45.9 129.2 46.8 126.8 46.1 C124.4 45.4 120.8 41.9 121.0 40.3 Z" fill="none" stroke="#0c1a80" stroke-width="1.50" stroke-linejoin="round"/>
<path d="M125.3 40.3 C126.8 39.9 132.5 39.9 134.0 40.3 C135.4 40.8 135.4 42.7 134.0 43.2 C132.5 43.7 126.8 43.7 125.3 43.2 C123.9 42.7 123.9 40.8 125.3 40.3 Z" fill="none" stroke="#0c1a80" stroke-width="1.50" stroke-linejoin="round"/>
<path d="M149.8 34.6 C151.5 33.4 156.1 31.5 158.5 31.7 C160.9 31.9 163.7 34.1 164.2 36.0 C164.7 37.9 163.3 42.0 161.3 43.2 C159.4 44.4 154.9 43.9 152.7 43.2 C150.5 42.5 148.9 40.3 148.4 38.9 C147.9 37.5 148.1 35.8 149.8 34.6 Z" fill="none" stroke="#0c1a80" stroke-width="1.50" stroke-linejoin="round"/>
<path d="M155.6 35.1 C156.4 34.4 159.9 34.4 160.8 35.1 C161.6 35.9 161.6 39.0 160.8 39.8 C159.9 40.5 156.4 40.5 155.6 39.8 C154.7 39.0 154.7 35.9 155.6 35.1 Z" fill="none" stroke="#0c1a80" stroke-width="1.50" stroke-linejoin="round"/>
<path d="M171.4 28.8 C171.9 26.6 175.3 25.4 177.2 24.5 C179.1 23.5 181.5 22.3 182.9 23.0 C184.4 23.8 186.1 26.6 185.8 28.8 C185.6 31.0 183.4 34.6 181.5 36.0 C179.6 37.5 176.0 38.7 174.3 37.5 C172.6 36.3 170.9 31.0 171.4 28.8 Z" fill="none" stroke="#0c1a80" stroke-width="1.50" stroke-linejoin="round"/>
<path d="M175.7 27.4 C176.6 26.3 180.3 25.7 181.5 26.5 C182.7 27.3 183.8 31.2 182.9 32.3 C182.1 33.4 177.5 33.9 176.3 33.1 C175.1 32.3 174.9 28.5 175.7 27.4 Z" fill="none" stroke="#0c1a80" stroke-width="1.50" stroke-linejoin="round"/>
<path d="M95.1 44.7 C96.5 43.0 103.2 40.6 106.6 40.3 C110.0 40.1 112.8 41.3 115.2 43.2 C117.6 45.1 122.0 50.2 121.0 51.9 C120.0 53.5 113.3 53.5 109.5 53.3 C105.6 53.1 100.4 51.9 98.0 50.4 C95.6 49.0 93.6 46.3 95.1 44.7 Z" fill="none" stroke="#0c1a80" stroke-width="1.50" stroke-linejoin="round"/>
<path d="M135.4 47.5 C137.3 46.1 146.0 45.6 149.8 46.1 C153.7 46.6 158.5 49.0 158.5 50.4 C158.5 51.9 153.2 54.0 149.8 54.7 C146.5 55.5 140.7 55.9 138.3 54.7 C135.9 53.5 133.5 49.0 135.4 47.5 Z" fill="none" stroke="#0c1a80" stroke-width="1.50" stroke-linejoin="round"/>
<path d="M98.0 50.4 C99.9 51.1 105.6 53.8 109.5 54.7 C113.3 55.7 117.2 55.7 121.0 56.2 C124.8 56.7 128.7 57.6 132.5 57.6 C136.4 57.6 140.2 56.9 144.1 56.2 C147.9 55.5 153.7 53.8 155.6 53.3" fill="none" stroke="#0c1a80" stroke-width="1.50" stroke-linejoin="round"/>
<text x="57.0" y="59.9" font-size="9.6" text-anchor="middle" transform="rotate(25.0 57.0 59.9)" dy="3.4">0.005</text>
<text x="84.1" y="27.9" font-size="9.6" text-anchor="middle" transform="rotate(15.0 84.1 27.9)" dy="3.4">0.005</text>
<text x="148.4" y="22.2" font-size="9.6" text-anchor="middle" transform="rotate(-15.0 148.4 22.2)" dy="3.4">0.005</text>
<text x="170.8" y="57.0" font-size="9.6" text-anchor="middle" transform="rotate(-35.0 170.8 57.0)" dy="3.4">0.005</text>
<text x="133.1" y="70.6" font-size="9.6" text-anchor="middle" transform="rotate(-5.0 133.1 70.6)" dy="3.4">0.010</text>
<use href="#coast"/>
</g>
<rect x="2.6" y="2.4" width="24.2" height="19.6" fill="#fff"/>
<text x="6.6" y="15.7" font-size="11.5">b7)</text>
<rect x="1" y="1" width="206" height="105" fill="none" stroke="#000" stroke-width="2"/>
<line x1="24.50" x2="24.50" y1="107" y2="110.5" stroke="#000" stroke-width="1.7"/>
<text x="24.50" y="124.18" font-size="9.6" text-anchor="middle">10°W</text>
<line x1="60.50" x2="60.50" y1="107" y2="110.5" stroke="#000" stroke-width="1.7"/>
<text x="60.50" y="124.18" font-size="9.6" text-anchor="middle">0°</text>
<line x1="96.30" x2="96.30" y1="107" y2="110.5" stroke="#000" stroke-width="1.7"/>
<text x="96.30" y="124.18" font-size="9.6" text-anchor="middle">10°E</text>
<line x1="132.10" x2="132.10" y1="107" y2="110.5" stroke="#000" stroke-width="1.7"/>
<text x="132.10" y="124.18" font-size="9.6" text-anchor="middle">20°E</text>
<line x1="167.90" x2="167.90" y1="107" y2="110.5" stroke="#000" stroke-width="1.7"/>
<text x="167.90" y="124.18" font-size="9.6" text-anchor="middle">30°E</text>
<line x1="203.70" x2="203.70" y1="107" y2="110.5" stroke="#000" stroke-width="1.7"/>
<text x="203.70" y="124.18" font-size="9.6" text-anchor="middle">40°E</text>
</g>
<g transform="translate(508 748.22)">
<g clip-path="url(#cp)">
<rect x="0" y="0" width="208" height="107" fill="#9cb4ff"/>
<path d="M-1.4 23.0 C1.2 16.3 10.6 21.6 14.4 23.0 C18.2 24.5 19.2 28.6 21.6 31.7 C24.0 34.8 26.2 38.9 28.8 41.8 C31.5 44.7 32.7 47.8 37.5 49.0 C42.3 50.2 50.8 49.2 57.6 49.0 C64.5 48.7 74.7 47.1 78.5 47.5 C82.3 48.0 78.4 51.1 80.7 51.9 C82.9 52.6 89.8 50.4 92.2 51.9 C94.6 53.3 94.8 57.1 95.1 60.5 C95.3 63.9 94.1 69.7 93.6 72.0 C93.2 74.3 94.4 74.2 92.2 74.2 C90.0 74.2 84.3 73.1 80.7 72.0 C77.1 70.9 72.5 70.1 70.6 67.7 C68.7 65.3 72.5 59.8 69.1 57.6 C65.8 55.5 55.9 55.5 50.4 54.7 C44.9 54.0 40.8 53.5 36.0 53.3 C31.2 53.1 26.2 52.6 21.6 53.3 C17.0 54.0 12.5 55.9 8.6 57.6 C4.8 59.3 0.2 69.1 -1.4 63.4 C-3.1 57.6 -4.1 29.8 -1.4 23.0 Z" fill="#7092ff"/>
<path d="M-1.4 23.0 C1.2 18.2 10.6 21.6 14.4 23.0 C18.2 24.5 19.2 28.6 21.6 31.7 C24.0 34.8 26.2 38.9 28.8 41.8 C31.5 44.7 37.5 47.5 37.5 49.0 C37.5 50.4 32.7 49.9 28.8 50.4 C25.0 50.9 19.4 51.6 14.4 51.9 C9.4 52.1 1.2 56.7 -1.4 51.9 C-4.1 47.1 -4.1 27.8 -1.4 23.0 Z" fill="#4571ff"/>
<path d="M69.1 51.9 C70.2 49.6 76.6 48.3 78.5 48.3 C80.4 48.3 78.4 51.3 80.7 51.9 C82.9 52.5 89.9 50.9 92.2 51.9 C94.5 52.8 94.1 54.7 94.4 57.6 C94.6 60.5 95.0 67.0 93.6 69.1 C92.3 71.3 89.1 70.8 86.4 70.6 C83.8 70.3 80.2 69.1 77.8 67.7 C75.4 66.3 73.5 64.6 72.0 61.9 C70.6 59.3 68.1 54.1 69.1 51.9 Z" fill="#4571ff"/>
<path d="M-1.4 33.1 C0.2 30.6 5.5 32.4 8.6 32.8 C11.8 33.3 15.6 34.3 17.3 36.0 C19.0 37.7 19.7 41.3 18.7 43.2 C17.8 45.1 14.9 46.7 11.5 47.5 C8.2 48.4 0.7 50.7 -1.4 48.3 C-3.6 45.9 -3.1 35.7 -1.4 33.1 Z" fill="#1950ff"/>
<g clip-path="url(#lc)"><rect x="0" y="0" width="208" height="107" fill="#c8d5ff"/>
<path d="M90.0 52.0 C92.3 42.3 97.3 50.3 104.0 50.0 C110.7 49.7 122.3 49.7 130.0 50.0 C137.7 50.3 145.0 51.3 150.0 52.0 C155.0 52.7 157.3 52.7 160.0 54.0 C162.7 55.3 165.5 57.0 166.0 60.0 C166.5 63.0 164.0 67.8 163.0 72.0 C162.0 76.2 159.5 79.0 160.0 85.0 C160.5 91.0 177.7 104.2 166.0 108.0 C154.3 111.8 102.7 117.3 90.0 108.0 C77.3 98.7 87.7 61.7 90.0 52.0 Z" fill="#9cb4ff"/>
<path d="M90.0 50.0 C103.0 46.7 155.0 46.7 168.0 50.0 C181.0 53.3 181.0 66.7 168.0 70.0 C155.0 73.3 103.0 73.3 90.0 70.0 C77.0 66.7 77.0 53.3 90.0 50.0 Z" fill="#c8d5ff" filter="url(#f68)"/>
<path d="M90.0 68.0 C103.0 61.3 155.0 61.3 168.0 68.0 C181.0 74.7 181.0 101.3 168.0 108.0 C155.0 114.7 103.0 114.7 90.0 108.0 C77.0 101.3 77.0 74.7 90.0 68.0 Z" fill="#c8d5ff" filter="url(#f69)"/>
<path d="M27.4 2.2 C33.1 1.3 56.2 1.3 61.9 2.2 C67.7 3.0 67.7 6.4 61.9 7.2 C56.2 8.0 33.1 8.0 27.4 7.2 C21.6 6.4 21.6 3.0 27.4 2.2 Z" fill="#ffc6c6" filter="url(#f70)"/>
<path d="M27.4 5.8 C33.1 4.6 56.2 4.6 61.9 5.8 C67.7 7.0 67.7 11.8 61.9 13.0 C56.2 14.2 33.1 14.2 27.4 13.0 C21.6 11.8 21.6 7.0 27.4 5.8 Z" fill="#ffffff" filter="url(#f71)"/>
<path d="M61.9 2.9 C69.0 0.7 92.2 2.9 104.0 2.9 C115.8 2.9 128.0 1.2 132.8 2.9 C137.6 4.6 137.6 10.8 132.8 13.0 C128.0 15.1 115.8 15.4 104.0 15.8 C92.2 16.3 69.0 18.0 61.9 15.8 C54.9 13.7 54.9 5.0 61.9 2.9 Z" fill="#ffffff" filter="url(#f72)"/>
<path d="M89.3 11.5 C91.8 10.8 101.6 10.8 104.0 11.5 C106.5 12.2 106.5 15.1 104.0 15.8 C101.6 16.6 91.8 16.6 89.3 15.8 C86.9 15.1 86.9 12.2 89.3 11.5 Z" fill="#ffc6c6" filter="url(#f73)"/>
<path d="M118.4 10.1 C120.8 8.6 128.0 6.8 132.8 5.8 C137.6 4.7 141.2 4.1 147.2 3.6 C153.2 3.1 162.6 2.8 168.8 2.9 C175.1 3.0 182.0 3.4 184.7 4.3 C187.3 5.3 186.1 7.4 184.7 8.6 C183.2 9.8 179.9 10.6 176.0 11.5 C172.2 12.5 166.4 13.9 161.6 14.4 C156.8 14.9 152.0 14.5 147.2 14.4 C142.4 14.3 137.6 13.7 132.8 13.7 C128.0 13.7 120.8 15.0 118.4 14.4 C116.0 13.8 116.0 11.5 118.4 10.1 Z" fill="#ffc6c6"/>
<path d="M104.0 14.4 C120.8 12.7 188.0 12.7 204.8 14.4 C221.6 16.1 221.6 22.8 204.8 24.5 C188.0 26.2 120.8 26.2 104.0 24.5 C87.2 22.8 87.2 16.1 104.0 14.4 Z" fill="#ffffff" filter="url(#f74)"/>
<path d="M14.4 21.6 C15.6 19.7 21.6 24.0 28.8 24.5 C36.0 25.0 45.1 24.7 57.6 24.5 C70.2 24.2 82.8 23.5 104.0 23.0 C125.2 22.6 170.3 19.4 184.7 21.6 C199.1 23.8 190.4 30.0 190.4 36.0 C190.4 42.0 189.5 51.1 184.7 57.6 C179.9 64.1 165.9 73.7 161.6 74.9 C157.3 76.1 161.1 68.4 158.7 64.8 C156.3 61.2 156.9 50.7 147.2 53.3 C137.6 55.9 110.0 80.9 100.8 80.7 C91.7 80.4 99.4 57.1 92.2 51.9 C85.0 46.6 67.0 49.5 57.6 49.0 C48.3 48.5 42.0 51.1 36.0 49.0 C30.0 46.8 25.2 40.6 21.6 36.0 C18.0 31.5 13.2 23.5 14.4 21.6 Z" fill="#ffffff"/>
<path d="M23.0 27.4 C25.7 25.9 36.3 25.9 38.9 27.4 C41.5 28.8 41.5 34.6 38.9 36.0 C36.3 37.5 25.7 37.5 23.0 36.0 C20.4 34.6 20.4 28.8 23.0 27.4 Z" fill="#ffc6c6" filter="url(#f75)"/>
<path d="M54.7 33.1 C56.7 31.5 64.3 31.5 66.3 33.1 C68.2 34.8 68.2 41.5 66.3 43.2 C64.3 44.9 56.7 44.9 54.7 43.2 C52.8 41.5 52.8 34.8 54.7 33.1 Z" fill="#ff9e9e" filter="url(#f76)"/>
<path d="M67.7 32.4 C73.5 30.1 95.6 31.9 104.0 31.0 C112.5 30.0 113.6 27.2 118.4 26.6 C123.2 26.0 128.0 27.4 132.8 27.4 C137.6 27.4 142.4 26.9 147.2 26.6 C152.0 26.4 157.3 26.3 161.6 25.9 C165.9 25.6 169.8 24.8 173.1 24.5 C176.5 24.1 179.9 22.6 181.8 23.8 C183.7 25.0 184.7 28.9 184.7 31.7 C184.7 34.5 183.2 37.9 181.8 40.3 C180.4 42.7 178.4 44.7 176.0 46.1 C173.6 47.5 170.3 48.0 167.4 49.0 C164.5 49.9 162.1 51.4 158.7 51.9 C155.4 52.3 151.5 51.6 147.2 51.9 C142.9 52.1 137.6 53.3 132.8 53.3 C128.0 53.3 123.2 52.3 118.4 51.9 C113.6 51.4 106.4 51.1 104.0 50.4 C101.6 49.7 106.9 48.0 104.0 47.5 C101.1 47.1 92.2 48.0 86.4 47.5 C80.6 47.1 72.3 47.2 69.1 44.7 C66.0 42.1 61.9 34.7 67.7 32.4 Z" fill="#ffc6c6"/>
<path d="M80.7 34.6 C83.6 32.7 97.7 35.1 104.0 34.6 C110.3 34.1 111.2 32.2 118.4 31.7 C125.6 31.2 140.5 30.7 147.2 31.7 C153.9 32.7 157.3 34.8 158.7 37.5 C160.2 40.1 157.8 45.3 155.9 47.5 C153.9 49.8 152.3 50.4 147.2 51.1 C142.2 51.9 132.8 52.1 125.6 51.9 C118.4 51.6 110.5 50.7 104.0 49.7 C97.5 48.7 90.3 48.6 86.4 46.1 C82.5 43.6 77.7 36.5 80.7 34.6 Z" fill="#ff9e9e" filter="url(#f77)"/>
<path d="M108.3 35.3 C111.2 32.7 119.9 34.0 125.6 34.6 C131.4 35.2 140.0 36.3 142.9 38.9 C145.8 41.5 145.8 48.3 142.9 50.4 C140.0 52.6 131.4 51.9 125.6 51.9 C119.9 51.9 111.2 53.2 108.3 50.4 C105.4 47.7 105.4 37.9 108.3 35.3 Z" fill="#ff7676" filter="url(#f78)"/>
<path d="M112.6 37.5 C115.5 35.5 129.0 35.8 132.8 37.5 C136.7 39.1 138.6 45.6 135.7 47.5 C132.8 49.5 119.4 50.7 115.5 49.0 C111.7 47.3 109.8 39.4 112.6 37.5 Z" fill="#ff4c4c" filter="url(#f79)"/>
<path d="M104.0 47.5 C108.8 46.8 126.8 46.8 132.8 47.5 C138.8 48.3 144.8 51.1 140.0 51.9 C135.2 52.6 110.0 52.6 104.0 51.9 C98.0 51.1 99.2 48.3 104.0 47.5 Z" fill="#7092ff" filter="url(#f80)"/>
<path d="M190.4 36.0 C194.8 34.1 202.4 34.3 204.8 36.0 C207.2 37.7 208.2 42.0 204.8 46.1 C201.5 50.2 191.4 55.7 184.7 60.5 C178.0 65.3 168.8 73.5 164.5 74.9 C160.2 76.3 158.7 72.0 158.7 69.1 C158.7 66.3 161.1 61.2 164.5 57.6 C167.9 54.0 174.6 51.1 178.9 47.5 C183.2 43.9 186.1 37.9 190.4 36.0 Z" fill="#ffffff" filter="url(#f81)"/>
<path d="M104.0 50.4 C107.4 50.4 113.6 51.1 118.4 51.6 C123.2 52.0 128.0 53.0 132.8 53.0 C137.6 53.1 142.9 51.8 147.2 51.9 C151.5 51.9 156.5 51.9 158.7 53.3 C161.0 54.7 162.8 59.3 160.9 60.5 C159.0 61.7 153.1 60.4 147.2 60.5 C141.3 60.6 132.8 61.2 125.6 61.2 C118.4 61.2 108.1 60.6 104.0 60.5 C99.9 60.4 101.8 61.9 100.8 60.5 C99.8 59.1 97.4 53.5 98.0 51.9 C98.5 50.2 100.6 50.5 104.0 50.4 Z" fill="#9cb4ff"/>
<path d="M104.0 49.7 C107.4 49.5 113.6 50.3 118.4 50.7 C123.2 51.1 128.0 52.1 132.8 52.1 C137.6 52.2 142.9 51.1 147.2 51.1 C151.5 51.2 156.5 51.0 158.7 52.6 C161.0 54.1 162.8 59.2 160.9 60.5 C159.0 61.8 153.1 60.4 147.2 60.5 C141.3 60.6 132.8 61.2 125.6 61.2 C118.4 61.2 108.1 60.6 104.0 60.5 C99.9 60.4 101.8 61.9 100.8 60.5 C99.8 59.1 97.4 53.7 98.0 51.9 C98.5 50.1 100.6 49.9 104.0 49.7 Z" fill="#7092ff" filter="url(#f82)"/>
<path d="M104.0 60.5 C108.6 60.6 118.4 61.2 125.6 61.2 C132.8 61.2 141.3 60.6 147.2 60.5 C153.1 60.4 159.2 59.1 160.9 60.5 C162.6 61.9 158.9 66.7 157.3 69.1 C155.7 71.5 154.4 73.7 151.5 74.9 C148.7 76.1 144.3 76.3 140.0 76.3 C135.7 76.3 130.2 75.6 125.6 74.9 C121.1 74.2 116.2 72.7 112.6 72.0 C109.0 71.3 106.0 70.8 104.0 70.6 C102.0 70.3 101.8 72.3 100.8 70.6 C99.8 68.9 97.4 62.2 98.0 60.5 C98.5 58.8 99.4 60.4 104.0 60.5 Z" fill="#9cb4ff"/>
<path d="M108.3 64.8 C111.2 62.7 122.7 62.7 125.6 64.8 C128.5 67.0 128.5 75.6 125.6 77.8 C122.7 79.9 111.2 79.9 108.3 77.8 C105.4 75.6 105.4 67.0 108.3 64.8 Z" fill="#ff9e9e" filter="url(#f83)"/>
<path d="M129.9 64.8 C131.1 63.9 135.9 63.9 137.1 64.8 C138.3 65.8 138.3 69.6 137.1 70.6 C135.9 71.5 131.1 71.5 129.9 70.6 C128.7 69.6 128.7 65.8 129.9 64.8 Z" fill="#ffffff" filter="url(#f84)"/>
<path d="M104.0 74.9 C113.2 74.9 146.0 72.5 154.4 74.9 C162.8 77.3 162.8 86.9 154.4 89.3 C146.0 91.7 112.9 89.3 104.0 89.3 C95.1 89.3 101.6 91.7 100.8 89.3 C100.1 86.9 98.9 77.3 99.4 74.9 C99.9 72.5 94.8 74.9 104.0 74.9 Z" fill="#ffffff" filter="url(#f85)"/>
<path d="M92.2 49.0 C93.7 42.7 102.0 42.7 104.0 49.0 C106.0 55.2 105.5 80.2 104.0 86.4 C102.5 92.7 97.0 92.7 95.1 86.4 C93.1 80.2 90.7 55.2 92.2 49.0 Z" fill="#ffffff" filter="url(#f86)"/>
<path d="M92.2 49.0 C93.7 45.6 102.0 45.6 104.0 49.0 C106.0 52.3 105.5 65.8 104.0 69.1 C102.5 72.5 97.0 72.5 95.1 69.1 C93.1 65.8 90.7 52.3 92.2 49.0 Z" fill="#ff9e9e" filter="url(#f87)"/>
<path d="M104.0 86.4 C114.4 86.7 151.5 84.5 161.6 87.9 C171.7 91.2 174.1 103.5 164.5 106.6 C154.9 109.7 114.6 106.6 104.0 106.6 C93.4 106.6 101.6 110.0 100.8 106.6 C100.1 103.2 98.9 89.8 99.4 86.4 C99.9 83.1 93.6 86.2 104.0 86.4 Z" fill="#c8d5ff" filter="url(#f88)"/>
<path d="M181.8 86.4 C184.2 81.9 188.8 82.1 193.3 80.7 C197.9 79.2 206.5 73.2 209.2 77.8 C211.8 82.3 214.2 103.0 209.2 108.0 C204.1 113.1 183.5 111.6 178.9 108.0 C174.3 104.4 179.4 91.0 181.8 86.4 Z" fill="#9cb4ff"/></g><use href="#lakes3" fill="#9cb4ff"/>
<use href="#coast"/>
</g>
<rect x="2.6" y="2.4" width="24.2" height="19.6" fill="#fff"/>
<text x="6.6" y="15.7" font-size="11.5">c7)</text>
<rect x="1" y="1" width="206" height="105" fill="none" stroke="#000" stroke-width="2"/>
<line x1="24.50" x2="24.50" y1="107" y2="110.5" stroke="#000" stroke-width="1.7"/>
<text x="24.50" y="124.18" font-size="9.6" text-anchor="middle">10°W</text>
<line x1="60.50" x2="60.50" y1="107" y2="110.5" stroke="#000" stroke-width="1.7"/>
<text x="60.50" y="124.18" font-size="9.6" text-anchor="middle">0°</text>
<line x1="96.30" x2="96.30" y1="107" y2="110.5" stroke="#000" stroke-width="1.7"/>
<text x="96.30" y="124.18" font-size="9.6" text-anchor="middle">10°E</text>
<line x1="132.10" x2="132.10" y1="107" y2="110.5" stroke="#000" stroke-width="1.7"/>
<text x="132.10" y="124.18" font-size="9.6" text-anchor="middle">20°E</text>
<line x1="167.90" x2="167.90" y1="107" y2="110.5" stroke="#000" stroke-width="1.7"/>
<text x="167.90" y="124.18" font-size="9.6" text-anchor="middle">30°E</text>
<line x1="203.70" x2="203.70" y1="107" y2="110.5" stroke="#000" stroke-width="1.7"/>
<text x="203.70" y="124.18" font-size="9.6" text-anchor="middle">40°E</text>
</g>
<rect x="52.60" y="877.5" width="15.17" height="9.5" fill="#1950ff" stroke="#000" stroke-width="1"/>
<rect x="67.77" y="877.5" width="15.17" height="9.5" fill="#3d6bff" stroke="#000" stroke-width="1"/>
<rect x="82.93" y="877.5" width="15.17" height="9.5" fill="#6086ff" stroke="#000" stroke-width="1"/>
<rect x="98.10" y="877.5" width="15.17" height="9.5" fill="#84a1ff" stroke="#000" stroke-width="1"/>
<rect x="113.27" y="877.5" width="15.17" height="9.5" fill="#a8bcff" stroke="#000" stroke-width="1"/>
<rect x="128.43" y="877.5" width="15.17" height="9.5" fill="#cbd8ff" stroke="#000" stroke-width="1"/>
<rect x="143.60" y="877.5" width="15.17" height="9.5" fill="#ffcdcd" stroke="#000" stroke-width="1"/>
<rect x="158.77" y="877.5" width="15.17" height="9.5" fill="#ffa8a8" stroke="#000" stroke-width="1"/>
<rect x="173.93" y="877.5" width="15.17" height="9.5" fill="#ff8383" stroke="#000" stroke-width="1"/>
<rect x="189.10" y="877.5" width="15.17" height="9.5" fill="#ff5e5e" stroke="#000" stroke-width="1"/>
<rect x="204.27" y="877.5" width="15.17" height="9.5" fill="#ff3939" stroke="#000" stroke-width="1"/>
<rect x="219.43" y="877.5" width="15.17" height="9.5" fill="#ff1414" stroke="#000" stroke-width="1"/>
<text x="67.77" y="898.6" font-size="9.8" text-anchor="middle">0.01</text>
<text x="98.10" y="898.6" font-size="9.8" text-anchor="middle">0.05</text>
<text x="128.43" y="898.6" font-size="9.8" text-anchor="middle">0.09</text>
<text x="158.77" y="898.6" font-size="9.8" text-anchor="middle">0.13</text>
<text x="189.10" y="898.6" font-size="9.8" text-anchor="middle">0.17</text>
<text x="219.43" y="898.6" font-size="9.8" text-anchor="middle">0.2</text>
<rect x="286.50" y="877.5" width="26.14" height="9.5" fill="#ffffff" stroke="#000" stroke-width="1"/>
<rect x="312.64" y="877.5" width="26.14" height="9.5" fill="#5580ff" stroke="#000" stroke-width="1"/>
<rect x="338.79" y="877.5" width="26.14" height="9.5" fill="#98b0ff" stroke="#000" stroke-width="1"/>
<rect x="364.93" y="877.5" width="26.14" height="9.5" fill="#d8e0ff" stroke="#000" stroke-width="1"/>
<rect x="391.07" y="877.5" width="26.14" height="9.5" fill="#ff9c9c" stroke="#000" stroke-width="1"/>
<rect x="417.21" y="877.5" width="26.14" height="9.5" fill="#ff6060" stroke="#000" stroke-width="1"/>
<rect x="443.36" y="877.5" width="26.14" height="9.5" fill="#ff1a1a" stroke="#000" stroke-width="1"/>
<text x="312.64" y="898.6" font-size="9.8" text-anchor="middle">0.05</text>
<text x="364.93" y="898.6" font-size="9.8" text-anchor="middle">0.15</text>
<text x="417.21" y="898.6" font-size="9.8" text-anchor="middle">0.25</text>
<text x="430.3" y="898.3" font-size="8.1">Surface albedo</text>
<rect x="520.40" y="877.5" width="18.32" height="9.5" fill="#1950ff" stroke="#000" stroke-width="1"/>
<rect x="538.72" y="877.5" width="18.32" height="9.5" fill="#4571ff" stroke="#000" stroke-width="1"/>
<rect x="557.04" y="877.5" width="18.32" height="9.5" fill="#7092ff" stroke="#000" stroke-width="1"/>
<rect x="575.36" y="877.5" width="18.32" height="9.5" fill="#9cb4ff" stroke="#000" stroke-width="1"/>
<rect x="593.68" y="877.5" width="18.32" height="9.5" fill="#c8d5ff" stroke="#000" stroke-width="1"/>
<rect x="612.00" y="877.5" width="18.32" height="9.5" fill="#ffc6c6" stroke="#000" stroke-width="1"/>
<rect x="630.32" y="877.5" width="18.32" height="9.5" fill="#ff9e9e" stroke="#000" stroke-width="1"/>
<rect x="648.64" y="877.5" width="18.32" height="9.5" fill="#ff7676" stroke="#000" stroke-width="1"/>
<rect x="666.96" y="877.5" width="18.32" height="9.5" fill="#ff4c4c" stroke="#000" stroke-width="1"/>
<rect x="685.28" y="877.5" width="18.32" height="9.5" fill="#ff1e1e" stroke="#000" stroke-width="1"/>
<text x="538.72" y="898.6" font-size="9.8" text-anchor="middle">-1.6</text>
<text x="575.36" y="898.6" font-size="9.8" text-anchor="middle">-0.8</text>
<text x="612.00" y="898.6" font-size="9.8" text-anchor="middle">0</text>
<text x="648.64" y="898.6" font-size="9.8" text-anchor="middle">0.8</text>
<text x="685.28" y="898.6" font-size="9.8" text-anchor="middle">1.6</text>
</svg></body></html>
